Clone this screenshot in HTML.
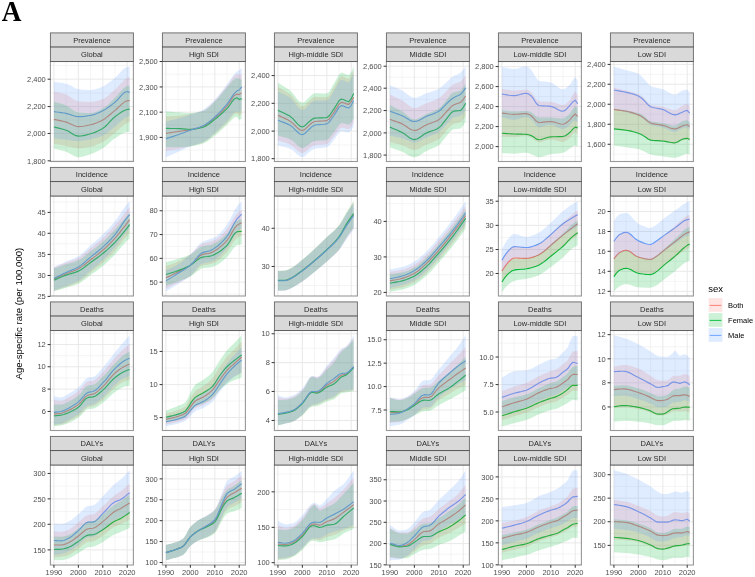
<!DOCTYPE html><html><head><meta charset="utf-8"><title>Figure A</title>
<style>html,body{margin:0;padding:0;background:#fff}svg{display:block;will-change:transform}text{font-family:"Liberation Sans",Arial,sans-serif}</style></head><body>
<svg width="755" height="577" viewBox="0 0 755 577">
<rect width="755" height="577" fill="#fff"/>
<text transform="translate(1.8,20.9) scale(0.935,1)" style="font-family:'Liberation Serif',serif;font-weight:bold;font-size:29.2px" fill="#000">A</text>
<text transform="translate(22.4,313.6) rotate(-90)" text-anchor="middle" font-size="9.6" fill="#000">Age-specific rate (per 100,000)</text>
<g>
<clipPath id="c00"><rect x="50.40" y="61.50" width="83.0" height="100.0"/></clipPath>
<rect x="50.40" y="61.50" width="83.0" height="100.0" fill="#fff"/>
<line x1="50.40" x2="133.40" y1="65.49" y2="65.49" stroke="#ebebeb" stroke-width="0.5"/>
<line x1="50.40" x2="133.40" y1="92.89" y2="92.89" stroke="#ebebeb" stroke-width="0.5"/>
<line x1="50.40" x2="133.40" y1="120.01" y2="120.01" stroke="#ebebeb" stroke-width="0.5"/>
<line x1="50.40" x2="133.40" y1="147.14" y2="147.14" stroke="#ebebeb" stroke-width="0.5"/>
<line x1="66.16" x2="66.16" y1="61.50" y2="161.50" stroke="#ebebeb" stroke-width="0.5"/>
<line x1="90.58" x2="90.58" y1="61.50" y2="161.50" stroke="#ebebeb" stroke-width="0.5"/>
<line x1="115.00" x2="115.00" y1="61.50" y2="161.50" stroke="#ebebeb" stroke-width="0.5"/>
<line x1="50.40" x2="133.40" y1="79.19" y2="79.19" stroke="#e8e8e8" stroke-width="0.95"/>
<line x1="50.40" x2="133.40" y1="106.58" y2="106.58" stroke="#e8e8e8" stroke-width="0.95"/>
<line x1="50.40" x2="133.40" y1="133.44" y2="133.44" stroke="#e8e8e8" stroke-width="0.95"/>
<line x1="50.40" x2="133.40" y1="160.84" y2="160.84" stroke="#e8e8e8" stroke-width="0.95"/>
<line x1="53.95" x2="53.95" y1="61.50" y2="161.50" stroke="#e8e8e8" stroke-width="0.95"/>
<line x1="78.37" x2="78.37" y1="61.50" y2="161.50" stroke="#e8e8e8" stroke-width="0.95"/>
<line x1="102.79" x2="102.79" y1="61.50" y2="161.50" stroke="#e8e8e8" stroke-width="0.95"/>
<line x1="127.21" x2="127.21" y1="61.50" y2="161.50" stroke="#e8e8e8" stroke-width="0.95"/>
<g clip-path="url(#c00)">
<polyline points="53.95,119.38 56.39,119.90 58.83,120.40 61.28,120.91 63.72,121.46 66.16,122.09 68.60,122.99 71.04,124.16 73.49,125.33 75.93,126.23 78.37,126.59 80.81,126.49 83.25,126.21 85.70,125.80 88.14,125.31 90.58,124.79 93.02,124.15 95.46,123.32 97.91,122.31 100.35,121.17 102.79,119.92 105.23,118.41 107.67,116.55 110.12,114.49 112.56,112.38 115.00,110.37 117.44,108.24 119.88,105.88 122.33,103.64 124.77,101.84 127.21,100.82 129.65,100.46" fill="none" stroke="#F8766D" stroke-width="1.15" stroke-linejoin="round"/>
<polyline points="53.95,126.95 56.39,127.57 58.83,128.16 61.28,128.76 63.72,129.43 66.16,130.20 68.60,131.35 71.04,132.90 73.49,134.45 75.93,135.66 78.37,136.14 80.81,136.01 83.25,135.63 85.70,135.10 88.14,134.46 90.58,133.80 93.02,133.06 95.46,132.14 97.91,131.05 100.35,129.80 102.79,128.39 105.23,126.51 107.67,124.06 110.12,121.38 112.56,118.80 115.00,116.68 117.44,114.87 119.88,113.10 122.33,111.52 124.77,110.26 127.21,109.47 129.65,109.11" fill="none" stroke="#00BA38" stroke-width="1.15" stroke-linejoin="round"/>
<polyline points="53.95,111.63 56.39,111.98 58.83,112.30 61.28,112.64 63.72,113.01 66.16,113.43 68.60,114.07 71.04,114.91 73.49,115.76 75.93,116.42 78.37,116.68 80.81,116.61 83.25,116.43 85.70,116.15 88.14,115.80 90.58,115.42 93.02,114.87 95.46,114.06 97.91,113.06 100.35,111.93 102.79,110.73 105.23,109.38 107.67,107.79 110.12,106.03 112.56,104.16 115.00,102.26 117.44,99.92 119.88,97.08 122.33,94.34 124.77,92.26 127.21,91.44 129.65,92.35" fill="none" stroke="#619CFF" stroke-width="1.15" stroke-linejoin="round"/>
<polygon points="53.95,91.44 56.39,92.02 58.83,92.56 61.28,93.11 63.72,93.75 66.16,94.51 68.60,95.73 71.04,97.43 73.49,99.21 75.93,100.65 78.37,101.36 80.81,101.54 83.25,101.69 85.70,101.80 88.14,101.87 90.58,101.90 93.02,101.74 95.46,101.31 97.91,100.66 100.35,99.88 102.79,99.01 105.23,97.81 107.67,96.08 110.12,94.02 112.56,91.81 115.00,89.64 117.44,87.28 119.88,84.59 122.33,81.90 124.77,79.57 127.21,77.93 129.65,77.02 129.65,122.09 127.21,122.99 124.77,124.45 122.33,126.39 119.88,128.60 117.44,130.84 115.00,132.90 112.56,134.84 110.12,136.83 107.67,138.74 105.23,140.47 102.79,141.91 100.35,143.16 97.91,144.32 95.46,145.35 93.02,146.19 90.58,146.78 88.14,147.21 85.70,147.61 83.25,147.93 80.81,148.14 78.37,148.22 75.93,148.05 73.49,147.61 71.04,147.03 68.60,146.41 66.16,145.88 63.72,145.43 61.28,145.00 58.83,144.57 56.39,144.15 53.95,143.72" fill="#F8766D" fill-opacity="0.2"/>
<polygon points="53.95,101.72 56.39,102.44 58.83,103.12 61.28,103.83 63.72,104.60 66.16,105.50 68.60,106.83 71.04,108.59 73.49,110.39 75.93,111.83 78.37,112.53 80.81,112.72 83.25,112.87 85.70,112.98 88.14,113.05 90.58,113.07 93.02,112.81 95.46,112.10 97.91,111.07 100.35,109.85 102.79,108.57 105.23,106.99 107.67,104.92 110.12,102.57 112.56,100.11 115.00,97.75 117.44,95.18 119.88,92.27 122.33,89.47 124.77,87.24 127.21,86.04 129.65,85.68 129.65,132.00 127.21,132.00 124.77,132.41 122.33,133.48 119.88,134.98 117.44,136.66 115.00,138.31 112.56,140.09 110.12,142.19 107.67,144.40 105.23,146.49 102.79,148.22 100.35,149.66 97.91,151.00 95.46,152.21 93.02,153.27 90.58,154.17 88.14,155.01 85.70,155.83 83.25,156.54 80.81,157.04 78.37,157.23 75.93,156.80 73.49,155.72 71.04,154.31 68.60,152.91 66.16,151.83 63.72,151.07 61.28,150.41 58.83,149.80 56.39,149.20 53.95,148.58" fill="#00BA38" fill-opacity="0.2"/>
<polygon points="53.95,81.89 56.39,82.22 58.83,82.53 61.28,82.84 63.72,83.22 66.16,83.69 68.60,84.55 71.04,85.84 73.49,87.23 75.93,88.43 78.37,89.10 80.81,89.39 83.25,89.64 85.70,89.83 88.14,89.96 90.58,90.00 93.02,89.79 95.46,89.22 97.91,88.39 100.35,87.42 102.79,86.40 105.23,85.17 107.67,83.60 110.12,81.79 112.56,79.86 115.00,77.93 117.44,75.58 119.88,72.75 122.33,70.01 124.77,67.93 127.21,67.11 129.65,67.11 129.65,115.78 127.21,116.68 124.77,118.14 122.33,120.09 119.88,122.29 117.44,124.54 115.00,126.59 112.56,128.57 110.12,130.63 107.67,132.60 105.23,134.31 102.79,135.60 100.35,136.56 97.91,137.38 95.46,138.09 93.02,138.69 90.58,139.21 88.14,139.70 85.70,140.19 83.25,140.61 80.81,140.90 78.37,141.01 75.93,140.92 73.49,140.70 71.04,140.39 68.60,140.05 66.16,139.75 63.72,139.47 61.28,139.19 58.83,138.89 56.39,138.60 53.95,138.31" fill="#619CFF" fill-opacity="0.2"/>
</g>
<rect x="50.40" y="61.50" width="83.0" height="100.0" fill="none" stroke="#333" stroke-opacity="0.5" stroke-width="1.1"/>
<rect x="50.40" y="32.90" width="83.0" height="14.2" fill="#d9d9d9" stroke="#333" stroke-opacity="0.72" stroke-width="0.9"/>
<rect x="50.40" y="47.10" width="83.0" height="14.4" fill="#d9d9d9" stroke="#333" stroke-opacity="0.72" stroke-width="0.9"/>
<text x="91.90" y="42.80" text-anchor="middle" font-size="7.5" fill="#2b2b2b">Prevalence</text>
<text x="91.90" y="57.10" text-anchor="middle" font-size="7.5" fill="#2b2b2b">Global</text>
<line x1="47.60" x2="50.40" y1="79.19" y2="79.19" stroke="#333" stroke-width="1.0"/>
<text x="45.80" y="81.89" text-anchor="end" font-size="7.5" fill="#4d4d4d">2,400</text>
<line x1="47.60" x2="50.40" y1="106.58" y2="106.58" stroke="#333" stroke-width="1.0"/>
<text x="45.80" y="109.28" text-anchor="end" font-size="7.5" fill="#4d4d4d">2,200</text>
<line x1="47.60" x2="50.40" y1="133.44" y2="133.44" stroke="#333" stroke-width="1.0"/>
<text x="45.80" y="136.14" text-anchor="end" font-size="7.5" fill="#4d4d4d">2,000</text>
<line x1="47.60" x2="50.40" y1="160.84" y2="160.84" stroke="#333" stroke-width="1.0"/>
<text x="45.80" y="163.54" text-anchor="end" font-size="7.5" fill="#4d4d4d">1,800</text>
</g>
<g>
<clipPath id="c01"><rect x="162.40" y="61.50" width="83.0" height="100.0"/></clipPath>
<rect x="162.40" y="61.50" width="83.0" height="100.0" fill="#fff"/>
<line x1="162.40" x2="245.40" y1="74.23" y2="74.23" stroke="#ebebeb" stroke-width="0.5"/>
<line x1="162.40" x2="245.40" y1="99.56" y2="99.56" stroke="#ebebeb" stroke-width="0.5"/>
<line x1="162.40" x2="245.40" y1="124.79" y2="124.79" stroke="#ebebeb" stroke-width="0.5"/>
<line x1="162.40" x2="245.40" y1="150.11" y2="150.11" stroke="#ebebeb" stroke-width="0.5"/>
<line x1="178.16" x2="178.16" y1="61.50" y2="161.50" stroke="#ebebeb" stroke-width="0.5"/>
<line x1="202.58" x2="202.58" y1="61.50" y2="161.50" stroke="#ebebeb" stroke-width="0.5"/>
<line x1="227.00" x2="227.00" y1="61.50" y2="161.50" stroke="#ebebeb" stroke-width="0.5"/>
<line x1="162.40" x2="245.40" y1="61.52" y2="61.52" stroke="#e8e8e8" stroke-width="0.95"/>
<line x1="162.40" x2="245.40" y1="86.94" y2="86.94" stroke="#e8e8e8" stroke-width="0.95"/>
<line x1="162.40" x2="245.40" y1="112.17" y2="112.17" stroke="#e8e8e8" stroke-width="0.95"/>
<line x1="162.40" x2="245.40" y1="137.41" y2="137.41" stroke="#e8e8e8" stroke-width="0.95"/>
<line x1="165.95" x2="165.95" y1="61.50" y2="161.50" stroke="#e8e8e8" stroke-width="0.95"/>
<line x1="190.37" x2="190.37" y1="61.50" y2="161.50" stroke="#e8e8e8" stroke-width="0.95"/>
<line x1="214.79" x2="214.79" y1="61.50" y2="161.50" stroke="#e8e8e8" stroke-width="0.95"/>
<line x1="239.21" x2="239.21" y1="61.50" y2="161.50" stroke="#e8e8e8" stroke-width="0.95"/>
<g clip-path="url(#c01)">
<polyline points="165.95,133.44 168.39,133.04 170.83,132.64 173.28,132.24 175.72,131.84 178.16,131.46 180.60,131.10 183.04,130.77 185.49,130.44 187.93,130.07 190.37,129.66 192.81,129.19 195.25,128.68 197.70,128.10 200.14,127.41 202.58,126.59 205.02,125.45 207.46,123.91 209.91,122.10 212.35,120.12 214.79,118.12 217.23,116.04 219.67,113.79 222.12,111.39 224.56,108.86 227.00,106.22 229.44,102.83 231.88,98.85 234.33,95.53 236.77,94.15 239.21,94.51 241.65,92.89" fill="none" stroke="#F8766D" stroke-width="1.15" stroke-linejoin="round"/>
<polyline points="165.95,128.39 168.39,128.43 170.83,128.46 173.28,128.49 175.72,128.52 178.16,128.57 180.60,128.69 183.04,128.87 185.49,129.07 187.93,129.23 190.37,129.30 192.81,129.20 195.25,128.94 197.70,128.55 200.14,128.06 202.58,127.49 205.02,126.57 207.46,125.10 209.91,123.29 212.35,121.32 214.79,119.38 217.23,117.46 219.67,115.40 222.12,113.22 224.56,110.94 227.00,108.57 229.44,105.52 231.88,101.95 234.33,98.99 236.77,97.75 239.21,99.56 241.65,98.65" fill="none" stroke="#00BA38" stroke-width="1.15" stroke-linejoin="round"/>
<polyline points="165.95,138.67 168.39,137.88 170.83,137.11 173.28,136.33 175.72,135.53 178.16,134.70 180.60,133.83 183.04,132.92 185.49,132.00 187.93,131.08 190.37,130.20 192.81,129.39 195.25,128.66 197.70,127.91 200.14,127.07 202.58,126.05 205.02,124.73 207.46,123.08 209.91,121.20 212.35,119.16 214.79,117.04 217.23,114.79 219.67,112.33 222.12,109.69 224.56,106.92 227.00,104.06 229.44,100.68 231.88,96.86 234.33,93.40 236.77,91.08 239.21,90.00 241.65,86.94" fill="none" stroke="#619CFF" stroke-width="1.15" stroke-linejoin="round"/>
<polygon points="165.95,116.32 168.39,116.22 170.83,116.13 173.28,116.04 175.72,115.92 178.16,115.78 180.60,115.56 183.04,115.24 185.49,114.86 187.93,114.43 190.37,113.97 192.81,113.52 195.25,113.02 197.70,112.45 200.14,111.76 202.58,110.91 205.02,109.64 207.46,107.83 209.91,105.65 212.35,103.25 214.79,100.82 217.23,98.22 219.67,95.30 222.12,92.21 224.56,89.07 227.00,86.04 229.44,82.55 231.88,78.71 234.33,75.60 236.77,74.32 239.21,74.32 241.65,74.32 241.65,113.97 239.21,115.78 236.77,113.07 234.33,114.19 231.88,116.87 229.44,120.14 227.00,122.99 224.56,125.28 222.12,127.52 219.67,129.69 217.23,131.79 214.79,133.80 212.35,135.84 209.91,137.93 207.46,139.90 205.02,141.58 202.58,142.81 200.14,143.66 197.70,144.34 195.25,144.92 192.81,145.47 190.37,146.06 187.93,146.71 185.49,147.37 183.04,148.02 180.60,148.61 178.16,149.12 175.72,149.54 173.28,149.91 170.83,150.25 168.39,150.58 165.95,150.93" fill="#F8766D" fill-opacity="0.2"/>
<polygon points="165.95,111.27 168.39,111.49 170.83,111.72 173.28,111.95 175.72,112.16 178.16,112.35 180.60,112.54 183.04,112.73 185.49,112.90 187.93,113.03 190.37,113.07 192.81,112.98 195.25,112.73 197.70,112.34 200.14,111.85 202.58,111.27 205.02,110.26 207.46,108.57 209.91,106.44 212.35,104.08 214.79,101.72 217.23,99.19 219.67,96.30 222.12,93.26 224.56,90.25 227.00,87.48 229.44,84.53 231.88,81.41 234.33,78.93 236.77,77.93 239.21,78.83 241.65,79.73 241.65,118.84 239.21,119.92 236.77,116.68 234.33,117.55 231.88,119.69 229.44,122.35 227.00,124.79 224.56,126.96 222.12,129.21 219.67,131.47 217.23,133.63 214.79,135.60 212.35,137.50 209.91,139.40 207.46,141.17 205.02,142.65 202.58,143.72 200.14,144.47 197.70,145.12 195.25,145.66 192.81,146.09 190.37,146.42 187.93,146.69 185.49,146.93 183.04,147.13 180.60,147.27 178.16,147.32 175.72,147.32 173.28,147.32 170.83,147.32 168.39,147.32 165.95,147.32" fill="#00BA38" fill-opacity="0.2"/>
<polygon points="165.95,121.55 168.39,120.94 170.83,120.36 173.28,119.76 175.72,119.14 178.16,118.48 180.60,117.76 183.04,116.99 185.49,116.19 187.93,115.36 190.37,114.52 192.81,113.71 195.25,112.93 197.70,112.10 200.14,111.15 202.58,110.01 205.02,108.51 207.46,106.62 209.91,104.42 212.35,102.03 214.79,99.56 217.23,96.87 219.67,93.87 222.12,90.67 224.56,87.42 227.00,84.23 229.44,80.86 231.88,77.29 234.33,74.04 236.77,71.62 239.21,70.18 241.65,68.01 241.65,110.37 239.21,112.17 236.77,111.27 234.33,112.37 231.88,115.02 229.44,118.28 227.00,121.18 224.56,123.61 222.12,126.05 219.67,128.43 217.23,130.73 214.79,132.90 212.35,135.02 209.91,137.15 207.46,139.15 205.02,140.90 202.58,142.27 200.14,143.29 197.70,144.11 195.25,144.84 192.81,145.57 190.37,146.42 187.93,147.41 185.49,148.48 183.04,149.59 180.60,150.72 178.16,151.83 175.72,152.91 173.28,153.99 170.83,155.07 168.39,156.15 165.95,157.23" fill="#619CFF" fill-opacity="0.2"/>
</g>
<rect x="162.40" y="61.50" width="83.0" height="100.0" fill="none" stroke="#333" stroke-opacity="0.5" stroke-width="1.1"/>
<rect x="162.40" y="32.90" width="83.0" height="14.2" fill="#d9d9d9" stroke="#333" stroke-opacity="0.72" stroke-width="0.9"/>
<rect x="162.40" y="47.10" width="83.0" height="14.4" fill="#d9d9d9" stroke="#333" stroke-opacity="0.72" stroke-width="0.9"/>
<text x="203.90" y="42.80" text-anchor="middle" font-size="7.5" fill="#2b2b2b">Prevalence</text>
<text x="203.90" y="57.10" text-anchor="middle" font-size="7.5" fill="#2b2b2b">High SDI</text>
<line x1="159.60" x2="162.40" y1="61.52" y2="61.52" stroke="#333" stroke-width="1.0"/>
<text x="157.80" y="64.22" text-anchor="end" font-size="7.5" fill="#4d4d4d">2,500</text>
<line x1="159.60" x2="162.40" y1="86.94" y2="86.94" stroke="#333" stroke-width="1.0"/>
<text x="157.80" y="89.64" text-anchor="end" font-size="7.5" fill="#4d4d4d">2,300</text>
<line x1="159.60" x2="162.40" y1="112.17" y2="112.17" stroke="#333" stroke-width="1.0"/>
<text x="157.80" y="114.87" text-anchor="end" font-size="7.5" fill="#4d4d4d">2,100</text>
<line x1="159.60" x2="162.40" y1="137.41" y2="137.41" stroke="#333" stroke-width="1.0"/>
<text x="157.80" y="140.11" text-anchor="end" font-size="7.5" fill="#4d4d4d">1,900</text>
</g>
<g>
<clipPath id="c02"><rect x="274.40" y="61.50" width="83.0" height="100.0"/></clipPath>
<rect x="274.40" y="61.50" width="83.0" height="100.0" fill="#fff"/>
<line x1="274.40" x2="357.40" y1="61.70" y2="61.70" stroke="#ebebeb" stroke-width="0.5"/>
<line x1="274.40" x2="357.40" y1="89.46" y2="89.46" stroke="#ebebeb" stroke-width="0.5"/>
<line x1="274.40" x2="357.40" y1="117.22" y2="117.22" stroke="#ebebeb" stroke-width="0.5"/>
<line x1="274.40" x2="357.40" y1="144.89" y2="144.89" stroke="#ebebeb" stroke-width="0.5"/>
<line x1="290.16" x2="290.16" y1="61.50" y2="161.50" stroke="#ebebeb" stroke-width="0.5"/>
<line x1="314.58" x2="314.58" y1="61.50" y2="161.50" stroke="#ebebeb" stroke-width="0.5"/>
<line x1="339.00" x2="339.00" y1="61.50" y2="161.50" stroke="#ebebeb" stroke-width="0.5"/>
<line x1="274.40" x2="357.40" y1="75.58" y2="75.58" stroke="#e8e8e8" stroke-width="0.95"/>
<line x1="274.40" x2="357.40" y1="103.34" y2="103.34" stroke="#e8e8e8" stroke-width="0.95"/>
<line x1="274.40" x2="357.40" y1="131.10" y2="131.10" stroke="#e8e8e8" stroke-width="0.95"/>
<line x1="274.40" x2="357.40" y1="158.68" y2="158.68" stroke="#e8e8e8" stroke-width="0.95"/>
<line x1="277.95" x2="277.95" y1="61.50" y2="161.50" stroke="#e8e8e8" stroke-width="0.95"/>
<line x1="302.37" x2="302.37" y1="61.50" y2="161.50" stroke="#e8e8e8" stroke-width="0.95"/>
<line x1="326.79" x2="326.79" y1="61.50" y2="161.50" stroke="#e8e8e8" stroke-width="0.95"/>
<line x1="351.21" x2="351.21" y1="61.50" y2="161.50" stroke="#e8e8e8" stroke-width="0.95"/>
<g clip-path="url(#c02)">
<polyline points="277.95,115.24 280.39,116.38 282.83,117.49 285.28,118.61 287.72,119.82 290.16,121.18 292.60,123.09 295.04,125.53 297.49,127.96 299.93,129.82 302.37,130.56 304.81,129.45 307.25,127.06 309.70,124.79 312.14,122.82 314.58,121.55 317.02,121.28 319.46,121.14 321.91,121.05 324.35,120.91 326.79,120.64 329.23,118.96 331.67,115.64 334.12,112.17 336.56,108.25 339.00,104.15 341.44,102.26 343.88,102.82 346.33,103.86 348.77,104.42 351.21,101.72 353.65,97.21" fill="none" stroke="#F8766D" stroke-width="1.15" stroke-linejoin="round"/>
<polyline points="277.95,110.37 280.39,111.51 282.83,112.59 285.28,113.70 287.72,114.91 290.16,116.32 292.60,118.40 295.04,121.16 297.49,123.94 299.93,126.09 302.37,126.95 304.81,125.83 307.25,123.43 309.70,121.18 312.14,119.29 314.58,118.12 317.02,117.95 319.46,117.87 321.91,117.82 324.35,117.74 326.79,117.58 329.23,115.83 331.67,112.23 334.12,108.57 336.56,104.72 339.00,100.80 341.44,99.01 343.88,99.72 346.33,101.02 348.77,101.72 351.21,98.68 353.65,93.61" fill="none" stroke="#00BA38" stroke-width="1.15" stroke-linejoin="round"/>
<polyline points="277.95,120.28 280.39,121.24 282.83,122.16 285.28,123.09 287.72,124.13 290.16,125.33 292.60,127.14 295.04,129.57 297.49,132.03 299.93,133.94 302.37,134.70 304.81,133.58 307.25,131.13 309.70,128.75 312.14,126.61 314.58,125.15 317.02,124.78 319.46,124.59 321.91,124.45 324.35,124.26 326.79,123.89 329.23,122.10 331.67,118.73 334.12,115.24 336.56,111.36 339.00,107.35 341.44,105.50 343.88,106.16 346.33,107.37 348.77,108.03 351.21,105.32 353.65,100.82" fill="none" stroke="#619CFF" stroke-width="1.15" stroke-linejoin="round"/>
<polygon points="277.95,86.94 280.39,88.32 282.83,89.65 285.28,91.00 287.72,92.47 290.16,94.15 292.60,96.56 295.04,99.70 297.49,102.84 299.93,105.26 302.37,106.22 304.81,105.14 307.25,102.78 309.70,100.46 312.14,98.19 314.58,96.85 317.02,96.89 319.46,96.98 321.91,97.09 324.35,97.17 326.79,97.21 329.23,95.33 331.67,91.16 334.12,86.94 336.56,82.57 339.00,78.15 341.44,76.12 343.88,76.82 346.33,78.13 348.77,78.83 351.21,75.45 353.65,69.81 353.65,122.45 351.21,126.73 348.77,129.30 346.33,128.83 343.88,127.96 341.44,127.49 339.00,129.12 336.56,132.68 334.12,136.14 331.67,139.33 329.23,142.44 326.79,144.08 324.35,144.40 321.91,144.56 319.46,144.68 317.02,144.84 314.58,145.16 312.14,146.40 309.70,148.22 307.25,150.18 304.81,152.18 302.37,153.09 299.93,152.39 297.49,150.64 295.04,148.40 292.60,146.21 290.16,144.62 287.72,143.61 285.28,142.75 282.83,141.99 280.39,141.25 277.95,140.47" fill="#F8766D" fill-opacity="0.2"/>
<polygon points="277.95,82.79 280.39,84.29 282.83,85.72 285.28,87.19 287.72,88.77 290.16,90.54 292.60,93.03 295.04,96.22 297.49,99.40 299.93,101.83 302.37,102.80 304.81,101.68 307.25,99.23 309.70,96.85 312.14,94.58 314.58,93.25 317.02,93.28 319.46,93.37 321.91,93.48 324.35,93.57 326.79,93.61 329.23,91.72 331.67,87.56 334.12,83.33 336.56,78.97 339.00,74.54 341.44,72.52 343.88,73.22 346.33,74.52 348.77,75.22 351.21,71.98 353.65,66.57 353.65,118.48 351.21,122.42 348.77,124.79 346.33,124.32 343.88,123.45 341.44,122.99 339.00,124.69 336.56,128.40 334.12,132.00 331.67,135.29 329.23,138.48 326.79,140.11 324.35,140.38 321.91,140.52 319.46,140.61 317.02,140.75 314.58,141.01 312.14,142.10 309.70,143.72 307.25,145.51 304.81,147.37 302.37,148.22 299.93,147.45 297.49,145.54 295.04,143.12 292.60,140.81 290.16,139.21 287.72,138.29 285.28,137.54 282.83,136.90 280.39,136.28 277.95,135.60" fill="#00BA38" fill-opacity="0.2"/>
<polygon points="277.95,91.44 280.39,92.64 282.83,93.77 285.28,94.94 287.72,96.23 290.16,97.75 292.60,100.09 295.04,103.27 297.49,106.49 299.93,109.00 302.37,110.01 304.81,108.89 307.25,106.44 309.70,104.06 312.14,101.79 314.58,100.46 317.02,100.46 319.46,100.46 321.91,100.46 324.35,100.46 326.79,100.46 329.23,98.65 331.67,94.65 334.12,90.54 336.56,86.21 339.00,81.77 341.44,79.73 343.88,80.43 346.33,81.73 348.77,82.43 351.21,79.05 353.65,73.42 353.65,126.59 351.21,130.31 348.77,132.54 346.33,132.17 343.88,131.47 341.44,131.10 339.00,132.74 336.56,136.31 334.12,139.75 331.67,142.79 329.23,145.71 326.79,147.32 324.35,147.74 321.91,147.97 319.46,148.13 317.02,148.36 314.58,148.76 312.14,150.02 309.70,151.83 307.25,153.96 304.81,156.20 302.37,157.23 299.93,156.50 297.49,154.70 295.04,152.42 292.60,150.24 290.16,148.76 287.72,147.93 285.28,147.26 282.83,146.68 280.39,146.12 277.95,145.52" fill="#619CFF" fill-opacity="0.2"/>
</g>
<rect x="274.40" y="61.50" width="83.0" height="100.0" fill="none" stroke="#333" stroke-opacity="0.5" stroke-width="1.1"/>
<rect x="274.40" y="32.90" width="83.0" height="14.2" fill="#d9d9d9" stroke="#333" stroke-opacity="0.72" stroke-width="0.9"/>
<rect x="274.40" y="47.10" width="83.0" height="14.4" fill="#d9d9d9" stroke="#333" stroke-opacity="0.72" stroke-width="0.9"/>
<text x="315.90" y="42.80" text-anchor="middle" font-size="7.5" fill="#2b2b2b">Prevalence</text>
<text x="315.90" y="57.10" text-anchor="middle" font-size="7.5" fill="#2b2b2b">High-middle SDI</text>
<line x1="271.60" x2="274.40" y1="75.58" y2="75.58" stroke="#333" stroke-width="1.0"/>
<text x="269.80" y="78.28" text-anchor="end" font-size="7.5" fill="#4d4d4d">2,400</text>
<line x1="271.60" x2="274.40" y1="103.34" y2="103.34" stroke="#333" stroke-width="1.0"/>
<text x="269.80" y="106.04" text-anchor="end" font-size="7.5" fill="#4d4d4d">2,200</text>
<line x1="271.60" x2="274.40" y1="131.10" y2="131.10" stroke="#333" stroke-width="1.0"/>
<text x="269.80" y="133.80" text-anchor="end" font-size="7.5" fill="#4d4d4d">2,000</text>
<line x1="271.60" x2="274.40" y1="158.68" y2="158.68" stroke="#333" stroke-width="1.0"/>
<text x="269.80" y="161.38" text-anchor="end" font-size="7.5" fill="#4d4d4d">1,800</text>
</g>
<g>
<clipPath id="c03"><rect x="386.40" y="61.50" width="83.0" height="100.0"/></clipPath>
<rect x="386.40" y="61.50" width="83.0" height="100.0" fill="#fff"/>
<line x1="386.40" x2="469.40" y1="77.20" y2="77.20" stroke="#ebebeb" stroke-width="0.5"/>
<line x1="386.40" x2="469.40" y1="99.37" y2="99.37" stroke="#ebebeb" stroke-width="0.5"/>
<line x1="386.40" x2="469.40" y1="121.73" y2="121.73" stroke="#ebebeb" stroke-width="0.5"/>
<line x1="386.40" x2="469.40" y1="143.99" y2="143.99" stroke="#ebebeb" stroke-width="0.5"/>
<line x1="402.16" x2="402.16" y1="61.50" y2="161.50" stroke="#ebebeb" stroke-width="0.5"/>
<line x1="426.58" x2="426.58" y1="61.50" y2="161.50" stroke="#ebebeb" stroke-width="0.5"/>
<line x1="451.00" x2="451.00" y1="61.50" y2="161.50" stroke="#ebebeb" stroke-width="0.5"/>
<line x1="386.40" x2="469.40" y1="66.21" y2="66.21" stroke="#e8e8e8" stroke-width="0.95"/>
<line x1="386.40" x2="469.40" y1="88.20" y2="88.20" stroke="#e8e8e8" stroke-width="0.95"/>
<line x1="386.40" x2="469.40" y1="110.55" y2="110.55" stroke="#e8e8e8" stroke-width="0.95"/>
<line x1="386.40" x2="469.40" y1="132.90" y2="132.90" stroke="#e8e8e8" stroke-width="0.95"/>
<line x1="386.40" x2="469.40" y1="155.07" y2="155.07" stroke="#e8e8e8" stroke-width="0.95"/>
<line x1="389.95" x2="389.95" y1="61.50" y2="161.50" stroke="#e8e8e8" stroke-width="0.95"/>
<line x1="414.37" x2="414.37" y1="61.50" y2="161.50" stroke="#e8e8e8" stroke-width="0.95"/>
<line x1="438.79" x2="438.79" y1="61.50" y2="161.50" stroke="#e8e8e8" stroke-width="0.95"/>
<line x1="463.21" x2="463.21" y1="61.50" y2="161.50" stroke="#e8e8e8" stroke-width="0.95"/>
<g clip-path="url(#c03)">
<polyline points="389.95,119.38 392.39,120.26 394.83,121.10 397.28,121.96 399.72,122.88 402.16,123.89 404.60,125.27 407.04,127.01 409.49,128.73 411.93,130.04 414.37,130.56 416.81,130.13 419.25,129.04 421.70,127.59 424.14,126.08 426.58,124.79 429.02,123.81 431.46,122.96 433.91,122.08 436.35,121.05 438.79,119.74 441.23,117.66 443.67,114.90 446.12,112.17 448.56,109.50 451.00,106.87 453.44,104.96 455.88,104.00 458.33,103.32 460.77,102.26 463.21,99.53 465.65,95.95" fill="none" stroke="#F8766D" stroke-width="1.15" stroke-linejoin="round"/>
<polyline points="389.95,127.13 392.39,128.19 394.83,129.23 397.28,130.28 399.72,131.37 402.16,132.54 404.60,134.05 407.04,135.89 409.49,137.68 411.93,139.03 414.37,139.57 416.81,139.06 419.25,137.77 421.70,136.08 424.14,134.33 426.58,132.90 429.02,131.89 431.46,131.04 433.91,130.19 436.35,129.19 438.79,127.85 441.23,125.58 443.67,122.46 446.12,119.38 448.56,116.17 451.00,113.00 453.44,111.27 455.88,110.93 458.33,110.74 460.77,110.37 463.21,107.52 465.65,103.16" fill="none" stroke="#00BA38" stroke-width="1.15" stroke-linejoin="round"/>
<polyline points="389.95,111.27 392.39,112.15 394.83,113.02 397.28,113.90 399.72,114.81 402.16,115.78 404.60,117.02 407.04,118.54 409.49,120.00 411.93,121.11 414.37,121.55 416.81,121.17 419.25,120.20 421.70,118.90 424.14,117.52 426.58,116.32 429.02,115.37 431.46,114.51 433.91,113.61 436.35,112.57 438.79,111.27 441.23,109.25 443.67,106.60 446.12,104.06 448.56,101.77 451.00,99.57 453.44,97.75 455.88,96.54 458.33,95.54 460.77,94.15 463.21,91.33 465.65,87.84" fill="none" stroke="#619CFF" stroke-width="1.15" stroke-linejoin="round"/>
<polygon points="389.95,94.69 392.39,95.82 394.83,96.92 397.28,98.04 399.72,99.20 402.16,100.46 404.60,102.08 407.04,104.06 409.49,105.99 411.93,107.45 414.37,108.03 416.81,107.68 419.25,106.78 421.70,105.57 424.14,104.29 426.58,103.16 429.02,102.26 431.46,101.42 433.91,100.56 436.35,99.55 438.79,98.29 441.23,96.41 443.67,93.95 446.12,91.44 448.56,88.83 451.00,86.17 453.44,84.23 455.88,83.27 458.33,82.59 460.77,81.53 463.21,78.80 465.65,75.22 465.65,115.78 463.21,119.46 460.77,122.09 458.33,122.81 455.88,123.23 453.44,123.89 451.00,125.62 448.56,128.31 446.12,131.10 443.67,133.98 441.23,136.96 438.79,139.21 436.35,140.62 433.91,141.75 431.46,142.70 429.02,143.62 426.58,144.62 424.14,145.87 421.70,147.30 419.25,148.64 416.81,149.63 414.37,150.02 411.93,149.64 409.49,148.68 407.04,147.43 404.60,146.16 402.16,145.16 399.72,144.43 397.28,143.77 394.83,143.15 392.39,142.54 389.95,141.91" fill="#F8766D" fill-opacity="0.2"/>
<polygon points="389.95,104.96 392.39,106.20 394.83,107.41 397.28,108.63 399.72,109.91 402.16,111.27 404.60,113.02 407.04,115.15 409.49,117.21 411.93,118.77 414.37,119.38 416.81,118.99 419.25,118.00 421.70,116.66 424.14,115.23 426.58,113.97 429.02,112.98 431.46,112.06 433.91,111.11 436.35,109.98 438.79,108.57 441.23,106.35 443.67,103.40 446.12,100.46 448.56,97.37 451.00,94.28 453.44,92.35 455.88,91.68 458.33,91.27 460.77,90.54 463.21,87.57 465.65,83.33 465.65,121.18 463.21,125.54 460.77,128.39 458.33,128.77 455.88,128.96 453.44,129.30 451.00,130.82 448.56,133.59 446.12,136.51 443.67,139.53 441.23,142.74 438.79,145.16 436.35,146.66 433.91,147.84 431.46,148.85 429.02,149.83 426.58,150.93 424.14,152.35 421.70,154.01 419.25,155.59 416.81,156.77 414.37,157.23 411.93,156.83 409.49,155.80 407.04,154.44 404.60,153.02 402.16,151.83 399.72,150.87 397.28,149.96 394.83,149.08 392.39,148.21 389.95,147.32" fill="#00BA38" fill-opacity="0.2"/>
<polygon points="389.95,85.14 392.39,86.19 394.83,87.22 397.28,88.27 399.72,89.36 402.16,90.54 404.60,92.08 407.04,93.97 409.49,95.81 411.93,97.20 414.37,97.75 416.81,97.43 419.25,96.60 421.70,95.48 424.14,94.29 426.58,93.25 429.02,92.41 431.46,91.64 433.91,90.83 436.35,89.90 438.79,88.74 441.23,86.99 443.67,84.71 446.12,82.43 448.56,80.20 451.00,77.97 453.44,76.12 455.88,74.91 458.33,73.91 460.77,72.52 463.21,69.70 465.65,66.21 465.65,109.47 463.21,113.15 460.77,115.78 458.33,116.50 455.88,116.92 453.44,117.58 451.00,119.34 448.56,122.07 446.12,124.79 443.67,127.38 441.23,129.98 438.79,132.00 436.35,133.38 433.91,134.51 431.46,135.49 429.02,136.42 426.58,137.41 424.14,138.60 421.70,139.93 419.25,141.18 416.81,142.10 414.37,142.45 411.93,142.13 409.49,141.31 407.04,140.24 404.60,139.16 402.16,138.31 399.72,137.69 397.28,137.14 394.83,136.63 392.39,136.13 389.95,135.60" fill="#619CFF" fill-opacity="0.2"/>
</g>
<rect x="386.40" y="61.50" width="83.0" height="100.0" fill="none" stroke="#333" stroke-opacity="0.5" stroke-width="1.1"/>
<rect x="386.40" y="32.90" width="83.0" height="14.2" fill="#d9d9d9" stroke="#333" stroke-opacity="0.72" stroke-width="0.9"/>
<rect x="386.40" y="47.10" width="83.0" height="14.4" fill="#d9d9d9" stroke="#333" stroke-opacity="0.72" stroke-width="0.9"/>
<text x="427.90" y="42.80" text-anchor="middle" font-size="7.5" fill="#2b2b2b">Prevalence</text>
<text x="427.90" y="57.10" text-anchor="middle" font-size="7.5" fill="#2b2b2b">Middle SDI</text>
<line x1="383.60" x2="386.40" y1="66.21" y2="66.21" stroke="#333" stroke-width="1.0"/>
<text x="381.80" y="68.91" text-anchor="end" font-size="7.5" fill="#4d4d4d">2,600</text>
<line x1="383.60" x2="386.40" y1="88.20" y2="88.20" stroke="#333" stroke-width="1.0"/>
<text x="381.80" y="90.90" text-anchor="end" font-size="7.5" fill="#4d4d4d">2,400</text>
<line x1="383.60" x2="386.40" y1="110.55" y2="110.55" stroke="#333" stroke-width="1.0"/>
<text x="381.80" y="113.25" text-anchor="end" font-size="7.5" fill="#4d4d4d">2,200</text>
<line x1="383.60" x2="386.40" y1="132.90" y2="132.90" stroke="#333" stroke-width="1.0"/>
<text x="381.80" y="135.60" text-anchor="end" font-size="7.5" fill="#4d4d4d">2,000</text>
<line x1="383.60" x2="386.40" y1="155.07" y2="155.07" stroke="#333" stroke-width="1.0"/>
<text x="381.80" y="157.77" text-anchor="end" font-size="7.5" fill="#4d4d4d">1,800</text>
</g>
<g>
<clipPath id="c04"><rect x="498.40" y="61.50" width="83.0" height="100.0"/></clipPath>
<rect x="498.40" y="61.50" width="83.0" height="100.0" fill="#fff"/>
<line x1="498.40" x2="581.40" y1="76.57" y2="76.57" stroke="#ebebeb" stroke-width="0.5"/>
<line x1="498.40" x2="581.40" y1="96.58" y2="96.58" stroke="#ebebeb" stroke-width="0.5"/>
<line x1="498.40" x2="581.40" y1="116.59" y2="116.59" stroke="#ebebeb" stroke-width="0.5"/>
<line x1="498.40" x2="581.40" y1="136.60" y2="136.60" stroke="#ebebeb" stroke-width="0.5"/>
<line x1="498.40" x2="581.40" y1="156.60" y2="156.60" stroke="#ebebeb" stroke-width="0.5"/>
<line x1="514.16" x2="514.16" y1="61.50" y2="161.50" stroke="#ebebeb" stroke-width="0.5"/>
<line x1="538.58" x2="538.58" y1="61.50" y2="161.50" stroke="#ebebeb" stroke-width="0.5"/>
<line x1="563.00" x2="563.00" y1="61.50" y2="161.50" stroke="#ebebeb" stroke-width="0.5"/>
<line x1="498.40" x2="581.40" y1="66.57" y2="66.57" stroke="#e8e8e8" stroke-width="0.95"/>
<line x1="498.40" x2="581.40" y1="86.58" y2="86.58" stroke="#e8e8e8" stroke-width="0.95"/>
<line x1="498.40" x2="581.40" y1="106.58" y2="106.58" stroke="#e8e8e8" stroke-width="0.95"/>
<line x1="498.40" x2="581.40" y1="126.59" y2="126.59" stroke="#e8e8e8" stroke-width="0.95"/>
<line x1="498.40" x2="581.40" y1="146.60" y2="146.60" stroke="#e8e8e8" stroke-width="0.95"/>
<line x1="501.95" x2="501.95" y1="61.50" y2="161.50" stroke="#e8e8e8" stroke-width="0.95"/>
<line x1="526.37" x2="526.37" y1="61.50" y2="161.50" stroke="#e8e8e8" stroke-width="0.95"/>
<line x1="550.79" x2="550.79" y1="61.50" y2="161.50" stroke="#e8e8e8" stroke-width="0.95"/>
<line x1="575.21" x2="575.21" y1="61.50" y2="161.50" stroke="#e8e8e8" stroke-width="0.95"/>
<g clip-path="url(#c04)">
<polyline points="501.95,113.07 504.39,113.37 506.83,113.70 509.28,114.01 511.72,114.24 514.16,114.34 516.60,114.26 519.04,114.08 521.49,113.87 523.93,113.69 526.37,113.61 528.81,114.34 531.25,115.78 533.70,118.14 536.14,121.03 538.58,122.45 541.02,122.35 543.46,122.13 545.91,121.86 548.35,121.64 550.79,121.55 553.23,121.83 555.67,122.50 558.12,123.30 560.56,123.97 563.00,124.25 565.44,123.45 567.88,121.56 570.33,119.38 572.77,116.16 575.21,113.97 577.65,116.32" fill="none" stroke="#F8766D" stroke-width="1.15" stroke-linejoin="round"/>
<polyline points="501.95,133.26 504.39,133.41 506.83,133.57 509.28,133.73 511.72,133.87 514.16,133.98 516.60,134.06 519.04,134.11 521.49,134.16 523.93,134.23 526.37,134.34 528.81,134.80 531.25,135.60 533.70,137.05 536.14,138.86 538.58,139.75 541.02,139.47 543.46,138.80 545.91,137.97 548.35,137.25 550.79,136.87 553.23,136.77 555.67,136.72 558.12,136.68 560.56,136.62 563.00,136.51 565.44,135.69 567.88,133.97 570.33,132.00 572.77,129.09 575.21,127.13 577.65,127.85" fill="none" stroke="#00BA38" stroke-width="1.15" stroke-linejoin="round"/>
<polyline points="501.95,94.15 504.39,94.48 506.83,94.86 509.28,95.22 511.72,95.49 514.16,95.59 516.60,95.35 519.04,94.76 521.49,94.07 523.93,93.49 526.37,93.25 528.81,94.14 531.25,95.95 533.70,99.17 536.14,103.27 538.58,105.50 541.02,105.78 543.46,105.94 545.91,106.05 548.35,106.18 550.79,106.40 553.23,107.11 555.67,108.34 558.12,109.70 560.56,110.81 563.00,111.27 565.44,110.14 567.88,107.61 570.33,104.96 572.77,101.96 575.21,100.10 577.65,103.70" fill="none" stroke="#619CFF" stroke-width="1.15" stroke-linejoin="round"/>
<polygon points="501.95,88.74 504.39,89.16 506.83,89.63 509.28,90.08 511.72,90.41 514.16,90.54 516.60,90.45 519.04,90.23 521.49,89.96 523.93,89.74 526.37,89.64 528.81,90.54 531.25,92.35 533.70,95.44 536.14,99.32 538.58,101.36 541.02,101.53 543.46,101.62 545.91,101.68 548.35,101.76 550.79,101.90 553.23,102.33 555.67,103.11 558.12,103.97 560.56,104.67 563.00,104.96 565.44,104.13 567.88,102.10 570.33,99.56 572.77,94.86 575.21,91.44 577.65,95.05 577.65,134.70 575.21,132.00 572.77,134.21 570.33,137.41 567.88,139.45 565.44,141.18 563.00,141.91 560.56,141.67 558.12,141.09 555.67,140.39 553.23,139.81 550.79,139.57 548.35,139.85 545.91,140.52 543.46,141.32 541.02,141.99 538.58,142.27 536.14,141.26 533.70,139.17 531.25,137.41 528.81,136.22 526.37,135.60 523.93,135.74 521.49,136.05 519.04,136.42 516.60,136.73 514.16,136.87 511.72,136.84 509.28,136.77 506.83,136.68 504.39,136.59 501.95,136.51" fill="#F8766D" fill-opacity="0.2"/>
<polygon points="501.95,110.37 504.39,110.58 506.83,110.82 509.28,111.04 511.72,111.21 514.16,111.27 516.60,111.23 519.04,111.14 521.49,111.04 523.93,110.95 526.37,110.91 528.81,111.32 531.25,112.17 533.70,113.98 536.14,116.38 538.58,117.58 541.02,117.58 543.46,117.58 545.91,117.58 548.35,117.58 550.79,117.58 553.23,117.67 555.67,117.90 558.12,118.16 560.56,118.39 563.00,118.48 565.44,117.61 567.88,115.55 570.33,113.07 572.77,109.05 575.21,106.22 577.65,107.67 577.65,146.42 575.21,145.52 572.77,146.51 570.33,148.22 567.88,149.91 565.44,151.65 563.00,152.73 560.56,153.14 558.12,153.42 555.67,153.63 553.23,153.85 550.79,154.17 548.35,154.74 545.91,155.53 543.46,156.34 541.02,156.98 538.58,157.23 536.14,156.62 533.70,155.34 531.25,154.17 528.81,153.24 526.37,152.73 523.93,152.82 521.49,153.04 519.04,153.31 516.60,153.53 514.16,153.63 511.72,153.59 509.28,153.49 506.83,153.36 504.39,153.21 501.95,153.09" fill="#00BA38" fill-opacity="0.2"/>
<polygon points="501.95,67.11 504.39,67.53 506.83,68.01 509.28,68.45 511.72,68.78 514.16,68.91 516.60,68.63 519.04,67.96 521.49,67.16 523.93,66.49 526.37,66.21 528.81,67.42 531.25,69.81 533.70,73.51 536.14,78.04 538.58,80.63 541.02,81.18 543.46,81.50 545.91,81.72 548.35,81.99 550.79,82.43 553.23,83.51 555.67,85.25 558.12,87.14 560.56,88.66 563.00,89.28 565.44,88.50 567.88,86.59 570.33,84.23 572.77,80.04 575.21,77.02 577.65,80.63 577.65,122.99 575.21,120.28 572.77,122.08 570.33,124.79 567.88,126.77 565.44,128.53 563.00,129.30 560.56,128.83 558.12,127.71 555.67,126.38 553.23,125.26 550.79,124.79 548.35,125.03 545.91,125.61 543.46,126.31 541.02,126.89 538.58,127.13 536.14,125.47 533.70,122.09 531.25,119.38 528.81,117.82 526.37,117.04 523.93,117.34 521.49,118.05 519.04,118.91 516.60,119.62 514.16,119.92 511.72,119.72 509.28,119.18 506.83,118.47 504.39,117.71 501.95,117.04" fill="#619CFF" fill-opacity="0.2"/>
</g>
<rect x="498.40" y="61.50" width="83.0" height="100.0" fill="none" stroke="#333" stroke-opacity="0.5" stroke-width="1.1"/>
<rect x="498.40" y="32.90" width="83.0" height="14.2" fill="#d9d9d9" stroke="#333" stroke-opacity="0.72" stroke-width="0.9"/>
<rect x="498.40" y="47.10" width="83.0" height="14.4" fill="#d9d9d9" stroke="#333" stroke-opacity="0.72" stroke-width="0.9"/>
<text x="539.90" y="42.80" text-anchor="middle" font-size="7.5" fill="#2b2b2b">Prevalence</text>
<text x="539.90" y="57.10" text-anchor="middle" font-size="7.5" fill="#2b2b2b">Low-middle SDI</text>
<line x1="495.60" x2="498.40" y1="66.57" y2="66.57" stroke="#333" stroke-width="1.0"/>
<text x="493.80" y="69.27" text-anchor="end" font-size="7.5" fill="#4d4d4d">2,800</text>
<line x1="495.60" x2="498.40" y1="86.58" y2="86.58" stroke="#333" stroke-width="1.0"/>
<text x="493.80" y="89.28" text-anchor="end" font-size="7.5" fill="#4d4d4d">2,600</text>
<line x1="495.60" x2="498.40" y1="106.58" y2="106.58" stroke="#333" stroke-width="1.0"/>
<text x="493.80" y="109.28" text-anchor="end" font-size="7.5" fill="#4d4d4d">2,400</text>
<line x1="495.60" x2="498.40" y1="126.59" y2="126.59" stroke="#333" stroke-width="1.0"/>
<text x="493.80" y="129.29" text-anchor="end" font-size="7.5" fill="#4d4d4d">2,200</text>
<line x1="495.60" x2="498.40" y1="146.60" y2="146.60" stroke="#333" stroke-width="1.0"/>
<text x="493.80" y="149.30" text-anchor="end" font-size="7.5" fill="#4d4d4d">2,000</text>
</g>
<g>
<clipPath id="c05"><rect x="610.40" y="61.50" width="83.0" height="100.0"/></clipPath>
<rect x="610.40" y="61.50" width="83.0" height="100.0" fill="#fff"/>
<line x1="610.40" x2="693.40" y1="74.32" y2="74.32" stroke="#ebebeb" stroke-width="0.5"/>
<line x1="610.40" x2="693.40" y1="94.24" y2="94.24" stroke="#ebebeb" stroke-width="0.5"/>
<line x1="610.40" x2="693.40" y1="114.25" y2="114.25" stroke="#ebebeb" stroke-width="0.5"/>
<line x1="610.40" x2="693.40" y1="134.25" y2="134.25" stroke="#ebebeb" stroke-width="0.5"/>
<line x1="610.40" x2="693.40" y1="154.17" y2="154.17" stroke="#ebebeb" stroke-width="0.5"/>
<line x1="626.16" x2="626.16" y1="61.50" y2="161.50" stroke="#ebebeb" stroke-width="0.5"/>
<line x1="650.58" x2="650.58" y1="61.50" y2="161.50" stroke="#ebebeb" stroke-width="0.5"/>
<line x1="675.00" x2="675.00" y1="61.50" y2="161.50" stroke="#ebebeb" stroke-width="0.5"/>
<line x1="610.40" x2="693.40" y1="64.41" y2="64.41" stroke="#e8e8e8" stroke-width="0.95"/>
<line x1="610.40" x2="693.40" y1="84.23" y2="84.23" stroke="#e8e8e8" stroke-width="0.95"/>
<line x1="610.40" x2="693.40" y1="104.24" y2="104.24" stroke="#e8e8e8" stroke-width="0.95"/>
<line x1="610.40" x2="693.40" y1="124.25" y2="124.25" stroke="#e8e8e8" stroke-width="0.95"/>
<line x1="610.40" x2="693.40" y1="144.26" y2="144.26" stroke="#e8e8e8" stroke-width="0.95"/>
<line x1="613.95" x2="613.95" y1="61.50" y2="161.50" stroke="#e8e8e8" stroke-width="0.95"/>
<line x1="638.37" x2="638.37" y1="61.50" y2="161.50" stroke="#e8e8e8" stroke-width="0.95"/>
<line x1="662.79" x2="662.79" y1="61.50" y2="161.50" stroke="#e8e8e8" stroke-width="0.95"/>
<line x1="687.21" x2="687.21" y1="61.50" y2="161.50" stroke="#e8e8e8" stroke-width="0.95"/>
<g clip-path="url(#c05)">
<polyline points="613.95,109.47 616.39,109.81 618.83,110.13 621.28,110.46 623.72,110.83 626.16,111.27 628.60,111.80 631.04,112.41 633.49,113.13 635.93,113.95 638.37,114.88 640.81,116.09 643.25,117.58 645.70,119.49 648.14,121.58 650.58,122.99 653.02,123.64 655.46,124.10 657.91,124.47 660.35,124.85 662.79,125.33 665.23,126.07 667.67,127.01 670.12,127.94 672.56,128.65 675.00,128.94 677.44,128.35 679.88,127.13 682.33,126.05 684.77,125.23 687.21,124.79 689.65,126.59" fill="none" stroke="#F8766D" stroke-width="1.15" stroke-linejoin="round"/>
<polyline points="613.95,128.94 616.39,129.17 618.83,129.39 621.28,129.62 623.72,129.88 626.16,130.20 628.60,130.61 631.04,131.13 633.49,131.75 635.93,132.46 638.37,133.26 640.81,134.32 643.25,135.60 645.70,137.28 648.14,139.08 650.58,140.11 653.02,140.39 655.46,140.56 657.91,140.69 660.35,140.82 662.79,141.01 665.23,141.35 667.67,141.82 670.12,142.29 672.56,142.66 675.00,142.81 677.44,142.02 679.88,140.43 682.33,139.21 684.77,138.60 687.21,138.31 689.65,139.57" fill="none" stroke="#00BA38" stroke-width="1.15" stroke-linejoin="round"/>
<polyline points="613.95,90.00 616.39,90.45 618.83,90.89 621.28,91.34 623.72,91.81 626.16,92.35 628.60,92.91 631.04,93.50 633.49,94.16 635.93,94.96 638.37,95.95 640.81,97.52 643.25,99.56 645.70,102.12 648.14,104.93 650.58,106.76 653.02,107.53 655.46,108.04 657.91,108.45 660.35,108.88 662.79,109.47 665.23,110.49 667.67,111.89 670.12,113.32 672.56,114.43 675.00,114.88 677.44,114.38 679.88,113.27 682.33,112.17 684.77,111.05 687.21,110.37 689.65,113.07" fill="none" stroke="#619CFF" stroke-width="1.15" stroke-linejoin="round"/>
<polygon points="613.95,87.84 616.39,88.37 618.83,88.88 621.28,89.41 623.72,89.95 626.16,90.54 628.60,91.15 631.04,91.76 633.49,92.43 635.93,93.21 638.37,94.15 640.81,95.47 643.25,97.21 645.70,99.91 648.14,103.07 650.58,104.96 653.02,105.51 655.46,105.85 657.91,106.11 660.35,106.38 662.79,106.76 665.23,107.45 667.67,108.38 670.12,109.33 672.56,110.07 675.00,110.37 677.44,109.32 679.88,107.20 682.33,105.50 684.77,104.54 687.21,104.06 689.65,105.86 689.65,140.83 687.21,139.57 684.77,139.87 682.33,140.47 679.88,141.59 677.44,143.01 675.00,143.72 672.56,143.54 670.12,143.09 667.67,142.52 665.23,141.96 662.79,141.55 660.35,141.32 657.91,141.16 655.46,141.00 653.02,140.80 650.58,140.47 648.14,139.41 645.70,137.62 643.25,135.96 640.81,134.68 638.37,133.62 635.93,132.82 633.49,132.11 631.04,131.49 628.60,130.97 626.16,130.56 623.72,130.24 621.28,129.98 618.83,129.75 616.39,129.53 613.95,129.30" fill="#F8766D" fill-opacity="0.2"/>
<polygon points="613.95,108.57 616.39,108.92 618.83,109.25 621.28,109.60 623.72,109.96 626.16,110.37 628.60,110.81 631.04,111.27 633.49,111.78 635.93,112.38 638.37,113.07 640.81,114.00 643.25,115.24 645.70,117.24 648.14,119.66 650.58,121.18 653.02,121.72 655.46,122.08 657.91,122.35 660.35,122.63 662.79,122.99 665.23,123.55 667.67,124.25 670.12,124.95 672.56,125.48 675.00,125.69 677.44,124.67 679.88,122.65 682.33,121.18 684.77,120.57 687.21,120.28 689.65,122.09 689.65,154.53 687.21,153.63 684.77,154.32 682.33,155.43 679.88,156.41 677.44,157.35 675.00,157.77 672.56,157.68 670.12,157.42 667.67,157.07 665.23,156.69 662.79,156.33 660.35,156.03 657.91,155.75 655.46,155.43 653.02,155.04 650.58,154.53 648.14,153.56 645.70,152.18 643.25,150.93 640.81,149.91 638.37,149.12 635.93,148.64 633.49,148.27 631.04,147.95 628.60,147.65 626.16,147.32 623.72,146.96 621.28,146.60 618.83,146.24 616.39,145.88 613.95,145.52" fill="#00BA38" fill-opacity="0.2"/>
<polygon points="613.95,66.57 616.39,67.29 618.83,68.01 621.28,68.73 623.72,69.45 626.16,70.18 628.60,70.83 631.04,71.41 633.49,72.03 635.93,72.79 638.37,73.78 640.81,75.56 643.25,77.93 645.70,80.82 648.14,83.96 650.58,86.04 653.02,86.95 655.46,87.58 657.91,88.08 660.35,88.60 662.79,89.28 665.23,90.36 667.67,91.77 670.12,93.17 672.56,94.26 675.00,94.69 677.44,93.76 679.88,91.91 682.33,90.54 684.77,89.93 687.21,89.64 689.65,92.35 689.65,130.20 687.21,127.49 684.77,127.78 682.33,128.39 679.88,129.61 677.44,131.21 675.00,132.00 672.56,131.64 670.12,130.74 667.67,129.57 665.23,128.39 662.79,127.49 660.35,126.92 657.91,126.48 655.46,126.06 653.02,125.53 650.58,124.79 648.14,123.23 645.70,120.95 643.25,118.84 640.81,117.14 638.37,115.78 635.93,114.84 633.49,114.06 631.04,113.39 628.60,112.78 626.16,112.17 623.72,111.58 621.28,111.04 618.83,110.51 616.39,110.00 613.95,109.47" fill="#619CFF" fill-opacity="0.2"/>
</g>
<rect x="610.40" y="61.50" width="83.0" height="100.0" fill="none" stroke="#333" stroke-opacity="0.5" stroke-width="1.1"/>
<rect x="610.40" y="32.90" width="83.0" height="14.2" fill="#d9d9d9" stroke="#333" stroke-opacity="0.72" stroke-width="0.9"/>
<rect x="610.40" y="47.10" width="83.0" height="14.4" fill="#d9d9d9" stroke="#333" stroke-opacity="0.72" stroke-width="0.9"/>
<text x="651.90" y="42.80" text-anchor="middle" font-size="7.5" fill="#2b2b2b">Prevalence</text>
<text x="651.90" y="57.10" text-anchor="middle" font-size="7.5" fill="#2b2b2b">Low SDI</text>
<line x1="607.60" x2="610.40" y1="64.41" y2="64.41" stroke="#333" stroke-width="1.0"/>
<text x="605.80" y="67.11" text-anchor="end" font-size="7.5" fill="#4d4d4d">2,400</text>
<line x1="607.60" x2="610.40" y1="84.23" y2="84.23" stroke="#333" stroke-width="1.0"/>
<text x="605.80" y="86.93" text-anchor="end" font-size="7.5" fill="#4d4d4d">2,200</text>
<line x1="607.60" x2="610.40" y1="104.24" y2="104.24" stroke="#333" stroke-width="1.0"/>
<text x="605.80" y="106.94" text-anchor="end" font-size="7.5" fill="#4d4d4d">2,000</text>
<line x1="607.60" x2="610.40" y1="124.25" y2="124.25" stroke="#333" stroke-width="1.0"/>
<text x="605.80" y="126.95" text-anchor="end" font-size="7.5" fill="#4d4d4d">1,800</text>
<line x1="607.60" x2="610.40" y1="144.26" y2="144.26" stroke="#333" stroke-width="1.0"/>
<text x="605.80" y="146.96" text-anchor="end" font-size="7.5" fill="#4d4d4d">1,600</text>
</g>
<g>
<clipPath id="c10"><rect x="50.40" y="196.00" width="83.0" height="100.0"/></clipPath>
<rect x="50.40" y="196.00" width="83.0" height="100.0" fill="#fff"/>
<line x1="50.40" x2="133.40" y1="201.93" y2="201.93" stroke="#ebebeb" stroke-width="0.5"/>
<line x1="50.40" x2="133.40" y1="222.84" y2="222.84" stroke="#ebebeb" stroke-width="0.5"/>
<line x1="50.40" x2="133.40" y1="243.84" y2="243.84" stroke="#ebebeb" stroke-width="0.5"/>
<line x1="50.40" x2="133.40" y1="264.93" y2="264.93" stroke="#ebebeb" stroke-width="0.5"/>
<line x1="50.40" x2="133.40" y1="285.93" y2="285.93" stroke="#ebebeb" stroke-width="0.5"/>
<line x1="66.16" x2="66.16" y1="196.00" y2="296.00" stroke="#ebebeb" stroke-width="0.5"/>
<line x1="90.58" x2="90.58" y1="196.00" y2="296.00" stroke="#ebebeb" stroke-width="0.5"/>
<line x1="115.00" x2="115.00" y1="196.00" y2="296.00" stroke="#ebebeb" stroke-width="0.5"/>
<line x1="50.40" x2="133.40" y1="212.39" y2="212.39" stroke="#e8e8e8" stroke-width="0.95"/>
<line x1="50.40" x2="133.40" y1="233.29" y2="233.29" stroke="#e8e8e8" stroke-width="0.95"/>
<line x1="50.40" x2="133.40" y1="254.38" y2="254.38" stroke="#e8e8e8" stroke-width="0.95"/>
<line x1="50.40" x2="133.40" y1="275.47" y2="275.47" stroke="#e8e8e8" stroke-width="0.95"/>
<line x1="53.95" x2="53.95" y1="196.00" y2="296.00" stroke="#e8e8e8" stroke-width="0.95"/>
<line x1="78.37" x2="78.37" y1="196.00" y2="296.00" stroke="#e8e8e8" stroke-width="0.95"/>
<line x1="102.79" x2="102.79" y1="196.00" y2="296.00" stroke="#e8e8e8" stroke-width="0.95"/>
<line x1="127.21" x2="127.21" y1="196.00" y2="296.00" stroke="#e8e8e8" stroke-width="0.95"/>
<g clip-path="url(#c10)">
<polyline points="53.95,279.08 56.39,277.99 58.83,276.89 61.28,275.79 63.72,274.71 66.16,273.67 68.60,272.71 71.04,271.82 73.49,270.93 75.93,269.95 78.37,268.80 80.81,267.35 83.25,265.61 85.70,263.69 88.14,261.71 90.58,259.79 93.02,257.95 95.46,256.12 97.91,254.24 100.35,252.30 102.79,250.24 105.23,248.05 107.67,245.75 110.12,243.33 112.56,240.80 115.00,238.16 117.44,235.35 119.88,232.34 122.33,229.22 124.77,226.03 127.21,222.84 129.65,219.59" fill="none" stroke="#F8766D" stroke-width="1.15" stroke-linejoin="round"/>
<polyline points="53.95,280.16 56.39,279.13 58.83,278.08 61.28,277.04 63.72,276.04 66.16,275.11 68.60,274.30 71.04,273.60 73.49,272.90 75.93,272.11 78.37,271.14 80.81,269.83 83.25,268.16 85.70,266.29 88.14,264.35 90.58,262.49 93.02,260.75 95.46,259.01 97.91,257.24 100.35,255.41 102.79,253.48 105.23,251.44 107.67,249.32 110.12,247.09 112.56,244.76 115.00,242.31 117.44,239.69 119.88,236.90 122.33,233.98 124.77,230.96 127.21,227.89 129.65,224.64" fill="none" stroke="#00BA38" stroke-width="1.15" stroke-linejoin="round"/>
<polyline points="53.95,278.35 56.39,277.16 58.83,275.95 61.28,274.75 63.72,273.56 66.16,272.41 68.60,271.34 71.04,270.36 73.49,269.37 75.93,268.28 78.37,267.00 80.81,265.39 83.25,263.45 85.70,261.33 88.14,259.16 90.58,257.09 93.02,255.14 95.46,253.23 97.91,251.31 100.35,249.31 102.79,247.17 105.23,244.90 107.67,242.53 110.12,240.02 112.56,237.37 115.00,234.56 117.44,231.39 119.88,227.85 122.33,224.18 124.77,220.63 127.21,217.43 129.65,214.73" fill="none" stroke="#619CFF" stroke-width="1.15" stroke-linejoin="round"/>
<polygon points="53.95,267.54 56.39,266.52 58.83,265.49 61.28,264.47 63.72,263.47 66.16,262.49 68.60,261.61 71.04,260.82 73.49,260.01 75.93,259.10 78.37,257.99 80.81,256.48 83.25,254.56 85.70,252.40 88.14,250.18 90.58,248.07 93.02,246.14 95.46,244.24 97.91,242.33 100.35,240.32 102.79,238.16 105.23,235.79 107.67,233.24 110.12,230.55 112.56,227.79 115.00,225.00 117.44,222.18 119.88,219.30 122.33,216.34 124.77,213.31 127.21,210.22 129.65,206.98 129.65,232.75 127.21,235.46 124.77,238.43 122.33,241.59 119.88,244.80 117.44,247.91 115.00,250.78 112.56,253.41 110.12,255.93 107.67,258.33 105.23,260.64 102.79,262.85 100.35,264.97 97.91,266.98 95.46,268.92 93.02,270.84 90.58,272.77 88.14,274.81 85.70,276.94 83.25,279.01 80.81,280.85 78.37,282.32 75.93,283.43 73.49,284.37 71.04,285.21 68.60,286.00 66.16,286.83 63.72,287.68 61.28,288.51 58.83,289.33 56.39,290.15 53.95,290.97" fill="#F8766D" fill-opacity="0.2"/>
<polygon points="53.95,268.26 56.39,267.47 58.83,266.67 61.28,265.88 63.72,265.09 66.16,264.30 68.60,263.55 71.04,262.86 73.49,262.14 75.93,261.32 78.37,260.33 80.81,258.98 83.25,257.26 85.70,255.30 88.14,253.27 90.58,251.32 93.02,249.48 95.46,247.64 97.91,245.77 100.35,243.83 102.79,241.76 105.23,239.56 107.67,237.23 110.12,234.79 112.56,232.27 115.00,229.69 117.44,227.00 119.88,224.19 122.33,221.31 124.77,218.43 127.21,215.63 129.65,212.93 129.65,238.16 127.21,240.50 124.77,243.14 122.33,245.96 119.88,248.86 117.44,251.71 115.00,254.38 112.56,256.90 110.12,259.36 107.67,261.73 105.23,263.98 102.79,266.10 100.35,268.06 97.91,269.89 95.46,271.64 93.02,273.37 90.58,275.11 88.14,276.97 85.70,278.90 83.25,280.78 80.81,282.45 78.37,283.76 75.93,284.75 73.49,285.58 71.04,286.31 68.60,287.01 66.16,287.73 63.72,288.47 61.28,289.19 58.83,289.91 56.39,290.62 53.95,291.33" fill="#00BA38" fill-opacity="0.2"/>
<polygon points="53.95,267.00 56.39,265.92 58.83,264.84 61.28,263.75 63.72,262.67 66.16,261.59 68.60,260.57 71.04,259.60 73.49,258.61 75.93,257.50 78.37,256.18 80.81,254.48 83.25,252.38 85.70,250.04 88.14,247.65 90.58,245.37 93.02,243.25 95.46,241.16 97.91,239.05 100.35,236.87 102.79,234.56 105.23,232.09 107.67,229.52 110.12,226.82 112.56,223.99 115.00,221.04 117.44,217.79 119.88,214.25 122.33,210.61 124.77,207.10 127.21,203.91 129.65,201.21 129.65,228.25 127.21,230.95 124.77,234.02 122.33,237.35 119.88,240.76 117.44,244.09 115.00,247.17 112.56,250.03 110.12,252.79 107.67,255.43 105.23,257.95 102.79,260.33 100.35,262.55 97.91,264.62 95.46,266.62 93.02,268.59 90.58,270.60 88.14,272.77 85.70,275.05 83.25,277.27 80.81,279.27 78.37,280.88 75.93,282.12 73.49,283.17 71.04,284.11 68.60,285.01 66.16,285.93 63.72,286.86 61.28,287.76 58.83,288.65 56.39,289.54 53.95,290.43" fill="#619CFF" fill-opacity="0.2"/>
</g>
<rect x="50.40" y="196.00" width="83.0" height="100.0" fill="none" stroke="#333" stroke-opacity="0.5" stroke-width="1.1"/>
<rect x="50.40" y="167.40" width="83.0" height="14.2" fill="#d9d9d9" stroke="#333" stroke-opacity="0.72" stroke-width="0.9"/>
<rect x="50.40" y="181.60" width="83.0" height="14.4" fill="#d9d9d9" stroke="#333" stroke-opacity="0.72" stroke-width="0.9"/>
<text x="91.90" y="177.30" text-anchor="middle" font-size="7.5" fill="#2b2b2b">Incidence</text>
<text x="91.90" y="191.60" text-anchor="middle" font-size="7.5" fill="#2b2b2b">Global</text>
<line x1="47.60" x2="50.40" y1="212.39" y2="212.39" stroke="#333" stroke-width="1.0"/>
<text x="45.80" y="215.09" text-anchor="end" font-size="7.5" fill="#4d4d4d">45</text>
<line x1="47.60" x2="50.40" y1="233.29" y2="233.29" stroke="#333" stroke-width="1.0"/>
<text x="45.80" y="235.99" text-anchor="end" font-size="7.5" fill="#4d4d4d">40</text>
<line x1="47.60" x2="50.40" y1="254.38" y2="254.38" stroke="#333" stroke-width="1.0"/>
<text x="45.80" y="257.08" text-anchor="end" font-size="7.5" fill="#4d4d4d">35</text>
<line x1="47.60" x2="50.40" y1="275.47" y2="275.47" stroke="#333" stroke-width="1.0"/>
<text x="45.80" y="278.17" text-anchor="end" font-size="7.5" fill="#4d4d4d">30</text>
<line x1="47.60" x2="50.40" y1="296.38" y2="296.38" stroke="#333" stroke-width="1.0"/>
<text x="45.80" y="299.08" text-anchor="end" font-size="7.5" fill="#4d4d4d">25</text>
</g>
<g>
<clipPath id="c11"><rect x="162.40" y="196.00" width="83.0" height="100.0"/></clipPath>
<rect x="162.40" y="196.00" width="83.0" height="100.0" fill="#fff"/>
<line x1="162.40" x2="245.40" y1="198.87" y2="198.87" stroke="#ebebeb" stroke-width="0.5"/>
<line x1="162.40" x2="245.40" y1="222.66" y2="222.66" stroke="#ebebeb" stroke-width="0.5"/>
<line x1="162.40" x2="245.40" y1="246.45" y2="246.45" stroke="#ebebeb" stroke-width="0.5"/>
<line x1="162.40" x2="245.40" y1="270.24" y2="270.24" stroke="#ebebeb" stroke-width="0.5"/>
<line x1="162.40" x2="245.40" y1="294.04" y2="294.04" stroke="#ebebeb" stroke-width="0.5"/>
<line x1="178.16" x2="178.16" y1="196.00" y2="296.00" stroke="#ebebeb" stroke-width="0.5"/>
<line x1="202.58" x2="202.58" y1="196.00" y2="296.00" stroke="#ebebeb" stroke-width="0.5"/>
<line x1="227.00" x2="227.00" y1="196.00" y2="296.00" stroke="#ebebeb" stroke-width="0.5"/>
<line x1="162.40" x2="245.40" y1="210.76" y2="210.76" stroke="#e8e8e8" stroke-width="0.95"/>
<line x1="162.40" x2="245.40" y1="234.56" y2="234.56" stroke="#e8e8e8" stroke-width="0.95"/>
<line x1="162.40" x2="245.40" y1="258.35" y2="258.35" stroke="#e8e8e8" stroke-width="0.95"/>
<line x1="162.40" x2="245.40" y1="282.14" y2="282.14" stroke="#e8e8e8" stroke-width="0.95"/>
<line x1="165.95" x2="165.95" y1="196.00" y2="296.00" stroke="#e8e8e8" stroke-width="0.95"/>
<line x1="190.37" x2="190.37" y1="196.00" y2="296.00" stroke="#e8e8e8" stroke-width="0.95"/>
<line x1="214.79" x2="214.79" y1="196.00" y2="296.00" stroke="#e8e8e8" stroke-width="0.95"/>
<line x1="239.21" x2="239.21" y1="196.00" y2="296.00" stroke="#e8e8e8" stroke-width="0.95"/>
<g clip-path="url(#c11)">
<polyline points="165.95,277.81 168.39,276.64 170.83,275.47 173.28,274.29 175.72,273.10 178.16,271.87 180.60,270.63 183.04,269.40 185.49,268.13 187.93,266.75 190.37,265.20 192.81,263.12 195.25,260.52 197.70,257.88 200.14,255.67 202.58,254.38 205.02,253.90 207.46,253.58 209.91,253.12 212.35,252.15 214.79,250.78 217.23,249.22 219.67,247.41 222.12,245.36 224.56,243.06 227.00,240.50 229.44,237.01 231.88,232.63 234.33,228.44 236.77,225.54 239.21,224.06 241.65,222.84" fill="none" stroke="#F8766D" stroke-width="1.15" stroke-linejoin="round"/>
<polyline points="165.95,274.57 168.39,273.80 170.83,273.04 173.28,272.28 175.72,271.48 178.16,270.60 180.60,269.66 183.04,268.66 185.49,267.60 187.93,266.44 190.37,265.20 192.81,263.60 195.25,261.64 197.70,259.66 200.14,258.03 202.58,257.09 205.02,256.74 207.46,256.52 209.91,256.18 212.35,255.45 214.79,254.38 217.23,253.09 219.67,251.53 222.12,249.70 224.56,247.65 227.00,245.37 229.44,242.01 231.88,237.65 234.33,233.78 236.77,231.85 239.21,231.53 241.65,231.31" fill="none" stroke="#00BA38" stroke-width="1.15" stroke-linejoin="round"/>
<polyline points="165.95,280.88 168.39,279.37 170.83,277.88 173.28,276.37 175.72,274.86 178.16,273.31 180.60,271.78 183.04,270.27 185.49,268.72 187.93,267.05 190.37,265.20 192.81,262.77 195.25,259.78 197.70,256.74 200.14,254.17 202.58,252.58 205.02,251.89 207.46,251.42 209.91,250.78 212.35,249.62 214.79,248.07 217.23,246.29 219.67,244.23 222.12,241.89 224.56,239.27 227.00,236.36 229.44,232.54 231.88,227.81 234.33,223.07 236.77,219.23 239.21,216.57 241.65,214.19" fill="none" stroke="#619CFF" stroke-width="1.15" stroke-linejoin="round"/>
<polygon points="165.95,266.10 168.39,265.23 170.83,264.40 173.28,263.54 175.72,262.63 178.16,261.59 180.60,260.41 183.04,259.09 185.49,257.63 187.93,256.06 190.37,254.38 192.81,252.29 195.25,249.76 197.70,247.19 200.14,244.99 202.58,243.57 205.02,242.86 207.46,242.36 209.91,241.76 212.35,240.98 214.79,239.96 217.23,238.52 219.67,236.63 222.12,234.39 224.56,231.87 227.00,229.15 229.44,225.62 231.88,221.27 234.33,217.02 236.77,213.83 239.21,211.89 241.65,210.22 241.65,235.82 239.21,236.87 236.77,238.16 234.33,240.77 231.88,244.61 229.44,248.70 227.00,252.04 224.56,254.62 222.12,257.04 219.67,259.22 217.23,261.06 214.79,262.49 212.35,263.55 209.91,264.30 207.46,264.74 205.02,265.07 202.58,265.56 200.14,266.81 197.70,268.93 195.25,271.48 192.81,273.99 190.37,276.01 187.93,277.55 185.49,278.93 183.04,280.21 180.60,281.44 178.16,282.68 175.72,283.91 173.28,285.11 170.83,286.28 168.39,287.45 165.95,288.63" fill="#F8766D" fill-opacity="0.2"/>
<polygon points="165.95,262.13 168.39,261.50 170.83,260.89 173.28,260.26 175.72,259.60 178.16,258.89 180.60,258.12 183.04,257.32 185.49,256.44 187.93,255.47 190.37,254.38 192.81,252.90 195.25,251.00 197.70,249.03 200.14,247.34 202.58,246.27 205.02,245.80 207.46,245.46 209.91,245.01 212.35,244.18 214.79,243.03 217.23,241.64 219.67,239.99 222.12,238.08 224.56,235.97 227.00,233.65 229.44,230.48 231.88,226.52 234.33,222.87 236.77,220.68 239.21,219.86 241.65,219.23 241.65,244.47 239.21,244.85 236.77,245.37 234.33,247.18 231.88,250.46 229.44,254.12 227.00,257.09 224.56,259.31 222.12,261.41 219.67,263.31 217.23,264.90 214.79,266.10 212.35,266.97 209.91,267.54 207.46,267.80 205.02,267.98 202.58,268.26 200.14,269.18 197.70,270.88 195.25,272.94 192.81,274.97 190.37,276.55 187.93,277.69 185.49,278.70 183.04,279.62 180.60,280.51 178.16,281.42 175.72,282.34 173.28,283.25 170.83,284.14 168.39,285.03 165.95,285.93" fill="#00BA38" fill-opacity="0.2"/>
<polygon points="165.95,270.60 168.39,269.39 170.83,268.22 173.28,267.02 175.72,265.74 178.16,264.30 180.60,262.63 183.04,260.76 185.49,258.73 187.93,256.59 190.37,254.38 192.81,251.85 195.25,248.96 197.70,246.06 200.14,243.54 202.58,241.76 205.02,240.70 207.46,239.88 209.91,239.06 212.35,238.25 214.79,237.26 217.23,235.67 219.67,233.49 222.12,230.84 224.56,227.85 227.00,224.64 229.44,220.60 231.88,215.64 234.33,210.67 236.77,206.62 239.21,203.77 241.65,201.21 241.65,228.25 239.21,230.37 236.77,232.75 234.33,236.15 231.88,240.33 229.44,244.55 227.00,248.07 224.56,250.93 222.12,253.59 219.67,256.00 217.23,258.09 214.79,259.79 212.35,261.17 209.91,262.13 207.46,262.59 205.02,262.91 202.58,263.39 200.14,264.83 197.70,267.38 195.25,270.48 192.81,273.54 190.37,276.01 187.93,277.87 185.49,279.56 183.04,281.12 180.60,282.62 178.16,284.12 175.72,285.62 173.28,287.07 170.83,288.49 168.39,289.90 165.95,291.33" fill="#619CFF" fill-opacity="0.2"/>
</g>
<rect x="162.40" y="196.00" width="83.0" height="100.0" fill="none" stroke="#333" stroke-opacity="0.5" stroke-width="1.1"/>
<rect x="162.40" y="167.40" width="83.0" height="14.2" fill="#d9d9d9" stroke="#333" stroke-opacity="0.72" stroke-width="0.9"/>
<rect x="162.40" y="181.60" width="83.0" height="14.4" fill="#d9d9d9" stroke="#333" stroke-opacity="0.72" stroke-width="0.9"/>
<text x="203.90" y="177.30" text-anchor="middle" font-size="7.5" fill="#2b2b2b">Incidence</text>
<text x="203.90" y="191.60" text-anchor="middle" font-size="7.5" fill="#2b2b2b">High SDI</text>
<line x1="159.60" x2="162.40" y1="210.76" y2="210.76" stroke="#333" stroke-width="1.0"/>
<text x="157.80" y="213.46" text-anchor="end" font-size="7.5" fill="#4d4d4d">80</text>
<line x1="159.60" x2="162.40" y1="234.56" y2="234.56" stroke="#333" stroke-width="1.0"/>
<text x="157.80" y="237.26" text-anchor="end" font-size="7.5" fill="#4d4d4d">70</text>
<line x1="159.60" x2="162.40" y1="258.35" y2="258.35" stroke="#333" stroke-width="1.0"/>
<text x="157.80" y="261.05" text-anchor="end" font-size="7.5" fill="#4d4d4d">60</text>
<line x1="159.60" x2="162.40" y1="282.14" y2="282.14" stroke="#333" stroke-width="1.0"/>
<text x="157.80" y="284.84" text-anchor="end" font-size="7.5" fill="#4d4d4d">50</text>
</g>
<g>
<clipPath id="c12"><rect x="274.40" y="196.00" width="83.0" height="100.0"/></clipPath>
<rect x="274.40" y="196.00" width="83.0" height="100.0" fill="#fff"/>
<line x1="274.40" x2="357.40" y1="209.14" y2="209.14" stroke="#ebebeb" stroke-width="0.5"/>
<line x1="274.40" x2="357.40" y1="247.35" y2="247.35" stroke="#ebebeb" stroke-width="0.5"/>
<line x1="274.40" x2="357.40" y1="285.56" y2="285.56" stroke="#ebebeb" stroke-width="0.5"/>
<line x1="290.16" x2="290.16" y1="196.00" y2="296.00" stroke="#ebebeb" stroke-width="0.5"/>
<line x1="314.58" x2="314.58" y1="196.00" y2="296.00" stroke="#ebebeb" stroke-width="0.5"/>
<line x1="339.00" x2="339.00" y1="196.00" y2="296.00" stroke="#ebebeb" stroke-width="0.5"/>
<line x1="274.40" x2="357.40" y1="228.25" y2="228.25" stroke="#e8e8e8" stroke-width="0.95"/>
<line x1="274.40" x2="357.40" y1="266.46" y2="266.46" stroke="#e8e8e8" stroke-width="0.95"/>
<line x1="277.95" x2="277.95" y1="196.00" y2="296.00" stroke="#e8e8e8" stroke-width="0.95"/>
<line x1="302.37" x2="302.37" y1="196.00" y2="296.00" stroke="#e8e8e8" stroke-width="0.95"/>
<line x1="326.79" x2="326.79" y1="196.00" y2="296.00" stroke="#e8e8e8" stroke-width="0.95"/>
<line x1="351.21" x2="351.21" y1="196.00" y2="296.00" stroke="#e8e8e8" stroke-width="0.95"/>
<g clip-path="url(#c12)">
<polyline points="277.95,280.52 280.39,280.52 282.83,280.52 285.28,280.52 287.72,279.89 290.16,278.72 292.60,277.44 295.04,275.92 297.49,274.21 299.93,272.41 302.37,270.60 304.81,268.76 307.25,266.82 309.70,264.81 312.14,262.76 314.58,260.69 317.02,258.61 319.46,256.51 321.91,254.37 324.35,252.16 326.79,249.88 329.23,247.58 331.67,245.29 334.12,242.87 336.56,240.24 339.00,237.26 341.44,233.50 343.88,229.14 346.33,225.00 348.77,221.39 351.21,217.97 353.65,214.55" fill="none" stroke="#F8766D" stroke-width="1.15" stroke-linejoin="round"/>
<polyline points="277.95,280.34 280.39,280.34 282.83,280.34 285.28,280.34 287.72,279.71 290.16,278.53 292.60,277.26 295.04,275.73 297.49,274.03 299.93,272.23 302.37,270.42 304.81,268.58 307.25,266.64 309.70,264.63 312.14,262.58 314.58,260.51 317.02,258.44 319.46,256.34 321.91,254.20 324.35,251.99 326.79,249.70 329.23,247.39 331.67,245.07 334.12,242.63 336.56,239.95 339.00,236.90 341.44,232.99 343.88,228.41 346.33,224.10 348.77,220.41 351.21,216.94 353.65,213.47" fill="none" stroke="#00BA38" stroke-width="1.15" stroke-linejoin="round"/>
<polyline points="277.95,280.70 280.39,280.70 282.83,280.70 285.28,280.70 287.72,280.08 290.16,278.90 292.60,277.62 295.04,276.10 297.49,274.39 299.93,272.59 302.37,270.78 304.81,268.94 307.25,267.00 309.70,264.99 312.14,262.94 314.58,260.87 317.02,258.79 319.46,256.69 321.91,254.54 324.35,252.33 326.79,250.06 329.23,247.78 331.67,245.50 334.12,243.12 336.56,240.52 339.00,237.62 341.44,234.02 343.88,229.87 346.33,225.90 348.77,222.38 351.21,219.00 353.65,215.63" fill="none" stroke="#619CFF" stroke-width="1.15" stroke-linejoin="round"/>
<polygon points="277.95,270.96 280.39,270.87 282.83,270.77 285.28,270.60 287.72,269.93 290.16,268.80 292.60,267.44 295.04,265.75 297.49,263.83 299.93,261.80 302.37,259.79 304.81,257.77 307.25,255.65 309.70,253.46 312.14,251.22 314.58,248.97 317.02,246.69 319.46,244.36 321.91,241.99 324.35,239.62 326.79,237.26 329.23,235.03 331.67,232.90 334.12,230.72 336.56,228.32 339.00,225.54 341.44,221.93 343.88,217.66 346.33,213.47 348.77,209.63 351.21,205.87 353.65,202.11 353.65,228.25 351.21,231.63 348.77,235.02 346.33,238.52 343.88,242.41 341.44,246.42 339.00,249.88 336.56,252.63 334.12,255.07 331.67,257.31 329.23,259.44 326.79,261.59 324.35,263.74 321.91,265.83 319.46,267.87 317.02,269.88 314.58,271.87 312.14,273.86 309.70,275.87 307.25,277.82 304.81,279.69 302.37,281.42 299.93,283.05 297.49,284.62 295.04,286.11 292.60,287.45 290.16,288.63 287.72,289.74 285.28,290.43 282.83,290.60 280.39,290.69 277.95,290.79" fill="#F8766D" fill-opacity="0.2"/>
<polygon points="277.95,270.78 280.39,270.69 282.83,270.59 285.28,270.42 287.72,269.75 290.16,268.62 292.60,267.26 295.04,265.57 297.49,263.65 299.93,261.62 302.37,259.61 304.81,257.59 307.25,255.47 309.70,253.28 312.14,251.04 314.58,248.79 317.02,246.51 319.46,244.18 321.91,241.82 324.35,239.45 326.79,237.08 329.23,234.83 331.67,232.68 334.12,230.48 336.56,228.03 339.00,225.18 341.44,221.42 343.88,216.93 346.33,212.57 348.77,208.64 351.21,204.84 353.65,201.03 353.65,227.17 351.21,230.60 348.77,234.03 346.33,237.62 343.88,241.68 341.44,245.91 339.00,249.52 336.56,252.34 334.12,254.83 331.67,257.09 329.23,259.25 326.79,261.41 324.35,263.57 321.91,265.67 319.46,267.70 317.02,269.70 314.58,271.69 312.14,273.68 309.70,275.69 307.25,277.64 304.81,279.51 302.37,281.24 299.93,282.87 297.49,284.44 295.04,285.93 292.60,287.27 290.16,288.45 287.72,289.56 285.28,290.25 282.83,290.42 280.39,290.51 277.95,290.61" fill="#00BA38" fill-opacity="0.2"/>
<polygon points="277.95,271.14 280.39,271.05 282.83,270.95 285.28,270.78 287.72,270.11 290.16,268.98 292.60,267.63 295.04,265.93 297.49,264.01 299.93,261.98 302.37,259.97 304.81,257.95 307.25,255.83 309.70,253.64 312.14,251.40 314.58,249.16 317.02,246.87 319.46,244.53 321.91,242.16 324.35,239.79 326.79,237.44 329.23,235.22 331.67,233.12 334.12,230.97 336.56,228.62 339.00,225.90 341.44,222.44 343.88,218.39 346.33,214.37 348.77,210.62 351.21,206.90 353.65,203.19 353.65,229.33 351.21,232.67 348.77,236.01 346.33,239.42 343.88,243.14 341.44,246.93 339.00,250.24 336.56,252.92 334.12,255.32 331.67,257.52 329.23,259.64 326.79,261.77 324.35,263.91 321.91,266.00 319.46,268.05 317.02,270.06 314.58,272.05 312.14,274.04 309.70,276.05 307.25,278.00 304.81,279.87 302.37,281.60 299.93,283.23 297.49,284.80 295.04,286.29 292.60,287.63 290.16,288.81 287.72,289.92 285.28,290.61 282.83,290.78 280.39,290.87 277.95,290.97" fill="#619CFF" fill-opacity="0.2"/>
</g>
<rect x="274.40" y="196.00" width="83.0" height="100.0" fill="none" stroke="#333" stroke-opacity="0.5" stroke-width="1.1"/>
<rect x="274.40" y="167.40" width="83.0" height="14.2" fill="#d9d9d9" stroke="#333" stroke-opacity="0.72" stroke-width="0.9"/>
<rect x="274.40" y="181.60" width="83.0" height="14.4" fill="#d9d9d9" stroke="#333" stroke-opacity="0.72" stroke-width="0.9"/>
<text x="315.90" y="177.30" text-anchor="middle" font-size="7.5" fill="#2b2b2b">Incidence</text>
<text x="315.90" y="191.60" text-anchor="middle" font-size="7.5" fill="#2b2b2b">High-middle SDI</text>
<line x1="271.60" x2="274.40" y1="228.25" y2="228.25" stroke="#333" stroke-width="1.0"/>
<text x="269.80" y="230.95" text-anchor="end" font-size="7.5" fill="#4d4d4d">40</text>
<line x1="271.60" x2="274.40" y1="266.46" y2="266.46" stroke="#333" stroke-width="1.0"/>
<text x="269.80" y="269.16" text-anchor="end" font-size="7.5" fill="#4d4d4d">30</text>
</g>
<g>
<clipPath id="c13"><rect x="386.40" y="196.00" width="83.0" height="100.0"/></clipPath>
<rect x="386.40" y="196.00" width="83.0" height="100.0" fill="#fff"/>
<line x1="386.40" x2="469.40" y1="203.64" y2="203.64" stroke="#ebebeb" stroke-width="0.5"/>
<line x1="386.40" x2="469.40" y1="239.15" y2="239.15" stroke="#ebebeb" stroke-width="0.5"/>
<line x1="386.40" x2="469.40" y1="274.66" y2="274.66" stroke="#ebebeb" stroke-width="0.5"/>
<line x1="402.16" x2="402.16" y1="196.00" y2="296.00" stroke="#ebebeb" stroke-width="0.5"/>
<line x1="426.58" x2="426.58" y1="196.00" y2="296.00" stroke="#ebebeb" stroke-width="0.5"/>
<line x1="451.00" x2="451.00" y1="196.00" y2="296.00" stroke="#ebebeb" stroke-width="0.5"/>
<line x1="386.40" x2="469.40" y1="221.40" y2="221.40" stroke="#e8e8e8" stroke-width="0.95"/>
<line x1="386.40" x2="469.40" y1="256.91" y2="256.91" stroke="#e8e8e8" stroke-width="0.95"/>
<line x1="386.40" x2="469.40" y1="292.41" y2="292.41" stroke="#e8e8e8" stroke-width="0.95"/>
<line x1="389.95" x2="389.95" y1="196.00" y2="296.00" stroke="#e8e8e8" stroke-width="0.95"/>
<line x1="414.37" x2="414.37" y1="196.00" y2="296.00" stroke="#e8e8e8" stroke-width="0.95"/>
<line x1="438.79" x2="438.79" y1="196.00" y2="296.00" stroke="#e8e8e8" stroke-width="0.95"/>
<line x1="463.21" x2="463.21" y1="196.00" y2="296.00" stroke="#e8e8e8" stroke-width="0.95"/>
<g clip-path="url(#c13)">
<polyline points="389.95,280.88 392.39,280.40 394.83,279.95 397.28,279.49 399.72,278.97 402.16,278.35 404.60,277.61 407.04,276.74 409.49,275.72 411.93,274.58 414.37,273.31 416.81,271.78 419.25,269.94 421.70,267.87 424.14,265.66 426.58,263.39 429.02,261.02 431.46,258.47 433.91,255.79 436.35,253.03 438.79,250.24 441.23,247.41 443.67,244.51 446.12,241.55 448.56,238.53 451.00,235.46 453.44,232.34 455.88,229.18 458.33,225.95 460.77,222.64 463.21,219.23 465.65,215.63" fill="none" stroke="#F8766D" stroke-width="1.15" stroke-linejoin="round"/>
<polyline points="389.95,283.22 392.39,282.78 394.83,282.36 397.28,281.93 399.72,281.45 402.16,280.88 404.60,280.17 407.04,279.33 409.49,278.35 411.93,277.24 414.37,276.01 416.81,274.55 419.25,272.79 421.70,270.81 424.14,268.67 426.58,266.46 429.02,264.09 431.46,261.49 433.91,258.74 436.35,255.93 438.79,253.12 441.23,250.34 443.67,247.54 446.12,244.68 448.56,241.74 451.00,238.70 453.44,235.53 455.88,232.25 458.33,228.87 460.77,225.43 463.21,221.94 465.65,218.33" fill="none" stroke="#00BA38" stroke-width="1.15" stroke-linejoin="round"/>
<polyline points="389.95,278.72 392.39,278.20 394.83,277.72 397.28,277.22 399.72,276.67 402.16,276.01 404.60,275.21 407.04,274.26 409.49,273.17 411.93,271.95 414.37,270.60 416.81,269.04 419.25,267.21 421.70,265.16 424.14,262.96 426.58,260.69 429.02,258.27 431.46,255.62 433.91,252.84 436.35,250.00 438.79,247.17 441.23,244.38 443.67,241.55 446.12,238.69 448.56,235.76 451.00,232.75 453.44,229.66 455.88,226.50 458.33,223.26 460.77,219.94 463.21,216.53 465.65,212.93" fill="none" stroke="#619CFF" stroke-width="1.15" stroke-linejoin="round"/>
<polygon points="389.95,271.87 392.39,271.46 394.83,271.08 397.28,270.69 399.72,270.25 402.16,269.70 404.60,269.01 407.04,268.14 409.49,267.12 411.93,265.95 414.37,264.66 416.81,263.10 419.25,261.20 421.70,259.05 424.14,256.75 426.58,254.38 429.02,251.89 431.46,249.18 433.91,246.33 436.35,243.41 438.79,240.50 441.23,237.60 443.67,234.66 446.12,231.67 448.56,228.63 451.00,225.54 453.44,222.42 455.88,219.25 458.33,216.02 460.77,212.72 463.21,209.32 465.65,205.72 465.65,225.54 463.21,229.15 460.77,232.56 458.33,235.88 455.88,239.12 453.44,242.28 451.00,245.37 448.56,248.38 446.12,251.32 443.67,254.20 441.23,257.02 438.79,259.79 436.35,262.57 433.91,265.35 431.46,268.06 429.02,270.62 426.58,272.95 424.14,275.11 421.70,277.19 419.25,279.13 416.81,280.86 414.37,282.32 411.93,283.59 409.49,284.75 407.04,285.78 404.60,286.66 402.16,287.37 399.72,287.91 397.28,288.36 394.83,288.75 392.39,289.13 389.95,289.53" fill="#F8766D" fill-opacity="0.2"/>
<polygon points="389.95,274.21 392.39,273.88 394.83,273.57 397.28,273.25 399.72,272.87 402.16,272.41 404.60,271.77 407.04,270.95 409.49,269.95 411.93,268.80 414.37,267.54 416.81,266.02 419.25,264.14 421.70,262.02 424.14,259.76 426.58,257.45 429.02,255.04 431.46,252.45 433.91,249.73 436.35,246.93 438.79,244.11 441.23,241.25 443.67,238.31 446.12,235.30 448.56,232.24 451.00,229.15 453.44,226.02 455.88,222.85 458.33,219.63 460.77,216.33 463.21,212.93 465.65,209.32 465.65,228.61 463.21,232.21 460.77,235.57 458.33,238.81 455.88,241.96 453.44,245.04 451.00,248.07 448.56,251.07 446.12,254.01 443.67,256.90 441.23,259.73 438.79,262.49 436.35,265.24 433.91,267.97 431.46,270.63 429.02,273.15 426.58,275.47 424.14,277.68 421.70,279.83 419.25,281.84 416.81,283.60 414.37,285.02 411.93,286.18 409.49,287.21 407.04,288.11 404.60,288.88 402.16,289.53 399.72,290.06 397.28,290.50 394.83,290.90 392.39,291.28 389.95,291.69" fill="#00BA38" fill-opacity="0.2"/>
<polygon points="389.95,269.34 392.39,268.90 394.83,268.49 397.28,268.07 399.72,267.59 402.16,267.00 404.60,266.25 407.04,265.31 409.49,264.20 411.93,262.96 414.37,261.59 416.81,260.00 419.25,258.09 421.70,255.96 424.14,253.68 426.58,251.32 429.02,248.81 431.46,246.07 433.91,243.18 436.35,240.22 438.79,237.26 441.23,234.31 443.67,231.31 446.12,228.25 448.56,225.13 451.00,221.94 453.44,218.65 455.88,215.28 458.33,211.83 460.77,208.34 463.21,204.81 465.65,201.21 465.65,222.84 463.21,226.44 460.77,229.80 458.33,233.02 455.88,236.16 453.44,239.25 451.00,242.31 448.56,245.35 446.12,248.36 443.67,251.32 441.23,254.23 438.79,257.09 436.35,259.94 433.91,262.80 431.46,265.59 429.02,268.22 426.58,270.60 424.14,272.82 421.70,274.96 419.25,276.94 416.81,278.70 414.37,280.16 411.93,281.38 409.49,282.47 407.04,283.43 404.60,284.28 402.16,285.02 399.72,285.66 397.28,286.22 394.83,286.72 392.39,287.21 389.95,287.73" fill="#619CFF" fill-opacity="0.2"/>
</g>
<rect x="386.40" y="196.00" width="83.0" height="100.0" fill="none" stroke="#333" stroke-opacity="0.5" stroke-width="1.1"/>
<rect x="386.40" y="167.40" width="83.0" height="14.2" fill="#d9d9d9" stroke="#333" stroke-opacity="0.72" stroke-width="0.9"/>
<rect x="386.40" y="181.60" width="83.0" height="14.4" fill="#d9d9d9" stroke="#333" stroke-opacity="0.72" stroke-width="0.9"/>
<text x="427.90" y="177.30" text-anchor="middle" font-size="7.5" fill="#2b2b2b">Incidence</text>
<text x="427.90" y="191.60" text-anchor="middle" font-size="7.5" fill="#2b2b2b">Middle SDI</text>
<line x1="383.60" x2="386.40" y1="221.40" y2="221.40" stroke="#333" stroke-width="1.0"/>
<text x="381.80" y="224.10" text-anchor="end" font-size="7.5" fill="#4d4d4d">40</text>
<line x1="383.60" x2="386.40" y1="256.91" y2="256.91" stroke="#333" stroke-width="1.0"/>
<text x="381.80" y="259.61" text-anchor="end" font-size="7.5" fill="#4d4d4d">30</text>
<line x1="383.60" x2="386.40" y1="292.41" y2="292.41" stroke="#333" stroke-width="1.0"/>
<text x="381.80" y="295.11" text-anchor="end" font-size="7.5" fill="#4d4d4d">20</text>
</g>
<g>
<clipPath id="c14"><rect x="498.40" y="196.00" width="83.0" height="100.0"/></clipPath>
<rect x="498.40" y="196.00" width="83.0" height="100.0" fill="#fff"/>
<line x1="498.40" x2="581.40" y1="213.29" y2="213.29" stroke="#ebebeb" stroke-width="0.5"/>
<line x1="498.40" x2="581.40" y1="237.44" y2="237.44" stroke="#ebebeb" stroke-width="0.5"/>
<line x1="498.40" x2="581.40" y1="261.50" y2="261.50" stroke="#ebebeb" stroke-width="0.5"/>
<line x1="498.40" x2="581.40" y1="285.56" y2="285.56" stroke="#ebebeb" stroke-width="0.5"/>
<line x1="514.16" x2="514.16" y1="196.00" y2="296.00" stroke="#ebebeb" stroke-width="0.5"/>
<line x1="538.58" x2="538.58" y1="196.00" y2="296.00" stroke="#ebebeb" stroke-width="0.5"/>
<line x1="563.00" x2="563.00" y1="196.00" y2="296.00" stroke="#ebebeb" stroke-width="0.5"/>
<line x1="498.40" x2="581.40" y1="201.21" y2="201.21" stroke="#e8e8e8" stroke-width="0.95"/>
<line x1="498.40" x2="581.40" y1="225.36" y2="225.36" stroke="#e8e8e8" stroke-width="0.95"/>
<line x1="498.40" x2="581.40" y1="249.52" y2="249.52" stroke="#e8e8e8" stroke-width="0.95"/>
<line x1="498.40" x2="581.40" y1="273.49" y2="273.49" stroke="#e8e8e8" stroke-width="0.95"/>
<line x1="501.95" x2="501.95" y1="196.00" y2="296.00" stroke="#e8e8e8" stroke-width="0.95"/>
<line x1="526.37" x2="526.37" y1="196.00" y2="296.00" stroke="#e8e8e8" stroke-width="0.95"/>
<line x1="550.79" x2="550.79" y1="196.00" y2="296.00" stroke="#e8e8e8" stroke-width="0.95"/>
<line x1="575.21" x2="575.21" y1="196.00" y2="296.00" stroke="#e8e8e8" stroke-width="0.95"/>
<g clip-path="url(#c14)">
<polyline points="501.95,271.14 504.39,267.29 506.83,263.94 509.28,261.23 511.72,258.95 514.16,257.99 516.60,258.02 519.04,258.11 521.49,258.22 523.93,258.31 526.37,258.35 528.81,258.15 531.25,257.63 533.70,256.86 536.14,255.93 538.58,254.92 541.02,253.50 543.46,251.68 545.91,249.70 548.35,247.53 550.79,245.37 553.23,243.29 555.67,241.21 558.12,239.15 560.56,237.11 563.00,235.10 565.44,233.11 567.88,231.15 570.33,229.23 572.77,227.35 575.21,225.53 577.65,223.74" fill="none" stroke="#F8766D" stroke-width="1.15" stroke-linejoin="round"/>
<polyline points="501.95,281.96 504.39,278.26 506.83,275.11 509.28,272.88 511.72,271.07 514.16,270.06 516.60,269.69 519.04,269.46 521.49,269.29 523.93,269.10 526.37,268.80 528.81,268.35 531.25,267.76 533.70,267.03 536.14,266.17 538.58,265.20 541.02,263.83 543.46,262.13 545.91,260.27 548.35,258.23 550.79,256.18 553.23,254.24 555.67,252.33 558.12,250.40 560.56,248.40 563.00,246.27 565.44,243.86 567.88,241.23 570.33,238.65 572.77,236.36 575.21,234.49 577.65,232.75" fill="none" stroke="#00BA38" stroke-width="1.15" stroke-linejoin="round"/>
<polyline points="501.95,260.33 504.39,256.16 506.83,252.58 509.28,249.85 511.72,247.58 514.16,246.63 516.60,246.73 519.04,246.95 521.49,247.22 523.93,247.44 526.37,247.53 528.81,247.34 531.25,246.82 533.70,246.05 536.14,245.12 538.58,244.11 541.02,242.68 543.46,240.86 545.91,238.89 548.35,236.73 550.79,234.56 553.23,232.36 555.67,230.09 558.12,227.83 560.56,225.69 563.00,223.74 565.44,222.01 567.88,220.40 570.33,218.89 572.77,217.43 575.21,216.06 577.65,214.73" fill="none" stroke="#619CFF" stroke-width="1.15" stroke-linejoin="round"/>
<polygon points="501.95,260.33 504.39,255.82 506.83,252.04 509.28,249.35 511.72,247.17 514.16,246.27 516.60,246.42 519.04,246.78 521.49,247.21 523.93,247.56 526.37,247.71 528.81,247.51 531.25,246.97 533.70,246.17 536.14,245.19 538.58,244.11 541.02,242.52 543.46,240.50 545.91,238.45 548.35,236.25 550.79,234.01 553.23,231.74 555.67,229.40 558.12,227.04 560.56,224.72 563.00,222.48 565.44,220.32 567.88,218.20 570.33,216.15 572.77,214.19 575.21,212.36 577.65,210.58 577.65,235.82 575.21,237.21 572.77,238.70 570.33,240.50 567.88,242.51 565.44,244.60 563.00,246.63 560.56,248.56 558.12,250.46 555.67,252.35 553.23,254.26 550.79,256.18 548.35,258.21 545.91,260.26 543.46,262.13 541.02,263.86 538.58,265.20 536.14,266.06 533.70,266.79 531.25,267.40 528.81,267.89 526.37,268.26 523.93,268.51 521.49,268.67 519.04,268.82 516.60,269.01 514.16,269.34 511.72,270.47 509.28,272.59 506.83,275.11 504.39,278.31 501.95,281.96" fill="#F8766D" fill-opacity="0.2"/>
<polygon points="501.95,271.87 504.39,268.02 506.83,264.66 509.28,261.89 511.72,259.53 514.16,258.53 516.60,258.53 519.04,258.53 521.49,258.53 523.93,258.53 526.37,258.53 528.81,258.28 531.25,257.61 533.70,256.65 536.14,255.53 538.58,254.38 541.02,253.02 543.46,251.32 545.91,249.24 548.35,246.85 550.79,244.47 553.23,242.23 555.67,240.02 558.12,237.81 560.56,235.57 563.00,233.29 565.44,230.88 567.88,228.37 570.33,225.94 572.77,223.74 575.21,221.88 577.65,220.14 577.65,245.37 575.21,246.64 572.77,248.07 570.33,250.08 567.88,252.54 565.44,255.11 563.00,257.45 560.56,259.50 558.12,261.44 555.67,263.32 553.23,265.16 550.79,267.00 548.35,268.86 545.91,270.68 543.46,272.41 541.02,274.11 538.58,275.47 536.14,276.34 533.70,277.06 531.25,277.66 528.81,278.20 526.37,278.72 523.93,279.16 521.49,279.50 519.04,279.84 516.60,280.27 514.16,280.88 511.72,282.01 509.28,283.78 506.83,285.93 504.39,288.85 501.95,292.23" fill="#00BA38" fill-opacity="0.2"/>
<polygon points="501.95,248.97 504.39,244.41 506.83,240.50 509.28,237.52 511.72,235.05 514.16,234.01 516.60,234.31 519.04,235.03 521.49,235.88 523.93,236.60 526.37,236.90 528.81,236.66 531.25,236.01 533.70,235.08 536.14,233.95 538.58,232.75 541.02,231.13 543.46,229.15 545.91,227.14 548.35,225.03 550.79,222.84 553.23,220.53 555.67,218.10 558.12,215.65 560.56,213.29 563.00,211.12 565.44,209.14 567.88,207.26 570.33,205.52 572.77,203.91 575.21,202.52 577.65,201.21 577.65,226.44 575.21,227.76 572.77,229.15 570.33,230.68 567.88,232.31 565.44,234.03 563.00,235.82 560.56,237.72 558.12,239.74 555.67,241.82 553.23,243.89 550.79,245.91 548.35,247.89 545.91,249.84 543.46,251.68 541.02,253.50 538.58,254.92 536.14,255.85 533.70,256.69 531.25,257.36 528.81,257.82 526.37,257.99 523.93,257.93 521.49,257.80 519.04,257.64 516.60,257.50 514.16,257.45 511.72,258.52 509.28,261.03 506.83,263.94 504.39,267.33 501.95,271.14" fill="#619CFF" fill-opacity="0.2"/>
</g>
<rect x="498.40" y="196.00" width="83.0" height="100.0" fill="none" stroke="#333" stroke-opacity="0.5" stroke-width="1.1"/>
<rect x="498.40" y="167.40" width="83.0" height="14.2" fill="#d9d9d9" stroke="#333" stroke-opacity="0.72" stroke-width="0.9"/>
<rect x="498.40" y="181.60" width="83.0" height="14.4" fill="#d9d9d9" stroke="#333" stroke-opacity="0.72" stroke-width="0.9"/>
<text x="539.90" y="177.30" text-anchor="middle" font-size="7.5" fill="#2b2b2b">Incidence</text>
<text x="539.90" y="191.60" text-anchor="middle" font-size="7.5" fill="#2b2b2b">Low-middle SDI</text>
<line x1="495.60" x2="498.40" y1="201.21" y2="201.21" stroke="#333" stroke-width="1.0"/>
<text x="493.80" y="203.91" text-anchor="end" font-size="7.5" fill="#4d4d4d">35</text>
<line x1="495.60" x2="498.40" y1="225.36" y2="225.36" stroke="#333" stroke-width="1.0"/>
<text x="493.80" y="228.06" text-anchor="end" font-size="7.5" fill="#4d4d4d">30</text>
<line x1="495.60" x2="498.40" y1="249.52" y2="249.52" stroke="#333" stroke-width="1.0"/>
<text x="493.80" y="252.22" text-anchor="end" font-size="7.5" fill="#4d4d4d">25</text>
<line x1="495.60" x2="498.40" y1="273.49" y2="273.49" stroke="#333" stroke-width="1.0"/>
<text x="493.80" y="276.19" text-anchor="end" font-size="7.5" fill="#4d4d4d">20</text>
</g>
<g>
<clipPath id="c15"><rect x="610.40" y="196.00" width="83.0" height="100.0"/></clipPath>
<rect x="610.40" y="196.00" width="83.0" height="100.0" fill="#fff"/>
<line x1="610.40" x2="693.40" y1="201.48" y2="201.48" stroke="#ebebeb" stroke-width="0.5"/>
<line x1="610.40" x2="693.40" y1="221.49" y2="221.49" stroke="#ebebeb" stroke-width="0.5"/>
<line x1="610.40" x2="693.40" y1="241.40" y2="241.40" stroke="#ebebeb" stroke-width="0.5"/>
<line x1="610.40" x2="693.40" y1="261.32" y2="261.32" stroke="#ebebeb" stroke-width="0.5"/>
<line x1="610.40" x2="693.40" y1="281.33" y2="281.33" stroke="#ebebeb" stroke-width="0.5"/>
<line x1="626.16" x2="626.16" y1="196.00" y2="296.00" stroke="#ebebeb" stroke-width="0.5"/>
<line x1="650.58" x2="650.58" y1="196.00" y2="296.00" stroke="#ebebeb" stroke-width="0.5"/>
<line x1="675.00" x2="675.00" y1="196.00" y2="296.00" stroke="#ebebeb" stroke-width="0.5"/>
<line x1="610.40" x2="693.40" y1="211.48" y2="211.48" stroke="#e8e8e8" stroke-width="0.95"/>
<line x1="610.40" x2="693.40" y1="231.49" y2="231.49" stroke="#e8e8e8" stroke-width="0.95"/>
<line x1="610.40" x2="693.40" y1="251.32" y2="251.32" stroke="#e8e8e8" stroke-width="0.95"/>
<line x1="610.40" x2="693.40" y1="271.33" y2="271.33" stroke="#e8e8e8" stroke-width="0.95"/>
<line x1="610.40" x2="693.40" y1="291.33" y2="291.33" stroke="#e8e8e8" stroke-width="0.95"/>
<line x1="613.95" x2="613.95" y1="196.00" y2="296.00" stroke="#e8e8e8" stroke-width="0.95"/>
<line x1="638.37" x2="638.37" y1="196.00" y2="296.00" stroke="#e8e8e8" stroke-width="0.95"/>
<line x1="662.79" x2="662.79" y1="196.00" y2="296.00" stroke="#e8e8e8" stroke-width="0.95"/>
<line x1="687.21" x2="687.21" y1="196.00" y2="296.00" stroke="#e8e8e8" stroke-width="0.95"/>
<g clip-path="url(#c15)">
<polyline points="613.95,258.89 616.39,255.66 618.83,253.12 621.28,251.71 623.72,250.65 626.16,250.24 628.60,250.84 631.04,252.31 633.49,254.17 635.93,255.93 638.37,257.09 640.81,257.78 643.25,258.41 645.70,258.94 648.14,259.30 650.58,259.43 653.02,258.62 655.46,257.09 657.91,255.38 660.35,253.35 662.79,251.32 665.23,249.39 667.67,247.47 670.12,245.54 672.56,243.64 675.00,241.76 677.44,239.82 679.88,237.79 682.33,235.84 684.77,234.11 687.21,232.75 689.65,231.85" fill="none" stroke="#F8766D" stroke-width="1.15" stroke-linejoin="round"/>
<polyline points="613.95,276.55 616.39,273.16 618.83,270.60 621.28,269.42 623.72,268.58 626.16,268.26 628.60,268.72 631.04,269.84 633.49,271.24 635.93,272.52 638.37,273.31 640.81,273.70 643.25,274.04 645.70,274.32 648.14,274.50 650.58,274.57 653.02,273.84 655.46,272.41 657.91,270.60 660.35,268.33 662.79,266.10 665.23,264.09 667.67,262.13 670.12,260.18 672.56,258.21 675.00,256.18 677.44,253.98 679.88,251.61 682.33,249.27 684.77,247.13 687.21,245.37 689.65,244.11" fill="none" stroke="#00BA38" stroke-width="1.15" stroke-linejoin="round"/>
<polyline points="613.95,241.22 616.39,237.77 618.83,235.10 621.28,233.67 623.72,232.62 626.16,232.21 628.60,232.95 631.04,234.77 633.49,237.09 635.93,239.31 638.37,240.86 640.81,241.89 643.25,242.87 645.70,243.69 648.14,244.26 650.58,244.47 653.02,243.50 655.46,241.76 657.91,240.07 660.35,238.20 662.79,236.36 665.23,234.62 667.67,232.92 670.12,231.23 672.56,229.56 675.00,227.89 677.44,226.03 679.88,224.01 682.33,222.08 684.77,220.52 687.21,219.59 689.65,219.23" fill="none" stroke="#619CFF" stroke-width="1.15" stroke-linejoin="round"/>
<polygon points="613.95,240.86 616.39,237.28 618.83,234.56 621.28,233.21 623.72,232.23 626.16,231.85 628.60,232.66 631.04,234.65 633.49,237.18 635.93,239.58 638.37,241.22 640.81,242.27 643.25,243.24 645.70,244.06 648.14,244.62 650.58,244.83 653.02,243.95 655.46,242.31 657.91,240.54 660.35,238.46 662.79,236.36 665.23,234.33 667.67,232.29 670.12,230.23 672.56,228.16 675.00,226.08 677.44,223.86 679.88,221.47 682.33,219.15 684.77,217.13 687.21,215.63 689.65,214.73 689.65,248.07 687.21,248.97 684.77,250.28 682.33,251.91 679.88,253.74 677.44,255.62 675.00,257.45 672.56,259.20 670.12,260.97 667.67,262.76 665.23,264.59 662.79,266.46 660.35,268.57 657.91,270.75 655.46,272.41 653.02,273.61 650.58,274.21 648.14,274.14 645.70,273.96 643.25,273.68 640.81,273.34 638.37,272.95 635.93,272.16 633.49,270.88 631.04,269.48 628.60,268.36 626.16,267.90 623.72,268.29 621.28,269.28 618.83,270.60 616.39,272.98 613.95,276.01" fill="#F8766D" fill-opacity="0.2"/>
<polygon points="613.95,258.89 616.39,255.66 618.83,253.12 621.28,251.71 623.72,250.65 626.16,250.24 628.60,250.81 631.04,252.21 633.49,253.97 635.93,255.64 638.37,256.73 640.81,257.37 643.25,257.95 645.70,258.44 648.14,258.77 650.58,258.89 653.02,257.93 655.46,256.18 657.91,254.40 660.35,252.36 662.79,250.24 665.23,248.09 667.67,245.87 670.12,243.60 672.56,241.32 675.00,239.06 677.44,236.69 679.88,234.17 682.33,231.72 684.77,229.56 687.21,227.89 689.65,226.80 689.65,260.69 687.21,261.59 684.77,263.01 682.33,264.86 679.88,266.96 677.44,269.12 675.00,271.14 672.56,273.04 670.12,274.93 667.67,276.81 665.23,278.67 662.79,280.52 660.35,282.47 657.91,284.41 655.46,285.93 653.02,287.12 650.58,287.73 648.14,287.71 645.70,287.66 643.25,287.59 640.81,287.49 638.37,287.37 635.93,286.95 633.49,286.13 631.04,285.20 628.60,284.44 626.16,284.12 623.72,284.53 621.28,285.54 618.83,286.83 616.39,288.85 613.95,291.33" fill="#00BA38" fill-opacity="0.2"/>
<polygon points="613.95,221.04 616.39,217.36 618.83,214.73 621.28,213.79 623.72,213.16 626.16,212.93 628.60,213.86 631.04,216.16 633.49,219.07 635.93,221.85 638.37,223.74 640.81,224.94 643.25,226.06 645.70,227.00 648.14,227.65 650.58,227.89 653.02,227.08 655.46,225.54 657.91,223.68 660.35,221.39 662.79,219.23 665.23,217.38 667.67,215.63 670.12,213.94 672.56,212.27 675.00,210.58 677.44,208.78 679.88,206.90 682.33,205.06 684.77,203.42 687.21,202.11 689.65,201.21 689.65,235.46 687.21,235.82 684.77,236.69 682.33,238.14 679.88,239.92 677.44,241.81 675.00,243.57 672.56,245.19 670.12,246.83 667.67,248.51 665.23,250.24 662.79,252.04 660.35,254.13 657.91,256.32 655.46,257.99 653.02,259.19 650.58,259.79 648.14,259.63 645.70,259.21 643.25,258.60 640.81,257.86 638.37,257.09 635.93,255.88 633.49,254.12 631.04,252.28 628.60,250.82 626.16,250.24 623.72,250.72 621.28,251.92 618.83,253.48 616.39,256.05 613.95,259.25" fill="#619CFF" fill-opacity="0.2"/>
</g>
<rect x="610.40" y="196.00" width="83.0" height="100.0" fill="none" stroke="#333" stroke-opacity="0.5" stroke-width="1.1"/>
<rect x="610.40" y="167.40" width="83.0" height="14.2" fill="#d9d9d9" stroke="#333" stroke-opacity="0.72" stroke-width="0.9"/>
<rect x="610.40" y="181.60" width="83.0" height="14.4" fill="#d9d9d9" stroke="#333" stroke-opacity="0.72" stroke-width="0.9"/>
<text x="651.90" y="177.30" text-anchor="middle" font-size="7.5" fill="#2b2b2b">Incidence</text>
<text x="651.90" y="191.60" text-anchor="middle" font-size="7.5" fill="#2b2b2b">Low SDI</text>
<line x1="607.60" x2="610.40" y1="211.48" y2="211.48" stroke="#333" stroke-width="1.0"/>
<text x="605.80" y="214.18" text-anchor="end" font-size="7.5" fill="#4d4d4d">20</text>
<line x1="607.60" x2="610.40" y1="231.49" y2="231.49" stroke="#333" stroke-width="1.0"/>
<text x="605.80" y="234.19" text-anchor="end" font-size="7.5" fill="#4d4d4d">18</text>
<line x1="607.60" x2="610.40" y1="251.32" y2="251.32" stroke="#333" stroke-width="1.0"/>
<text x="605.80" y="254.02" text-anchor="end" font-size="7.5" fill="#4d4d4d">16</text>
<line x1="607.60" x2="610.40" y1="271.33" y2="271.33" stroke="#333" stroke-width="1.0"/>
<text x="605.80" y="274.03" text-anchor="end" font-size="7.5" fill="#4d4d4d">14</text>
<line x1="607.60" x2="610.40" y1="291.33" y2="291.33" stroke="#333" stroke-width="1.0"/>
<text x="605.80" y="294.03" text-anchor="end" font-size="7.5" fill="#4d4d4d">12</text>
</g>
<g>
<clipPath id="c20"><rect x="50.40" y="330.50" width="83.0" height="100.0"/></clipPath>
<rect x="50.40" y="330.50" width="83.0" height="100.0" fill="#fff"/>
<line x1="50.40" x2="133.40" y1="333.50" y2="333.50" stroke="#ebebeb" stroke-width="0.5"/>
<line x1="50.40" x2="133.40" y1="355.67" y2="355.67" stroke="#ebebeb" stroke-width="0.5"/>
<line x1="50.40" x2="133.40" y1="377.93" y2="377.93" stroke="#ebebeb" stroke-width="0.5"/>
<line x1="50.40" x2="133.40" y1="400.28" y2="400.28" stroke="#ebebeb" stroke-width="0.5"/>
<line x1="50.40" x2="133.40" y1="422.54" y2="422.54" stroke="#ebebeb" stroke-width="0.5"/>
<line x1="66.16" x2="66.16" y1="330.50" y2="430.50" stroke="#ebebeb" stroke-width="0.5"/>
<line x1="90.58" x2="90.58" y1="330.50" y2="430.50" stroke="#ebebeb" stroke-width="0.5"/>
<line x1="115.00" x2="115.00" y1="330.50" y2="430.50" stroke="#ebebeb" stroke-width="0.5"/>
<line x1="50.40" x2="133.40" y1="344.58" y2="344.58" stroke="#e8e8e8" stroke-width="0.95"/>
<line x1="50.40" x2="133.40" y1="366.75" y2="366.75" stroke="#e8e8e8" stroke-width="0.95"/>
<line x1="50.40" x2="133.40" y1="389.10" y2="389.10" stroke="#e8e8e8" stroke-width="0.95"/>
<line x1="50.40" x2="133.40" y1="411.45" y2="411.45" stroke="#e8e8e8" stroke-width="0.95"/>
<line x1="53.95" x2="53.95" y1="330.50" y2="430.50" stroke="#e8e8e8" stroke-width="0.95"/>
<line x1="78.37" x2="78.37" y1="330.50" y2="430.50" stroke="#e8e8e8" stroke-width="0.95"/>
<line x1="102.79" x2="102.79" y1="330.50" y2="430.50" stroke="#e8e8e8" stroke-width="0.95"/>
<line x1="127.21" x2="127.21" y1="330.50" y2="430.50" stroke="#e8e8e8" stroke-width="0.95"/>
<g clip-path="url(#c20)">
<polyline points="53.95,414.16 56.39,413.89 58.83,413.63 61.28,413.26 63.72,412.50 66.16,411.45 68.60,410.35 71.04,409.13 73.49,407.77 75.93,406.27 78.37,404.60 80.81,402.25 83.25,399.30 85.70,396.61 88.14,395.05 90.58,394.59 93.02,394.15 95.46,393.00 97.91,391.13 100.35,388.88 102.79,386.58 105.23,384.09 107.67,381.23 110.12,378.26 112.56,375.44 115.00,373.06 117.44,371.06 119.88,369.24 122.33,367.62 124.77,366.21 127.21,365.08 129.65,364.05" fill="none" stroke="#F8766D" stroke-width="1.15" stroke-linejoin="round"/>
<polyline points="53.95,415.96 56.39,415.69 58.83,415.42 61.28,415.06 63.72,414.45 66.16,413.62 68.60,412.67 71.04,411.57 73.49,410.32 75.93,408.91 78.37,407.31 80.81,404.89 83.25,401.73 85.70,398.88 88.14,397.39 90.58,397.12 93.02,396.85 95.46,395.94 97.91,394.30 100.35,392.27 102.79,390.18 105.23,387.90 107.67,385.23 110.12,382.44 112.56,379.79 115.00,377.57 117.44,375.71 119.88,374.01 122.33,372.51 124.77,371.26 127.21,370.30 129.65,369.46" fill="none" stroke="#00BA38" stroke-width="1.15" stroke-linejoin="round"/>
<polyline points="53.95,412.35 56.39,412.09 58.83,411.83 61.28,411.45 63.72,410.63 66.16,409.47 68.60,408.24 71.04,406.87 73.49,405.35 75.93,403.70 78.37,401.90 80.81,399.49 83.25,396.54 85.70,393.89 88.14,392.35 90.58,391.89 93.02,391.45 95.46,390.19 97.91,388.08 100.35,385.53 102.79,382.97 105.23,380.30 107.67,377.29 110.12,374.17 112.56,371.18 115.00,368.56 117.44,366.21 119.88,364.00 122.33,362.04 124.77,360.44 127.21,359.29 129.65,358.28" fill="none" stroke="#619CFF" stroke-width="1.15" stroke-linejoin="round"/>
<polygon points="53.95,400.10 56.39,400.47 58.83,400.83 61.28,401.00 63.72,400.15 66.16,398.66 68.60,397.34 71.04,395.97 73.49,394.49 75.93,392.88 78.37,391.09 80.81,388.55 83.25,385.40 85.70,382.62 88.14,381.17 90.58,380.90 93.02,380.63 95.46,379.51 97.91,377.39 100.35,374.77 102.79,372.16 105.23,369.53 107.67,366.61 110.12,363.56 112.56,360.55 115.00,357.74 117.44,355.08 119.88,352.48 122.33,350.03 124.77,347.83 127.21,345.96 129.65,344.22 129.65,379.91 127.21,380.48 124.77,381.17 122.33,382.34 119.88,383.97 117.44,385.87 115.00,387.84 112.56,390.01 110.12,392.50 107.67,395.08 105.23,397.57 102.79,399.74 100.35,401.75 97.91,403.71 95.46,405.35 93.02,406.41 90.58,406.85 88.14,407.31 85.70,408.74 83.25,411.15 80.81,413.80 78.37,415.96 75.93,417.55 73.49,419.00 71.04,420.33 68.60,421.53 66.16,422.63 63.72,423.68 61.28,424.43 58.83,424.81 56.39,425.07 53.95,425.33" fill="#F8766D" fill-opacity="0.2"/>
<polygon points="53.95,404.60 56.39,404.60 58.83,404.60 61.28,404.60 63.72,403.97 66.16,402.80 68.60,401.66 71.04,400.39 73.49,398.96 75.93,397.36 78.37,395.59 80.81,393.02 83.25,389.75 85.70,386.83 88.14,385.32 90.58,385.05 93.02,384.78 95.46,383.69 97.91,381.65 100.35,379.15 102.79,376.67 105.23,374.18 107.67,371.42 110.12,368.56 112.56,365.75 115.00,363.15 117.44,360.67 119.88,358.24 122.33,356.01 124.77,354.14 127.21,352.71 129.65,351.43 129.65,385.68 127.21,386.08 124.77,386.58 122.33,387.48 119.88,388.78 117.44,390.33 115.00,391.99 112.56,393.89 110.12,396.14 107.67,398.53 105.23,400.82 102.79,402.80 100.35,404.66 97.91,406.50 95.46,407.98 93.02,408.75 90.58,408.93 88.14,409.11 85.70,410.34 83.25,412.80 80.81,415.58 78.37,417.76 75.93,419.27 73.49,420.64 71.04,421.86 68.60,422.95 66.16,423.89 63.72,424.72 61.28,425.33 58.83,425.69 56.39,425.96 53.95,426.23" fill="#00BA38" fill-opacity="0.2"/>
<polygon points="53.95,396.13 56.39,396.65 58.83,397.16 61.28,397.39 63.72,396.55 66.16,395.05 68.60,393.74 71.04,392.36 73.49,390.89 75.93,389.27 78.37,387.48 80.81,384.95 83.25,381.80 85.70,379.01 88.14,377.57 90.58,377.30 93.02,377.03 95.46,375.81 97.91,373.44 100.35,370.52 102.79,367.65 105.23,364.85 107.67,361.79 110.12,358.61 112.56,355.42 115.00,352.33 117.44,349.32 119.88,346.32 122.33,343.40 124.77,340.62 127.21,338.05 129.65,335.57 129.65,376.31 127.21,376.87 124.77,377.57 122.33,378.80 119.88,380.57 117.44,382.64 115.00,384.78 112.56,387.09 110.12,389.72 107.67,392.45 105.23,395.08 102.79,397.39 100.35,399.57 97.91,401.71 95.46,403.49 93.02,404.60 90.58,405.05 88.14,405.51 85.70,406.92 83.25,409.31 80.81,411.96 78.37,414.16 75.93,415.83 73.49,417.37 71.04,418.79 68.60,420.12 66.16,421.37 63.72,422.63 61.28,423.53 58.83,423.91 56.39,424.17 53.95,424.43" fill="#619CFF" fill-opacity="0.2"/>
</g>
<rect x="50.40" y="330.50" width="83.0" height="100.0" fill="none" stroke="#333" stroke-opacity="0.5" stroke-width="1.1"/>
<rect x="50.40" y="301.90" width="83.0" height="14.2" fill="#d9d9d9" stroke="#333" stroke-opacity="0.72" stroke-width="0.9"/>
<rect x="50.40" y="316.10" width="83.0" height="14.4" fill="#d9d9d9" stroke="#333" stroke-opacity="0.72" stroke-width="0.9"/>
<text x="91.90" y="311.80" text-anchor="middle" font-size="7.5" fill="#2b2b2b">Deaths</text>
<text x="91.90" y="326.10" text-anchor="middle" font-size="7.5" fill="#2b2b2b">Global</text>
<line x1="47.60" x2="50.40" y1="344.58" y2="344.58" stroke="#333" stroke-width="1.0"/>
<text x="45.80" y="347.28" text-anchor="end" font-size="7.5" fill="#4d4d4d">12</text>
<line x1="47.60" x2="50.40" y1="366.75" y2="366.75" stroke="#333" stroke-width="1.0"/>
<text x="45.80" y="369.45" text-anchor="end" font-size="7.5" fill="#4d4d4d">10</text>
<line x1="47.60" x2="50.40" y1="389.10" y2="389.10" stroke="#333" stroke-width="1.0"/>
<text x="45.80" y="391.80" text-anchor="end" font-size="7.5" fill="#4d4d4d">8</text>
<line x1="47.60" x2="50.40" y1="411.45" y2="411.45" stroke="#333" stroke-width="1.0"/>
<text x="45.80" y="414.15" text-anchor="end" font-size="7.5" fill="#4d4d4d">6</text>
</g>
<g>
<clipPath id="c21"><rect x="162.40" y="330.50" width="83.0" height="100.0"/></clipPath>
<rect x="162.40" y="330.50" width="83.0" height="100.0" fill="#fff"/>
<line x1="162.40" x2="245.40" y1="334.85" y2="334.85" stroke="#ebebeb" stroke-width="0.5"/>
<line x1="162.40" x2="245.40" y1="368.01" y2="368.01" stroke="#ebebeb" stroke-width="0.5"/>
<line x1="162.40" x2="245.40" y1="401.09" y2="401.09" stroke="#ebebeb" stroke-width="0.5"/>
<line x1="178.16" x2="178.16" y1="330.50" y2="430.50" stroke="#ebebeb" stroke-width="0.5"/>
<line x1="202.58" x2="202.58" y1="330.50" y2="430.50" stroke="#ebebeb" stroke-width="0.5"/>
<line x1="227.00" x2="227.00" y1="330.50" y2="430.50" stroke="#ebebeb" stroke-width="0.5"/>
<line x1="162.40" x2="245.40" y1="351.43" y2="351.43" stroke="#e8e8e8" stroke-width="0.95"/>
<line x1="162.40" x2="245.40" y1="384.60" y2="384.60" stroke="#e8e8e8" stroke-width="0.95"/>
<line x1="162.40" x2="245.40" y1="417.58" y2="417.58" stroke="#e8e8e8" stroke-width="0.95"/>
<line x1="165.95" x2="165.95" y1="330.50" y2="430.50" stroke="#e8e8e8" stroke-width="0.95"/>
<line x1="190.37" x2="190.37" y1="330.50" y2="430.50" stroke="#e8e8e8" stroke-width="0.95"/>
<line x1="214.79" x2="214.79" y1="330.50" y2="430.50" stroke="#e8e8e8" stroke-width="0.95"/>
<line x1="239.21" x2="239.21" y1="330.50" y2="430.50" stroke="#e8e8e8" stroke-width="0.95"/>
<g clip-path="url(#c21)">
<polyline points="165.95,419.38 168.39,418.80 170.83,418.24 173.28,417.67 175.72,417.04 178.16,416.32 180.60,415.53 183.04,414.59 185.49,413.26 187.93,410.47 190.37,406.95 192.81,403.65 195.25,401.00 197.70,399.60 200.14,398.57 202.58,397.39 205.02,395.91 207.46,394.27 209.91,392.39 212.35,390.18 214.79,387.19 217.23,383.51 219.67,379.91 222.12,376.56 224.56,373.28 227.00,370.36 229.44,367.86 231.88,365.60 234.33,363.46 236.77,361.35 239.21,359.25 241.65,357.20" fill="none" stroke="#F8766D" stroke-width="1.15" stroke-linejoin="round"/>
<polyline points="165.95,417.22 168.39,416.64 170.83,416.09 173.28,415.52 175.72,414.89 178.16,414.16 180.60,413.34 183.04,412.34 185.49,410.91 187.93,407.72 190.37,403.70 192.81,400.20 195.25,397.39 197.70,395.78 200.14,394.55 202.58,393.25 205.02,391.80 207.46,390.32 209.91,388.64 212.35,386.58 214.79,383.47 217.23,379.51 219.67,375.76 222.12,372.51 224.56,369.45 227.00,366.75 229.44,364.47 231.88,362.42 234.33,360.52 236.77,358.64 239.21,356.82 241.65,355.04" fill="none" stroke="#00BA38" stroke-width="1.15" stroke-linejoin="round"/>
<polyline points="165.95,421.73 168.39,421.22 170.83,420.73 173.28,420.24 175.72,419.68 178.16,419.02 180.60,418.25 183.04,417.27 185.49,415.96 187.93,413.55 190.37,410.55 192.81,407.57 195.25,405.14 197.70,403.89 200.14,402.98 202.58,401.90 205.02,400.47 207.46,398.83 209.91,396.92 212.35,394.69 214.79,391.68 217.23,387.95 219.67,384.24 222.12,380.68 224.56,377.15 227.00,373.96 229.44,371.19 231.88,368.64 234.33,366.28 236.77,364.05 239.21,362.02 241.65,360.08" fill="none" stroke="#619CFF" stroke-width="1.15" stroke-linejoin="round"/>
<polygon points="165.95,413.62 168.39,412.93 170.83,412.27 173.28,411.60 175.72,410.86 178.16,410.01 180.60,409.10 183.04,407.99 185.49,406.41 187.93,402.82 190.37,398.30 192.81,394.28 195.25,391.09 197.70,389.33 200.14,388.02 202.58,386.58 205.02,384.86 207.46,383.02 209.91,380.94 212.35,378.47 214.79,375.02 217.23,370.78 219.67,366.75 222.12,363.23 224.56,359.88 227.00,356.84 229.44,354.17 231.88,351.76 234.33,349.40 236.77,346.93 239.21,344.25 241.65,341.52 241.65,373.06 239.21,374.10 236.77,375.22 234.33,376.57 231.88,378.09 229.44,379.79 227.00,381.71 224.56,384.03 222.12,386.76 219.67,389.64 217.23,392.95 214.79,396.45 212.35,399.20 209.91,401.06 207.46,402.60 205.02,403.93 202.58,405.14 200.14,406.13 197.70,407.00 195.25,408.21 192.81,410.62 190.37,413.62 187.93,416.65 185.49,419.02 183.04,420.19 180.60,421.03 178.16,421.73 175.72,422.36 173.28,422.92 170.83,423.42 168.39,423.91 165.95,424.43" fill="#F8766D" fill-opacity="0.2"/>
<polygon points="165.95,410.55 168.39,409.64 170.83,408.74 173.28,407.83 175.72,406.88 178.16,405.87 180.60,404.90 183.04,403.84 185.49,402.26 187.93,398.16 190.37,392.89 192.81,388.31 195.25,384.78 197.70,382.98 200.14,381.70 202.58,380.27 205.02,378.55 207.46,376.71 209.91,374.63 212.35,372.16 214.79,368.71 217.23,364.47 219.67,360.44 222.12,356.92 224.56,353.57 227.00,350.53 229.44,347.85 231.88,345.40 234.33,343.04 236.77,340.62 239.21,338.10 241.65,335.57 241.65,377.57 239.21,378.45 236.77,379.37 234.33,380.35 231.88,381.37 229.44,382.52 227.00,383.88 224.56,385.65 222.12,387.83 219.67,390.18 217.23,392.93 214.79,395.90 212.35,398.30 209.91,399.97 207.46,401.38 205.02,402.60 202.58,403.70 200.14,404.57 197.70,405.32 195.25,406.41 192.81,408.78 190.37,411.81 187.93,414.84 185.49,417.22 183.04,418.39 180.60,419.23 178.16,419.93 175.72,420.56 173.28,421.11 170.83,421.62 168.39,422.11 165.95,422.63" fill="#00BA38" fill-opacity="0.2"/>
<polygon points="165.95,416.68 168.39,416.09 170.83,415.54 173.28,414.96 175.72,414.34 178.16,413.62 180.60,412.84 183.04,411.90 185.49,410.55 187.93,407.54 190.37,403.70 192.81,400.18 195.25,397.39 197.70,395.99 200.14,394.99 202.58,393.79 205.02,392.19 207.46,390.34 209.91,388.19 212.35,385.68 214.79,382.27 217.23,378.06 219.67,373.96 222.12,370.18 224.56,366.50 227.00,363.15 229.44,360.21 231.88,357.54 234.33,354.96 236.77,352.33 239.21,349.63 241.65,346.93 241.65,372.16 239.21,373.65 236.77,375.22 234.33,376.94 231.88,378.75 229.44,380.74 227.00,382.97 224.56,385.67 222.12,388.78 219.67,391.99 217.23,395.47 214.79,399.06 212.35,401.90 209.91,403.88 207.46,405.53 205.02,406.94 202.58,408.21 200.14,409.22 197.70,410.09 195.25,411.27 192.81,413.58 190.37,416.32 187.93,418.84 185.49,420.83 183.04,421.96 180.60,422.82 178.16,423.53 175.72,424.17 173.28,424.72 170.83,425.22 168.39,425.72 165.95,426.23" fill="#619CFF" fill-opacity="0.2"/>
</g>
<rect x="162.40" y="330.50" width="83.0" height="100.0" fill="none" stroke="#333" stroke-opacity="0.5" stroke-width="1.1"/>
<rect x="162.40" y="301.90" width="83.0" height="14.2" fill="#d9d9d9" stroke="#333" stroke-opacity="0.72" stroke-width="0.9"/>
<rect x="162.40" y="316.10" width="83.0" height="14.4" fill="#d9d9d9" stroke="#333" stroke-opacity="0.72" stroke-width="0.9"/>
<text x="203.90" y="311.80" text-anchor="middle" font-size="7.5" fill="#2b2b2b">Deaths</text>
<text x="203.90" y="326.10" text-anchor="middle" font-size="7.5" fill="#2b2b2b">High SDI</text>
<line x1="159.60" x2="162.40" y1="351.43" y2="351.43" stroke="#333" stroke-width="1.0"/>
<text x="157.80" y="354.13" text-anchor="end" font-size="7.5" fill="#4d4d4d">15</text>
<line x1="159.60" x2="162.40" y1="384.60" y2="384.60" stroke="#333" stroke-width="1.0"/>
<text x="157.80" y="387.30" text-anchor="end" font-size="7.5" fill="#4d4d4d">10</text>
<line x1="159.60" x2="162.40" y1="417.58" y2="417.58" stroke="#333" stroke-width="1.0"/>
<text x="157.80" y="420.28" text-anchor="end" font-size="7.5" fill="#4d4d4d">5</text>
</g>
<g>
<clipPath id="c22"><rect x="274.40" y="330.50" width="83.0" height="100.0"/></clipPath>
<rect x="274.40" y="330.50" width="83.0" height="100.0" fill="#fff"/>
<line x1="274.40" x2="357.40" y1="348.19" y2="348.19" stroke="#ebebeb" stroke-width="0.5"/>
<line x1="274.40" x2="357.40" y1="377.03" y2="377.03" stroke="#ebebeb" stroke-width="0.5"/>
<line x1="274.40" x2="357.40" y1="405.96" y2="405.96" stroke="#ebebeb" stroke-width="0.5"/>
<line x1="290.16" x2="290.16" y1="330.50" y2="430.50" stroke="#ebebeb" stroke-width="0.5"/>
<line x1="314.58" x2="314.58" y1="330.50" y2="430.50" stroke="#ebebeb" stroke-width="0.5"/>
<line x1="339.00" x2="339.00" y1="330.50" y2="430.50" stroke="#ebebeb" stroke-width="0.5"/>
<line x1="274.40" x2="357.40" y1="333.77" y2="333.77" stroke="#e8e8e8" stroke-width="0.95"/>
<line x1="274.40" x2="357.40" y1="362.61" y2="362.61" stroke="#e8e8e8" stroke-width="0.95"/>
<line x1="274.40" x2="357.40" y1="391.45" y2="391.45" stroke="#e8e8e8" stroke-width="0.95"/>
<line x1="274.40" x2="357.40" y1="420.47" y2="420.47" stroke="#e8e8e8" stroke-width="0.95"/>
<line x1="277.95" x2="277.95" y1="330.50" y2="430.50" stroke="#e8e8e8" stroke-width="0.95"/>
<line x1="302.37" x2="302.37" y1="330.50" y2="430.50" stroke="#e8e8e8" stroke-width="0.95"/>
<line x1="326.79" x2="326.79" y1="330.50" y2="430.50" stroke="#e8e8e8" stroke-width="0.95"/>
<line x1="351.21" x2="351.21" y1="330.50" y2="430.50" stroke="#e8e8e8" stroke-width="0.95"/>
<g clip-path="url(#c22)">
<polyline points="277.95,414.16 280.39,413.69 282.83,413.22 285.28,412.72 287.72,412.21 290.16,411.66 292.60,410.91 295.04,409.63 297.49,407.74 299.93,405.50 302.37,403.16 304.81,400.09 307.25,396.33 309.70,393.15 312.14,391.81 314.58,392.08 317.02,392.35 319.46,391.54 321.91,389.60 324.35,387.28 326.79,385.32 329.23,383.92 331.67,382.63 334.12,381.17 336.56,379.11 339.00,376.82 341.44,375.22 343.88,374.60 346.33,373.96 348.77,372.27 351.21,369.69 353.65,367.11" fill="none" stroke="#F8766D" stroke-width="1.15" stroke-linejoin="round"/>
<polyline points="277.95,414.52 280.39,414.05 282.83,413.58 285.28,413.08 287.72,412.57 290.16,412.02 292.60,411.27 295.04,409.99 297.49,408.10 299.93,405.86 302.37,403.52 304.81,400.45 307.25,396.69 309.70,393.51 312.14,392.17 314.58,392.71 317.02,393.25 319.46,392.53 321.91,390.81 324.35,388.79 326.79,387.12 329.23,386.05 331.67,385.09 334.12,383.88 336.56,381.77 339.00,379.11 341.44,377.03 343.88,375.95 346.33,374.86 348.77,372.88 351.21,370.27 353.65,367.65" fill="none" stroke="#00BA38" stroke-width="1.15" stroke-linejoin="round"/>
<polyline points="277.95,413.62 280.39,413.21 282.83,412.81 285.28,412.35 287.72,411.87 290.16,411.31 292.60,410.55 295.04,409.27 297.49,407.38 299.93,405.14 302.37,402.80 304.81,399.73 307.25,395.97 309.70,392.79 312.14,391.45 314.58,391.45 317.02,391.45 319.46,390.55 321.91,388.39 324.35,385.77 326.79,383.52 329.23,381.78 331.67,380.12 334.12,378.47 336.56,376.48 339.00,374.49 341.44,373.42 343.88,373.24 346.33,373.06 348.77,371.75 351.21,369.25 353.65,366.75" fill="none" stroke="#619CFF" stroke-width="1.15" stroke-linejoin="round"/>
<polygon points="277.95,397.39 280.39,397.91 282.83,398.42 285.28,398.66 287.72,398.38 290.16,397.70 292.60,396.85 295.04,395.75 297.49,394.22 299.93,392.34 302.37,390.18 304.81,386.72 307.25,382.02 309.70,377.90 312.14,376.13 314.58,376.85 317.02,377.57 319.46,376.45 321.91,373.72 324.35,370.35 326.79,367.29 329.23,364.77 331.67,362.25 334.12,359.54 336.56,356.25 339.00,352.73 341.44,349.99 343.88,348.45 346.33,346.93 348.77,344.37 351.21,341.14 353.65,337.91 353.65,390.18 351.21,390.47 348.77,390.76 346.33,391.09 343.88,391.45 341.44,391.99 339.00,393.43 336.56,395.61 334.12,397.39 331.67,398.41 329.23,399.22 326.79,400.10 324.35,401.25 321.91,402.54 319.46,403.74 317.02,404.60 314.58,405.03 312.14,405.51 309.70,406.99 307.25,409.55 304.81,412.43 302.37,414.88 299.93,416.90 297.49,418.86 295.04,420.54 292.60,421.73 290.16,422.45 287.72,422.99 285.28,423.53 282.83,424.13 280.39,424.73 277.95,425.33" fill="#F8766D" fill-opacity="0.2"/>
<polygon points="277.95,400.10 280.39,399.99 282.83,399.89 285.28,399.74 287.72,399.44 290.16,398.95 292.60,398.30 295.04,397.20 297.49,395.52 299.93,393.43 302.37,391.09 304.81,387.48 307.25,382.67 309.70,378.47 312.14,376.67 314.58,377.57 317.02,378.47 319.46,377.50 321.91,375.13 324.35,372.17 326.79,369.46 329.23,367.19 331.67,364.88 334.12,362.25 336.56,358.68 339.00,354.64 341.44,351.43 343.88,349.58 346.33,347.83 348.77,345.38 351.21,342.55 353.65,339.72 353.65,391.09 351.21,391.58 348.77,392.08 346.33,392.53 343.88,392.84 341.44,393.25 339.00,394.80 336.56,397.29 334.12,399.20 331.67,400.10 329.23,400.78 326.79,401.54 324.35,402.65 321.91,403.95 319.46,405.13 317.02,405.87 314.58,406.13 312.14,406.41 309.70,407.72 307.25,410.21 304.81,413.05 302.37,415.42 299.93,417.29 297.49,419.07 295.04,420.61 292.60,421.73 290.16,422.44 287.72,422.98 285.28,423.53 282.83,424.13 280.39,424.73 277.95,425.33" fill="#00BA38" fill-opacity="0.2"/>
<polygon points="277.95,395.59 280.39,396.33 282.83,397.06 285.28,397.39 287.72,397.12 290.16,396.45 292.60,395.59 295.04,394.40 297.49,392.69 299.93,390.63 302.37,388.38 304.81,385.12 307.25,380.93 309.70,377.31 312.14,375.76 314.58,376.40 317.02,377.03 319.46,375.80 321.91,372.81 324.35,369.14 326.79,365.85 329.23,363.16 331.67,360.50 334.12,357.74 336.56,354.54 339.00,351.24 341.44,348.73 343.88,347.39 346.33,346.02 348.77,343.25 351.21,339.41 353.65,335.57 353.65,389.28 351.21,389.59 348.77,389.89 346.33,390.18 343.88,390.41 341.44,390.73 339.00,392.15 336.56,394.55 334.12,396.49 331.67,397.52 329.23,398.33 326.79,399.20 324.35,400.35 321.91,401.64 319.46,402.84 317.02,403.70 314.58,404.13 312.14,404.60 309.70,406.16 307.25,408.87 304.81,411.93 302.37,414.52 299.93,416.65 297.49,418.73 295.04,420.50 292.60,421.73 290.16,422.45 287.72,422.99 285.28,423.53 282.83,424.13 280.39,424.73 277.95,425.33" fill="#619CFF" fill-opacity="0.2"/>
</g>
<rect x="274.40" y="330.50" width="83.0" height="100.0" fill="none" stroke="#333" stroke-opacity="0.5" stroke-width="1.1"/>
<rect x="274.40" y="301.90" width="83.0" height="14.2" fill="#d9d9d9" stroke="#333" stroke-opacity="0.72" stroke-width="0.9"/>
<rect x="274.40" y="316.10" width="83.0" height="14.4" fill="#d9d9d9" stroke="#333" stroke-opacity="0.72" stroke-width="0.9"/>
<text x="315.90" y="311.80" text-anchor="middle" font-size="7.5" fill="#2b2b2b">Deaths</text>
<text x="315.90" y="326.10" text-anchor="middle" font-size="7.5" fill="#2b2b2b">High-middle SDI</text>
<line x1="271.60" x2="274.40" y1="333.77" y2="333.77" stroke="#333" stroke-width="1.0"/>
<text x="269.80" y="336.47" text-anchor="end" font-size="7.5" fill="#4d4d4d">10</text>
<line x1="271.60" x2="274.40" y1="362.61" y2="362.61" stroke="#333" stroke-width="1.0"/>
<text x="269.80" y="365.31" text-anchor="end" font-size="7.5" fill="#4d4d4d">8</text>
<line x1="271.60" x2="274.40" y1="391.45" y2="391.45" stroke="#333" stroke-width="1.0"/>
<text x="269.80" y="394.15" text-anchor="end" font-size="7.5" fill="#4d4d4d">6</text>
<line x1="271.60" x2="274.40" y1="420.47" y2="420.47" stroke="#333" stroke-width="1.0"/>
<text x="269.80" y="423.17" text-anchor="end" font-size="7.5" fill="#4d4d4d">4</text>
</g>
<g>
<clipPath id="c23"><rect x="386.40" y="330.50" width="83.0" height="100.0"/></clipPath>
<rect x="386.40" y="330.50" width="83.0" height="100.0" fill="#fff"/>
<line x1="386.40" x2="469.40" y1="351.43" y2="351.43" stroke="#ebebeb" stroke-width="0.5"/>
<line x1="386.40" x2="469.40" y1="374.86" y2="374.86" stroke="#ebebeb" stroke-width="0.5"/>
<line x1="386.40" x2="469.40" y1="398.30" y2="398.30" stroke="#ebebeb" stroke-width="0.5"/>
<line x1="386.40" x2="469.40" y1="421.73" y2="421.73" stroke="#ebebeb" stroke-width="0.5"/>
<line x1="402.16" x2="402.16" y1="330.50" y2="430.50" stroke="#ebebeb" stroke-width="0.5"/>
<line x1="426.58" x2="426.58" y1="330.50" y2="430.50" stroke="#ebebeb" stroke-width="0.5"/>
<line x1="451.00" x2="451.00" y1="330.50" y2="430.50" stroke="#ebebeb" stroke-width="0.5"/>
<line x1="386.40" x2="469.40" y1="339.72" y2="339.72" stroke="#e8e8e8" stroke-width="0.95"/>
<line x1="386.40" x2="469.40" y1="363.15" y2="363.15" stroke="#e8e8e8" stroke-width="0.95"/>
<line x1="386.40" x2="469.40" y1="386.58" y2="386.58" stroke="#e8e8e8" stroke-width="0.95"/>
<line x1="386.40" x2="469.40" y1="410.01" y2="410.01" stroke="#e8e8e8" stroke-width="0.95"/>
<line x1="389.95" x2="389.95" y1="330.50" y2="430.50" stroke="#e8e8e8" stroke-width="0.95"/>
<line x1="414.37" x2="414.37" y1="330.50" y2="430.50" stroke="#e8e8e8" stroke-width="0.95"/>
<line x1="438.79" x2="438.79" y1="330.50" y2="430.50" stroke="#e8e8e8" stroke-width="0.95"/>
<line x1="463.21" x2="463.21" y1="330.50" y2="430.50" stroke="#e8e8e8" stroke-width="0.95"/>
<g clip-path="url(#c23)">
<polyline points="389.95,412.72 392.39,412.64 394.83,412.58 397.28,412.49 399.72,412.35 402.16,411.80 404.60,410.72 407.04,409.47 409.49,408.05 411.93,406.35 414.37,404.60 416.81,402.52 419.25,400.15 421.70,398.20 424.14,397.39 426.58,397.39 429.02,397.39 431.46,396.30 433.91,393.67 436.35,390.52 438.79,387.84 441.23,385.82 443.67,383.92 446.12,382.10 448.56,380.27 451.00,378.43 453.44,376.61 455.88,374.82 458.33,373.06 460.77,371.35 463.21,369.68 465.65,368.01" fill="none" stroke="#F8766D" stroke-width="1.15" stroke-linejoin="round"/>
<polyline points="389.95,411.45 392.39,411.56 394.83,411.68 397.28,411.77 399.72,411.81 402.16,411.54 404.60,410.86 407.04,410.01 409.49,408.78 411.93,407.12 414.37,405.51 416.81,403.86 419.25,402.09 421.70,400.68 424.14,400.10 426.58,400.28 429.02,400.46 431.46,399.70 433.91,397.87 436.35,395.67 438.79,393.79 441.23,392.39 443.67,391.11 446.12,389.82 448.56,388.38 451.00,386.74 453.44,384.95 455.88,383.07 458.33,381.17 460.77,379.23 463.21,377.23 465.65,375.22" fill="none" stroke="#00BA38" stroke-width="1.15" stroke-linejoin="round"/>
<polyline points="389.95,414.52 392.39,414.20 394.83,413.91 397.28,413.56 399.72,413.08 402.16,412.13 404.60,410.69 407.04,409.11 409.49,407.47 411.93,405.65 414.37,403.70 416.81,401.17 419.25,398.20 421.70,395.73 424.14,394.69 426.58,394.87 429.02,395.05 431.46,393.65 433.91,390.30 436.35,386.31 438.79,382.97 441.23,380.52 443.67,378.25 446.12,376.09 448.56,373.96 451.00,371.84 453.44,369.76 455.88,367.75 458.33,365.85 460.77,364.10 463.21,362.45 465.65,360.80" fill="none" stroke="#619CFF" stroke-width="1.15" stroke-linejoin="round"/>
<polygon points="389.95,397.94 392.39,398.47 394.83,399.06 397.28,399.54 399.72,399.74 402.16,399.36 404.60,398.47 407.04,397.39 409.49,396.05 411.93,394.34 414.37,392.53 416.81,390.33 419.25,387.77 421.70,385.66 424.14,384.78 426.58,384.78 429.02,384.78 431.46,383.75 433.91,381.24 436.35,378.11 438.79,375.22 441.23,372.70 443.67,370.11 446.12,367.51 448.56,364.95 451.00,362.47 453.44,360.03 455.88,357.57 458.33,355.04 460.77,352.38 463.21,349.65 465.65,346.93 465.65,385.32 463.21,386.30 460.77,387.28 458.33,388.38 455.88,389.71 453.44,391.22 451.00,392.80 448.56,394.33 446.12,395.73 443.67,397.08 441.23,398.50 438.79,400.10 436.35,402.37 433.91,405.14 431.46,407.55 429.02,408.75 426.58,408.93 424.14,409.11 421.70,409.91 419.25,411.44 416.81,413.24 414.37,414.88 411.93,416.34 409.49,417.78 407.04,419.02 404.60,420.13 402.16,421.10 399.72,421.73 397.28,422.03 394.83,422.25 392.39,422.43 389.95,422.63" fill="#F8766D" fill-opacity="0.2"/>
<polygon points="389.95,398.30 392.39,398.83 394.83,399.42 397.28,399.90 399.72,400.10 402.16,399.82 404.60,399.14 407.04,398.30 409.49,397.08 411.93,395.43 414.37,393.79 416.81,392.02 419.25,390.07 421.70,388.49 424.14,387.84 426.58,387.84 429.02,387.84 431.46,387.06 433.91,385.16 436.35,382.80 438.79,380.63 441.23,378.80 443.67,376.95 446.12,375.06 448.56,373.06 451.00,370.93 453.44,368.69 455.88,366.38 458.33,364.05 460.77,361.68 463.21,359.26 465.65,356.84 465.65,390.18 463.21,391.70 460.77,393.22 458.33,394.69 455.88,396.09 453.44,397.46 451.00,398.79 448.56,400.10 446.12,401.37 443.67,402.60 441.23,403.84 438.79,405.14 436.35,406.75 433.91,408.55 431.46,410.10 429.02,410.91 426.58,411.10 424.14,411.27 421.70,411.87 419.25,412.93 416.81,414.20 414.37,415.42 411.93,416.64 409.49,417.92 407.04,419.02 404.60,420.01 402.16,420.90 399.72,421.37 397.28,421.50 394.83,421.59 392.39,421.65 389.95,421.73" fill="#00BA38" fill-opacity="0.2"/>
<polygon points="389.95,397.39 392.39,397.93 394.83,398.52 397.28,399.00 399.72,399.20 402.16,398.76 404.60,397.73 407.04,396.49 409.49,395.03 411.93,393.17 414.37,391.09 416.81,388.19 419.25,384.61 421.70,381.56 424.14,380.27 426.58,380.27 429.02,380.27 431.46,379.11 433.91,376.27 436.35,372.73 438.79,369.46 441.23,366.59 443.67,363.66 446.12,360.69 448.56,357.74 451.00,354.87 453.44,352.04 455.88,349.13 458.33,346.02 460.77,342.58 463.21,338.89 465.65,335.21 465.65,380.27 463.21,381.44 460.77,382.61 458.33,383.88 455.88,385.31 453.44,386.87 451.00,388.51 448.56,390.18 446.12,391.87 443.67,393.59 441.23,395.41 438.79,397.39 436.35,400.12 433.91,403.39 431.46,406.15 429.02,407.31 426.58,407.31 424.14,407.31 421.70,408.24 419.25,410.47 416.81,413.14 414.37,415.42 411.93,417.15 409.49,418.76 407.04,420.29 404.60,421.87 402.16,423.38 399.72,424.43 397.28,425.02 394.83,425.46 392.39,425.83 389.95,426.23" fill="#619CFF" fill-opacity="0.2"/>
</g>
<rect x="386.40" y="330.50" width="83.0" height="100.0" fill="none" stroke="#333" stroke-opacity="0.5" stroke-width="1.1"/>
<rect x="386.40" y="301.90" width="83.0" height="14.2" fill="#d9d9d9" stroke="#333" stroke-opacity="0.72" stroke-width="0.9"/>
<rect x="386.40" y="316.10" width="83.0" height="14.4" fill="#d9d9d9" stroke="#333" stroke-opacity="0.72" stroke-width="0.9"/>
<text x="427.90" y="311.80" text-anchor="middle" font-size="7.5" fill="#2b2b2b">Deaths</text>
<text x="427.90" y="326.10" text-anchor="middle" font-size="7.5" fill="#2b2b2b">Middle SDI</text>
<line x1="383.60" x2="386.40" y1="339.72" y2="339.72" stroke="#333" stroke-width="1.0"/>
<text x="381.80" y="342.42" text-anchor="end" font-size="7.5" fill="#4d4d4d">15.0</text>
<line x1="383.60" x2="386.40" y1="363.15" y2="363.15" stroke="#333" stroke-width="1.0"/>
<text x="381.80" y="365.85" text-anchor="end" font-size="7.5" fill="#4d4d4d">12.5</text>
<line x1="383.60" x2="386.40" y1="386.58" y2="386.58" stroke="#333" stroke-width="1.0"/>
<text x="381.80" y="389.28" text-anchor="end" font-size="7.5" fill="#4d4d4d">10.0</text>
<line x1="383.60" x2="386.40" y1="410.01" y2="410.01" stroke="#333" stroke-width="1.0"/>
<text x="381.80" y="412.71" text-anchor="end" font-size="7.5" fill="#4d4d4d">7.5</text>
</g>
<g>
<clipPath id="c24"><rect x="498.40" y="330.50" width="83.0" height="100.0"/></clipPath>
<rect x="498.40" y="330.50" width="83.0" height="100.0" fill="#fff"/>
<line x1="498.40" x2="581.40" y1="343.23" y2="343.23" stroke="#ebebeb" stroke-width="0.5"/>
<line x1="498.40" x2="581.40" y1="370.81" y2="370.81" stroke="#ebebeb" stroke-width="0.5"/>
<line x1="498.40" x2="581.40" y1="398.30" y2="398.30" stroke="#ebebeb" stroke-width="0.5"/>
<line x1="498.40" x2="581.40" y1="425.78" y2="425.78" stroke="#ebebeb" stroke-width="0.5"/>
<line x1="514.16" x2="514.16" y1="330.50" y2="430.50" stroke="#ebebeb" stroke-width="0.5"/>
<line x1="538.58" x2="538.58" y1="330.50" y2="430.50" stroke="#ebebeb" stroke-width="0.5"/>
<line x1="563.00" x2="563.00" y1="330.50" y2="430.50" stroke="#ebebeb" stroke-width="0.5"/>
<line x1="498.40" x2="581.40" y1="357.02" y2="357.02" stroke="#e8e8e8" stroke-width="0.95"/>
<line x1="498.40" x2="581.40" y1="384.60" y2="384.60" stroke="#e8e8e8" stroke-width="0.95"/>
<line x1="498.40" x2="581.40" y1="411.99" y2="411.99" stroke="#e8e8e8" stroke-width="0.95"/>
<line x1="501.95" x2="501.95" y1="330.50" y2="430.50" stroke="#e8e8e8" stroke-width="0.95"/>
<line x1="526.37" x2="526.37" y1="330.50" y2="430.50" stroke="#e8e8e8" stroke-width="0.95"/>
<line x1="550.79" x2="550.79" y1="330.50" y2="430.50" stroke="#e8e8e8" stroke-width="0.95"/>
<line x1="575.21" x2="575.21" y1="330.50" y2="430.50" stroke="#e8e8e8" stroke-width="0.95"/>
<g clip-path="url(#c24)">
<polyline points="501.95,406.77 504.39,405.97 506.83,405.16 509.28,404.36 511.72,403.57 514.16,402.80 516.60,402.09 519.04,401.43 521.49,400.76 523.93,400.04 526.37,399.20 528.81,398.12 531.25,396.82 533.70,395.43 536.14,394.07 538.58,392.89 541.02,391.84 543.46,390.82 545.91,389.88 548.35,389.05 550.79,388.38 553.23,387.96 555.67,387.48 558.12,386.38 560.56,384.73 563.00,382.97 565.44,381.29 567.88,379.37 570.33,376.32 572.77,374.32 575.21,374.39 577.65,374.50" fill="none" stroke="#F8766D" stroke-width="1.15" stroke-linejoin="round"/>
<polyline points="501.95,415.78 504.39,414.98 506.83,414.18 509.28,413.37 511.72,412.58 514.16,411.81 516.60,411.09 519.04,410.42 521.49,409.74 523.93,409.02 526.37,408.21 528.81,407.25 531.25,406.15 533.70,405.00 536.14,403.85 538.58,402.80 541.02,401.83 543.46,400.89 545.91,399.98 548.35,399.11 550.79,398.30 553.23,397.61 555.67,396.85 558.12,395.76 560.56,394.40 563.00,392.89 565.44,391.17 567.88,389.28 570.33,386.83 572.77,385.32 575.21,385.32 577.65,385.32" fill="none" stroke="#00BA38" stroke-width="1.15" stroke-linejoin="round"/>
<polyline points="501.95,397.39 504.39,396.55 506.83,395.68 509.28,394.82 511.72,394.00 514.16,393.25 516.60,392.61 519.04,392.07 521.49,391.53 523.93,390.93 526.37,390.18 528.81,389.12 531.25,387.73 533.70,386.19 536.14,384.67 538.58,383.34 541.02,382.10 543.46,380.83 545.91,379.66 548.35,378.72 550.79,378.11 553.23,377.85 555.67,377.57 558.12,376.37 560.56,374.26 563.00,372.16 565.44,370.48 567.88,368.56 570.33,364.83 572.77,362.25 575.21,362.72 577.65,363.51" fill="none" stroke="#619CFF" stroke-width="1.15" stroke-linejoin="round"/>
<polygon points="501.95,391.09 504.39,390.17 506.83,389.24 509.28,388.31 511.72,387.42 514.16,386.58 516.60,385.84 519.04,385.18 521.49,384.53 523.93,383.82 526.37,382.97 528.81,381.87 531.25,380.50 533.70,379.03 536.14,377.58 538.58,376.31 541.02,375.18 543.46,374.10 545.91,373.08 548.35,372.13 550.79,371.26 553.23,370.59 555.67,369.82 558.12,368.30 560.56,366.19 563.00,364.05 565.44,362.26 567.88,360.08 570.33,355.16 572.77,351.43 575.21,351.21 577.65,351.07 577.65,391.09 575.21,390.86 572.77,390.73 570.33,392.31 567.88,394.69 565.44,396.09 563.00,397.39 560.56,399.04 558.12,400.75 555.67,401.90 553.23,402.38 550.79,402.80 548.35,403.48 545.91,404.33 543.46,405.29 541.02,406.30 538.58,407.31 536.14,408.36 533.70,409.50 531.25,410.66 528.81,411.76 526.37,412.72 523.93,413.52 521.49,414.24 519.04,414.92 516.60,415.60 514.16,416.32 511.72,417.09 509.28,417.88 506.83,418.68 504.39,419.49 501.95,420.29" fill="#F8766D" fill-opacity="0.2"/>
<polygon points="501.95,401.00 504.39,400.27 506.83,399.53 509.28,398.79 511.72,398.08 514.16,397.39 516.60,396.78 519.04,396.23 521.49,395.67 523.93,395.06 526.37,394.33 528.81,393.38 531.25,392.20 533.70,390.90 536.14,389.60 538.58,388.38 541.02,387.22 543.46,386.03 545.91,384.89 548.35,383.85 550.79,382.97 553.23,382.37 555.67,381.71 558.12,380.50 560.56,378.83 563.00,377.03 565.44,375.21 567.88,373.06 570.33,369.50 572.77,366.75 575.21,366.22 577.65,365.85 577.65,400.46 575.21,400.01 572.77,399.74 570.33,400.91 567.88,402.80 565.44,404.19 563.00,405.51 560.56,406.87 558.12,408.18 555.67,409.11 553.23,409.58 550.79,410.01 548.35,410.69 545.91,411.54 543.46,412.50 541.02,413.51 538.58,414.52 536.14,415.58 533.70,416.74 531.25,417.91 528.81,419.00 526.37,419.93 523.93,420.68 521.49,421.35 519.04,421.96 516.60,422.56 514.16,423.17 511.72,423.79 509.28,424.41 506.83,425.02 504.39,425.62 501.95,426.23" fill="#00BA38" fill-opacity="0.2"/>
<polygon points="501.95,377.57 504.39,376.15 506.83,374.59 509.28,373.10 511.72,371.91 514.16,371.26 516.60,371.01 519.04,370.86 521.49,370.75 523.93,370.60 526.37,370.36 528.81,369.77 531.25,368.75 533.70,367.48 536.14,366.16 538.58,364.95 541.02,363.79 543.46,362.56 545.91,361.36 548.35,360.32 550.79,359.54 553.23,359.12 555.67,358.64 558.12,357.22 560.56,354.87 563.00,352.33 565.44,349.93 567.88,346.93 570.33,340.62 572.77,336.11 575.21,336.11 577.65,336.11 577.65,385.32 575.21,384.42 572.77,383.88 570.33,385.29 567.88,387.48 565.44,388.85 563.00,390.18 560.56,391.92 558.12,393.77 555.67,395.05 553.23,395.62 550.79,396.13 548.35,396.89 545.91,397.80 543.46,398.82 541.02,399.90 538.58,401.00 536.14,402.21 533.70,403.57 531.25,404.95 528.81,406.24 526.37,407.31 523.93,408.15 521.49,408.89 519.04,409.57 516.60,410.22 514.16,410.91 511.72,411.63 509.28,412.35 506.83,413.08 504.39,413.80 501.95,414.52" fill="#619CFF" fill-opacity="0.2"/>
</g>
<rect x="498.40" y="330.50" width="83.0" height="100.0" fill="none" stroke="#333" stroke-opacity="0.5" stroke-width="1.1"/>
<rect x="498.40" y="301.90" width="83.0" height="14.2" fill="#d9d9d9" stroke="#333" stroke-opacity="0.72" stroke-width="0.9"/>
<rect x="498.40" y="316.10" width="83.0" height="14.4" fill="#d9d9d9" stroke="#333" stroke-opacity="0.72" stroke-width="0.9"/>
<text x="539.90" y="311.80" text-anchor="middle" font-size="7.5" fill="#2b2b2b">Deaths</text>
<text x="539.90" y="326.10" text-anchor="middle" font-size="7.5" fill="#2b2b2b">Low-middle SDI</text>
<line x1="495.60" x2="498.40" y1="357.02" y2="357.02" stroke="#333" stroke-width="1.0"/>
<text x="493.80" y="359.72" text-anchor="end" font-size="7.5" fill="#4d4d4d">10.0</text>
<line x1="495.60" x2="498.40" y1="384.60" y2="384.60" stroke="#333" stroke-width="1.0"/>
<text x="493.80" y="387.30" text-anchor="end" font-size="7.5" fill="#4d4d4d">7.5</text>
<line x1="495.60" x2="498.40" y1="411.99" y2="411.99" stroke="#333" stroke-width="1.0"/>
<text x="493.80" y="414.69" text-anchor="end" font-size="7.5" fill="#4d4d4d">5.0</text>
</g>
<g>
<clipPath id="c25"><rect x="610.40" y="330.50" width="83.0" height="100.0"/></clipPath>
<rect x="610.40" y="330.50" width="83.0" height="100.0" fill="#fff"/>
<line x1="610.40" x2="693.40" y1="346.75" y2="346.75" stroke="#ebebeb" stroke-width="0.5"/>
<line x1="610.40" x2="693.40" y1="370.81" y2="370.81" stroke="#ebebeb" stroke-width="0.5"/>
<line x1="610.40" x2="693.40" y1="394.87" y2="394.87" stroke="#ebebeb" stroke-width="0.5"/>
<line x1="610.40" x2="693.40" y1="419.02" y2="419.02" stroke="#ebebeb" stroke-width="0.5"/>
<line x1="626.16" x2="626.16" y1="330.50" y2="430.50" stroke="#ebebeb" stroke-width="0.5"/>
<line x1="650.58" x2="650.58" y1="330.50" y2="430.50" stroke="#ebebeb" stroke-width="0.5"/>
<line x1="675.00" x2="675.00" y1="330.50" y2="430.50" stroke="#ebebeb" stroke-width="0.5"/>
<line x1="610.40" x2="693.40" y1="334.67" y2="334.67" stroke="#e8e8e8" stroke-width="0.95"/>
<line x1="610.40" x2="693.40" y1="358.82" y2="358.82" stroke="#e8e8e8" stroke-width="0.95"/>
<line x1="610.40" x2="693.40" y1="382.79" y2="382.79" stroke="#e8e8e8" stroke-width="0.95"/>
<line x1="610.40" x2="693.40" y1="406.95" y2="406.95" stroke="#e8e8e8" stroke-width="0.95"/>
<line x1="613.95" x2="613.95" y1="330.50" y2="430.50" stroke="#e8e8e8" stroke-width="0.95"/>
<line x1="638.37" x2="638.37" y1="330.50" y2="430.50" stroke="#e8e8e8" stroke-width="0.95"/>
<line x1="662.79" x2="662.79" y1="330.50" y2="430.50" stroke="#e8e8e8" stroke-width="0.95"/>
<line x1="687.21" x2="687.21" y1="330.50" y2="430.50" stroke="#e8e8e8" stroke-width="0.95"/>
<g clip-path="url(#c25)">
<polyline points="613.95,389.64 616.39,389.43 618.83,389.19 621.28,389.00 623.72,388.92 626.16,389.09 628.60,389.52 631.04,390.16 633.49,390.93 635.93,391.74 638.37,392.53 640.81,393.35 643.25,394.29 645.70,395.30 648.14,396.35 650.58,397.39 653.02,398.69 655.46,400.03 657.91,400.64 660.35,400.59 662.79,400.46 665.23,400.01 667.67,399.20 670.12,397.63 672.56,396.13 675.00,395.59 677.44,395.59 679.88,395.59 682.33,395.14 684.77,394.69 687.21,395.37 689.65,396.49" fill="none" stroke="#F8766D" stroke-width="1.15" stroke-linejoin="round"/>
<polyline points="613.95,406.77 616.39,406.39 618.83,405.98 621.28,405.64 623.72,405.51 626.16,405.58 628.60,405.78 631.04,406.08 633.49,406.46 635.93,406.88 638.37,407.31 640.81,407.82 643.25,408.46 645.70,409.22 648.14,410.04 650.58,410.91 653.02,412.14 655.46,413.51 657.91,414.16 660.35,414.16 662.79,414.16 665.23,413.32 667.67,411.81 670.12,410.02 672.56,408.75 675.00,408.57 677.44,408.41 679.88,408.21 682.33,407.51 684.77,406.95 687.21,407.08 689.65,407.31" fill="none" stroke="#00BA38" stroke-width="1.15" stroke-linejoin="round"/>
<polyline points="613.95,371.62 616.39,371.51 618.83,371.39 621.28,371.30 623.72,371.26 626.16,371.57 628.60,372.38 631.04,373.55 633.49,374.91 635.93,376.30 638.37,377.57 640.81,378.76 643.25,380.03 645.70,381.32 648.14,382.62 650.58,383.88 653.02,385.36 655.46,386.82 657.91,387.48 660.35,387.14 662.79,386.58 665.23,386.20 667.67,385.68 670.12,383.70 672.56,382.07 675.00,382.07 677.44,382.70 679.88,383.34 682.33,382.52 684.77,381.71 687.21,382.86 689.65,384.78" fill="none" stroke="#619CFF" stroke-width="1.15" stroke-linejoin="round"/>
<polygon points="613.95,366.75 616.39,366.22 618.83,365.63 621.28,365.15 623.72,364.95 626.16,365.10 628.60,365.50 631.04,366.11 633.49,366.86 635.93,367.69 638.37,368.56 640.81,369.62 643.25,371.00 645.70,372.58 648.14,374.21 650.58,375.76 653.02,377.52 655.46,379.29 657.91,380.27 660.35,380.53 662.79,380.63 665.23,380.53 667.67,380.27 670.12,378.41 672.56,376.31 675.00,375.76 677.44,375.76 679.88,375.76 682.33,374.86 684.77,373.96 687.21,374.64 689.65,375.76 689.65,412.72 687.21,411.81 684.77,411.27 682.33,411.54 679.88,411.81 677.44,411.54 675.00,411.27 672.56,411.81 670.12,412.96 667.67,414.16 665.23,414.99 662.79,415.42 660.35,415.42 657.91,415.42 655.46,414.90 653.02,413.78 650.58,412.72 648.14,411.89 645.70,411.07 643.25,410.30 640.81,409.63 638.37,409.11 635.93,408.68 633.49,408.26 631.04,407.89 628.60,407.58 626.16,407.38 623.72,407.31 621.28,407.41 618.83,407.65 616.39,407.94 613.95,408.21" fill="#F8766D" fill-opacity="0.2"/>
<polygon points="613.95,385.68 616.39,385.57 618.83,385.45 621.28,385.36 623.72,385.32 626.16,385.45 628.60,385.82 631.04,386.36 633.49,387.00 635.93,387.70 638.37,388.38 640.81,389.11 643.25,389.97 645.70,390.90 648.14,391.89 650.58,392.89 653.02,394.17 655.46,395.51 657.91,396.13 660.35,396.13 662.79,396.13 665.23,395.68 667.67,394.69 670.12,392.47 672.56,390.18 675.00,389.28 677.44,388.83 679.88,388.38 682.33,387.33 684.77,386.58 687.21,386.92 689.65,387.48 689.65,420.83 687.21,420.26 684.77,419.93 682.33,420.38 679.88,420.83 677.44,420.83 675.00,420.83 672.56,421.37 670.12,422.38 667.67,423.53 665.23,424.68 662.79,425.33 660.35,425.33 657.91,425.33 655.46,424.97 653.02,424.20 650.58,423.53 648.14,423.08 645.70,422.67 643.25,422.30 640.81,421.98 638.37,421.73 635.93,421.51 633.49,421.30 631.04,421.12 628.60,420.96 626.16,420.86 623.72,420.83 621.28,420.92 618.83,421.16 616.39,421.46 613.95,421.73" fill="#00BA38" fill-opacity="0.2"/>
<polygon points="613.95,335.21 616.39,335.86 618.83,336.49 621.28,337.16 623.72,337.91 626.16,338.77 628.60,339.73 631.04,340.76 633.49,341.86 635.93,343.02 638.37,344.22 640.81,345.52 643.25,346.93 645.70,348.42 648.14,349.93 650.58,351.43 653.02,353.11 655.46,354.80 657.91,355.94 660.35,356.56 662.79,356.84 665.23,356.84 667.67,356.84 670.12,355.59 672.56,353.23 675.00,350.53 677.44,353.23 679.88,355.94 682.33,355.04 684.77,354.14 687.21,355.49 689.65,357.74 689.65,401.90 687.21,400.77 684.77,400.10 682.33,400.92 679.88,401.90 677.44,402.08 675.00,402.26 672.56,402.80 670.12,404.62 667.67,406.41 665.23,407.04 662.79,407.31 660.35,407.31 657.91,407.31 655.46,406.60 653.02,405.10 650.58,403.70 648.14,402.68 645.70,401.71 643.25,400.80 640.81,399.96 638.37,399.20 635.93,398.43 633.49,397.62 631.04,396.85 628.60,396.20 626.16,395.76 623.72,395.59 621.28,395.65 618.83,395.79 616.39,395.97 613.95,396.13" fill="#619CFF" fill-opacity="0.2"/>
</g>
<rect x="610.40" y="330.50" width="83.0" height="100.0" fill="none" stroke="#333" stroke-opacity="0.5" stroke-width="1.1"/>
<rect x="610.40" y="301.90" width="83.0" height="14.2" fill="#d9d9d9" stroke="#333" stroke-opacity="0.72" stroke-width="0.9"/>
<rect x="610.40" y="316.10" width="83.0" height="14.4" fill="#d9d9d9" stroke="#333" stroke-opacity="0.72" stroke-width="0.9"/>
<text x="651.90" y="311.80" text-anchor="middle" font-size="7.5" fill="#2b2b2b">Deaths</text>
<text x="651.90" y="326.10" text-anchor="middle" font-size="7.5" fill="#2b2b2b">Low SDI</text>
<line x1="607.60" x2="610.40" y1="334.67" y2="334.67" stroke="#333" stroke-width="1.0"/>
<text x="605.80" y="337.37" text-anchor="end" font-size="7.5" fill="#4d4d4d">12</text>
<line x1="607.60" x2="610.40" y1="358.82" y2="358.82" stroke="#333" stroke-width="1.0"/>
<text x="605.80" y="361.52" text-anchor="end" font-size="7.5" fill="#4d4d4d">10</text>
<line x1="607.60" x2="610.40" y1="382.79" y2="382.79" stroke="#333" stroke-width="1.0"/>
<text x="605.80" y="385.49" text-anchor="end" font-size="7.5" fill="#4d4d4d">8</text>
<line x1="607.60" x2="610.40" y1="406.95" y2="406.95" stroke="#333" stroke-width="1.0"/>
<text x="605.80" y="409.65" text-anchor="end" font-size="7.5" fill="#4d4d4d">6</text>
</g>
<g>
<clipPath id="c30"><rect x="50.40" y="465.00" width="83.0" height="100.0"/></clipPath>
<rect x="50.40" y="465.00" width="83.0" height="100.0" fill="#fff"/>
<line x1="50.40" x2="133.40" y1="486.16" y2="486.16" stroke="#ebebeb" stroke-width="0.5"/>
<line x1="50.40" x2="133.40" y1="511.58" y2="511.58" stroke="#ebebeb" stroke-width="0.5"/>
<line x1="50.40" x2="133.40" y1="537.08" y2="537.08" stroke="#ebebeb" stroke-width="0.5"/>
<line x1="50.40" x2="133.40" y1="562.59" y2="562.59" stroke="#ebebeb" stroke-width="0.5"/>
<line x1="66.16" x2="66.16" y1="465.00" y2="565.00" stroke="#ebebeb" stroke-width="0.5"/>
<line x1="90.58" x2="90.58" y1="465.00" y2="565.00" stroke="#ebebeb" stroke-width="0.5"/>
<line x1="115.00" x2="115.00" y1="465.00" y2="565.00" stroke="#ebebeb" stroke-width="0.5"/>
<line x1="50.40" x2="133.40" y1="473.45" y2="473.45" stroke="#e8e8e8" stroke-width="0.95"/>
<line x1="50.40" x2="133.40" y1="498.87" y2="498.87" stroke="#e8e8e8" stroke-width="0.95"/>
<line x1="50.40" x2="133.40" y1="524.28" y2="524.28" stroke="#e8e8e8" stroke-width="0.95"/>
<line x1="50.40" x2="133.40" y1="549.88" y2="549.88" stroke="#e8e8e8" stroke-width="0.95"/>
<line x1="53.95" x2="53.95" y1="465.00" y2="565.00" stroke="#e8e8e8" stroke-width="0.95"/>
<line x1="78.37" x2="78.37" y1="465.00" y2="565.00" stroke="#e8e8e8" stroke-width="0.95"/>
<line x1="102.79" x2="102.79" y1="465.00" y2="565.00" stroke="#e8e8e8" stroke-width="0.95"/>
<line x1="127.21" x2="127.21" y1="465.00" y2="565.00" stroke="#e8e8e8" stroke-width="0.95"/>
<g clip-path="url(#c30)">
<polyline points="53.95,545.01 56.39,545.01 58.83,545.01 61.28,545.01 63.72,544.64 66.16,543.74 68.60,542.67 71.04,541.36 73.49,539.68 75.93,537.82 78.37,536.00 80.81,533.98 83.25,531.75 85.70,529.84 88.14,528.79 90.58,528.52 93.02,528.25 95.46,527.31 97.91,525.62 100.35,523.57 102.79,521.58 105.23,519.57 107.67,517.33 110.12,515.08 112.56,513.00 115.00,511.31 117.44,510.10 119.88,508.96 122.33,507.58 124.77,506.09 127.21,504.54 129.65,503.01" fill="none" stroke="#F8766D" stroke-width="1.15" stroke-linejoin="round"/>
<polyline points="53.95,549.52 56.39,549.42 58.83,549.31 61.28,549.16 63.72,548.79 66.16,548.15 68.60,547.35 71.04,546.24 73.49,544.73 75.93,543.04 78.37,541.41 80.81,539.62 83.25,537.64 85.70,535.96 88.14,535.10 90.58,534.92 93.02,534.74 95.46,534.06 97.91,532.79 100.35,531.24 102.79,529.69 105.23,528.07 107.67,526.22 110.12,524.32 112.56,522.53 115.00,521.04 117.44,519.95 119.88,518.88 122.33,517.48 124.77,515.88 127.21,514.20 129.65,512.57" fill="none" stroke="#00BA38" stroke-width="1.15" stroke-linejoin="round"/>
<polyline points="53.95,540.51 56.39,540.65 58.83,540.80 61.28,540.87 63.72,540.47 66.16,539.51 68.60,538.34 71.04,536.86 73.49,534.90 75.93,532.73 78.37,530.59 80.81,528.13 83.25,525.34 85.70,523.06 88.14,522.12 90.58,522.12 93.02,522.12 95.46,521.19 97.91,518.92 100.35,516.08 102.79,513.47 105.23,511.01 107.67,508.31 110.12,505.68 112.56,503.40 115.00,501.75 117.44,500.84 119.88,499.95 122.33,498.51 124.77,496.67 127.21,494.66 129.65,492.74" fill="none" stroke="#619CFF" stroke-width="1.15" stroke-linejoin="round"/>
<polygon points="53.95,531.13 56.39,531.43 58.83,531.72 61.28,531.85 63.72,531.52 66.16,530.70 68.60,529.69 71.04,528.34 73.49,526.50 75.93,524.46 78.37,522.48 80.81,520.34 83.25,517.99 85.70,515.99 88.14,514.91 90.58,514.64 93.02,514.37 95.46,513.25 97.91,511.16 100.35,508.64 102.79,506.26 105.23,504.03 107.67,501.68 110.12,499.32 112.56,497.08 115.00,495.08 117.44,493.45 119.88,491.84 122.33,489.95 124.77,487.91 127.21,485.80 129.65,483.73 129.65,519.78 127.21,521.03 124.77,522.31 122.33,523.54 119.88,524.64 117.44,525.51 115.00,526.45 112.56,527.86 110.12,529.67 107.67,531.67 105.23,533.67 102.79,535.46 100.35,537.25 97.91,539.10 95.46,540.62 93.02,541.41 90.58,541.59 88.14,541.77 85.70,542.70 83.25,544.52 80.81,546.68 78.37,548.62 75.93,550.37 73.49,552.17 71.04,553.77 68.60,554.93 66.16,555.68 63.72,556.27 61.28,556.73 58.83,557.07 56.39,557.35 53.95,557.63" fill="#F8766D" fill-opacity="0.2"/>
<polygon points="53.95,536.54 56.39,536.69 58.83,536.83 61.28,536.90 63.72,536.62 66.16,535.94 68.60,535.10 71.04,533.95 73.49,532.36 75.93,530.56 78.37,528.79 80.81,526.80 83.25,524.56 85.70,522.64 88.14,521.58 90.58,521.31 93.02,521.04 95.46,520.09 97.91,518.39 100.35,516.35 102.79,514.37 105.23,512.43 107.67,510.33 110.12,508.21 112.56,506.20 115.00,504.46 117.44,503.09 119.88,501.75 122.33,500.11 124.77,498.29 127.21,496.40 129.65,494.54 129.65,527.89 127.21,529.04 124.77,530.21 122.33,531.35 119.88,532.39 117.44,533.27 115.00,534.20 112.56,535.49 110.12,537.06 107.67,538.77 105.23,540.45 102.79,541.95 100.35,543.39 97.91,544.85 95.46,546.08 93.02,546.81 90.58,547.08 88.14,547.35 85.70,548.23 83.25,549.75 80.81,551.52 78.37,553.12 75.93,554.60 73.49,556.12 71.04,557.49 68.60,558.53 66.16,559.36 63.72,560.05 61.28,560.33 58.83,560.33 56.39,560.33 53.95,560.33" fill="#00BA38" fill-opacity="0.2"/>
<polygon points="53.95,523.38 56.39,523.75 58.83,524.12 61.28,524.28 63.72,523.85 66.16,522.81 68.60,521.58 71.04,520.15 73.49,518.36 75.93,516.37 78.37,514.37 80.81,512.03 83.25,509.38 85.70,507.11 88.14,505.90 90.58,505.63 93.02,505.36 95.46,504.15 97.91,501.82 100.35,499.01 102.79,496.35 105.23,493.84 107.67,491.18 110.12,488.51 112.56,485.97 115.00,483.73 117.44,481.93 119.88,480.12 122.33,477.89 124.77,475.38 127.21,472.77 129.65,470.21 129.65,512.57 127.21,513.97 124.77,515.42 122.33,516.79 119.88,517.97 117.44,518.85 115.00,519.78 112.56,521.27 110.12,523.23 107.67,525.45 105.23,527.67 102.79,529.69 100.35,531.74 97.91,533.88 95.46,535.65 93.02,536.54 90.58,536.72 88.14,536.90 85.70,538.01 83.25,540.22 80.81,542.80 78.37,545.01 75.93,546.78 73.49,548.49 71.04,550.03 68.60,551.32 66.16,552.42 63.72,553.37 61.28,554.02 58.83,554.39 56.39,554.66 53.95,554.93" fill="#619CFF" fill-opacity="0.2"/>
</g>
<rect x="50.40" y="465.00" width="83.0" height="100.0" fill="none" stroke="#333" stroke-opacity="0.5" stroke-width="1.1"/>
<rect x="50.40" y="436.40" width="83.0" height="14.2" fill="#d9d9d9" stroke="#333" stroke-opacity="0.72" stroke-width="0.9"/>
<rect x="50.40" y="450.60" width="83.0" height="14.4" fill="#d9d9d9" stroke="#333" stroke-opacity="0.72" stroke-width="0.9"/>
<text x="91.90" y="446.30" text-anchor="middle" font-size="7.5" fill="#2b2b2b">DALYs</text>
<text x="91.90" y="460.60" text-anchor="middle" font-size="7.5" fill="#2b2b2b">Global</text>
<line x1="47.60" x2="50.40" y1="473.45" y2="473.45" stroke="#333" stroke-width="1.0"/>
<text x="45.80" y="476.15" text-anchor="end" font-size="7.5" fill="#4d4d4d">300</text>
<line x1="47.60" x2="50.40" y1="498.87" y2="498.87" stroke="#333" stroke-width="1.0"/>
<text x="45.80" y="501.57" text-anchor="end" font-size="7.5" fill="#4d4d4d">250</text>
<line x1="47.60" x2="50.40" y1="524.28" y2="524.28" stroke="#333" stroke-width="1.0"/>
<text x="45.80" y="526.98" text-anchor="end" font-size="7.5" fill="#4d4d4d">200</text>
<line x1="47.60" x2="50.40" y1="549.88" y2="549.88" stroke="#333" stroke-width="1.0"/>
<text x="45.80" y="552.58" text-anchor="end" font-size="7.5" fill="#4d4d4d">150</text>
<line x1="53.95" x2="53.95" y1="565.00" y2="567.80" stroke="#333" stroke-width="1.0"/>
<text x="53.95" y="575.20" text-anchor="middle" font-size="7.5" fill="#4d4d4d">1990</text>
<line x1="78.37" x2="78.37" y1="565.00" y2="567.80" stroke="#333" stroke-width="1.0"/>
<text x="78.37" y="575.20" text-anchor="middle" font-size="7.5" fill="#4d4d4d">2000</text>
<line x1="102.79" x2="102.79" y1="565.00" y2="567.80" stroke="#333" stroke-width="1.0"/>
<text x="102.79" y="575.20" text-anchor="middle" font-size="7.5" fill="#4d4d4d">2010</text>
<line x1="127.21" x2="127.21" y1="565.00" y2="567.80" stroke="#333" stroke-width="1.0"/>
<text x="127.21" y="575.20" text-anchor="middle" font-size="7.5" fill="#4d4d4d">2020</text>
</g>
<g>
<clipPath id="c31"><rect x="162.40" y="465.00" width="83.0" height="100.0"/></clipPath>
<rect x="162.40" y="465.00" width="83.0" height="100.0" fill="#fff"/>
<line x1="162.40" x2="245.40" y1="468.41" y2="468.41" stroke="#ebebeb" stroke-width="0.5"/>
<line x1="162.40" x2="245.40" y1="489.32" y2="489.32" stroke="#ebebeb" stroke-width="0.5"/>
<line x1="162.40" x2="245.40" y1="510.22" y2="510.22" stroke="#ebebeb" stroke-width="0.5"/>
<line x1="162.40" x2="245.40" y1="531.13" y2="531.13" stroke="#ebebeb" stroke-width="0.5"/>
<line x1="162.40" x2="245.40" y1="552.04" y2="552.04" stroke="#ebebeb" stroke-width="0.5"/>
<line x1="178.16" x2="178.16" y1="465.00" y2="565.00" stroke="#ebebeb" stroke-width="0.5"/>
<line x1="202.58" x2="202.58" y1="465.00" y2="565.00" stroke="#ebebeb" stroke-width="0.5"/>
<line x1="227.00" x2="227.00" y1="465.00" y2="565.00" stroke="#ebebeb" stroke-width="0.5"/>
<line x1="162.40" x2="245.40" y1="478.86" y2="478.86" stroke="#e8e8e8" stroke-width="0.95"/>
<line x1="162.40" x2="245.40" y1="499.77" y2="499.77" stroke="#e8e8e8" stroke-width="0.95"/>
<line x1="162.40" x2="245.40" y1="520.68" y2="520.68" stroke="#e8e8e8" stroke-width="0.95"/>
<line x1="162.40" x2="245.40" y1="541.59" y2="541.59" stroke="#e8e8e8" stroke-width="0.95"/>
<line x1="162.40" x2="245.40" y1="562.50" y2="562.50" stroke="#e8e8e8" stroke-width="0.95"/>
<line x1="165.95" x2="165.95" y1="465.00" y2="565.00" stroke="#e8e8e8" stroke-width="0.95"/>
<line x1="190.37" x2="190.37" y1="465.00" y2="565.00" stroke="#e8e8e8" stroke-width="0.95"/>
<line x1="214.79" x2="214.79" y1="465.00" y2="565.00" stroke="#e8e8e8" stroke-width="0.95"/>
<line x1="239.21" x2="239.21" y1="465.00" y2="565.00" stroke="#e8e8e8" stroke-width="0.95"/>
<g clip-path="url(#c31)">
<polyline points="165.95,552.58 168.39,551.84 170.83,551.12 173.28,550.36 175.72,549.52 178.16,548.63 180.60,547.63 183.04,546.27 185.49,543.66 187.93,540.03 190.37,536.90 192.81,534.70 195.25,532.81 197.70,531.13 200.14,529.67 202.58,528.38 205.02,527.12 207.46,525.73 209.91,524.30 212.35,522.77 214.79,520.68 217.23,516.75 219.67,511.21 222.12,505.90 224.56,501.00 227.00,497.25 229.44,495.39 231.88,494.06 234.33,492.74 236.77,491.24 239.21,489.74 241.65,488.23" fill="none" stroke="#F8766D" stroke-width="1.15" stroke-linejoin="round"/>
<polyline points="165.95,552.58 168.39,551.84 170.83,551.12 173.28,550.36 175.72,549.52 178.16,548.63 180.60,547.63 183.04,546.27 185.49,543.66 187.93,540.03 190.37,536.90 192.81,534.67 195.25,532.75 197.70,531.13 200.14,529.82 202.58,528.70 205.02,527.63 207.46,526.45 209.91,525.24 212.35,523.93 214.79,522.12 217.23,518.39 219.67,513.01 222.12,508.06 224.56,503.88 227.00,500.85 229.44,499.52 231.88,498.61 234.33,497.61 236.77,496.26 239.21,494.77 241.65,493.28" fill="none" stroke="#00BA38" stroke-width="1.15" stroke-linejoin="round"/>
<polyline points="165.95,552.58 168.39,551.84 170.83,551.12 173.28,550.36 175.72,549.52 178.16,548.63 180.60,547.63 183.04,546.27 185.49,543.66 187.93,540.03 190.37,536.90 192.81,534.72 195.25,532.85 197.70,531.13 200.14,529.56 202.58,528.13 205.02,526.72 207.46,525.18 209.91,523.66 212.35,522.02 214.79,519.78 217.23,515.52 219.67,509.45 222.12,503.56 224.56,497.91 227.00,493.64 229.44,491.78 231.88,490.50 234.33,489.14 236.77,487.41 239.21,485.57 241.65,483.73" fill="none" stroke="#619CFF" stroke-width="1.15" stroke-linejoin="round"/>
<polygon points="165.95,545.01 168.39,544.37 170.83,543.76 173.28,543.10 175.72,542.31 178.16,541.39 180.60,540.26 183.04,538.70 185.49,535.46 187.93,530.83 190.37,526.99 192.81,524.51 195.25,522.45 197.70,520.68 200.14,519.19 202.58,517.92 205.02,516.68 207.46,515.27 209.91,513.77 212.35,512.10 214.79,509.86 217.23,505.77 219.67,500.04 222.12,494.54 224.56,489.43 227.00,485.53 229.44,483.70 231.88,482.42 234.33,481.02 236.77,479.21 239.21,477.23 241.65,475.26 241.65,502.29 239.21,503.64 236.77,505.00 234.33,506.26 231.88,507.23 229.44,508.13 227.00,509.50 224.56,513.07 222.12,517.97 219.67,523.20 217.23,528.64 214.79,532.39 212.35,534.31 209.91,535.70 207.46,536.90 205.02,537.96 202.58,538.85 200.14,539.76 197.70,540.87 195.25,542.26 192.81,543.93 190.37,545.91 187.93,548.90 185.49,552.45 183.04,554.93 180.60,556.07 178.16,556.89 175.72,557.63 173.28,558.36 170.83,559.03 168.39,559.68 165.95,560.33" fill="#F8766D" fill-opacity="0.2"/>
<polygon points="165.95,545.01 168.39,544.37 170.83,543.76 173.28,543.10 175.72,542.31 178.16,541.39 180.60,540.26 183.04,538.70 185.49,535.46 187.93,530.83 190.37,526.99 192.81,524.49 195.25,522.42 197.70,520.68 200.14,519.26 202.58,518.08 205.02,516.94 207.46,515.63 209.91,514.22 212.35,512.66 214.79,510.58 217.23,506.92 219.67,501.92 222.12,497.25 224.56,493.20 227.00,490.04 229.44,488.26 231.88,486.94 234.33,485.53 236.77,483.80 239.21,481.96 241.65,480.12 241.65,508.06 239.21,509.19 236.77,510.32 234.33,511.31 231.88,511.97 229.44,512.55 227.00,513.47 224.56,516.26 222.12,520.32 219.67,524.90 217.23,529.84 214.79,533.30 212.35,535.06 209.91,536.36 207.46,537.44 205.02,538.36 202.58,539.11 200.14,539.88 197.70,540.87 195.25,542.21 192.81,543.90 190.37,545.91 187.93,548.90 185.49,552.45 183.04,554.93 180.60,556.07 178.16,556.89 175.72,557.63 173.28,558.36 170.83,559.03 168.39,559.68 165.95,560.33" fill="#00BA38" fill-opacity="0.2"/>
<polygon points="165.95,545.01 168.39,544.37 170.83,543.76 173.28,543.10 175.72,542.31 178.16,541.39 180.60,540.26 183.04,538.70 185.49,535.46 187.93,530.83 190.37,526.99 192.81,524.52 195.25,522.47 197.70,520.68 200.14,519.11 202.58,517.74 205.02,516.39 207.46,514.91 209.91,513.40 212.35,511.76 214.79,509.50 217.23,505.22 219.67,499.03 222.12,492.74 224.56,486.07 227.00,481.02 229.44,479.11 231.88,477.86 234.33,476.52 236.77,474.79 239.21,472.95 241.65,471.11 241.65,498.15 239.21,499.65 236.77,501.15 234.33,502.65 231.88,503.97 229.44,505.29 227.00,507.16 224.56,511.04 222.12,516.17 219.67,521.84 217.23,527.79 214.79,531.85 212.35,533.85 209.91,535.29 207.46,536.54 205.02,537.69 202.58,538.68 200.14,539.68 197.70,540.87 195.25,542.29 192.81,543.94 190.37,545.91 187.93,548.90 185.49,552.45 183.04,554.93 180.60,556.07 178.16,556.89 175.72,557.63 173.28,558.36 170.83,559.03 168.39,559.68 165.95,560.33" fill="#619CFF" fill-opacity="0.2"/>
</g>
<rect x="162.40" y="465.00" width="83.0" height="100.0" fill="none" stroke="#333" stroke-opacity="0.5" stroke-width="1.1"/>
<rect x="162.40" y="436.40" width="83.0" height="14.2" fill="#d9d9d9" stroke="#333" stroke-opacity="0.72" stroke-width="0.9"/>
<rect x="162.40" y="450.60" width="83.0" height="14.4" fill="#d9d9d9" stroke="#333" stroke-opacity="0.72" stroke-width="0.9"/>
<text x="203.90" y="446.30" text-anchor="middle" font-size="7.5" fill="#2b2b2b">DALYs</text>
<text x="203.90" y="460.60" text-anchor="middle" font-size="7.5" fill="#2b2b2b">High SDI</text>
<line x1="159.60" x2="162.40" y1="478.86" y2="478.86" stroke="#333" stroke-width="1.0"/>
<text x="157.80" y="481.56" text-anchor="end" font-size="7.5" fill="#4d4d4d">300</text>
<line x1="159.60" x2="162.40" y1="499.77" y2="499.77" stroke="#333" stroke-width="1.0"/>
<text x="157.80" y="502.47" text-anchor="end" font-size="7.5" fill="#4d4d4d">250</text>
<line x1="159.60" x2="162.40" y1="520.68" y2="520.68" stroke="#333" stroke-width="1.0"/>
<text x="157.80" y="523.38" text-anchor="end" font-size="7.5" fill="#4d4d4d">200</text>
<line x1="159.60" x2="162.40" y1="541.59" y2="541.59" stroke="#333" stroke-width="1.0"/>
<text x="157.80" y="544.29" text-anchor="end" font-size="7.5" fill="#4d4d4d">150</text>
<line x1="159.60" x2="162.40" y1="562.50" y2="562.50" stroke="#333" stroke-width="1.0"/>
<text x="157.80" y="565.20" text-anchor="end" font-size="7.5" fill="#4d4d4d">100</text>
<line x1="165.95" x2="165.95" y1="565.00" y2="567.80" stroke="#333" stroke-width="1.0"/>
<text x="165.95" y="575.20" text-anchor="middle" font-size="7.5" fill="#4d4d4d">1990</text>
<line x1="190.37" x2="190.37" y1="565.00" y2="567.80" stroke="#333" stroke-width="1.0"/>
<text x="190.37" y="575.20" text-anchor="middle" font-size="7.5" fill="#4d4d4d">2000</text>
<line x1="214.79" x2="214.79" y1="565.00" y2="567.80" stroke="#333" stroke-width="1.0"/>
<text x="214.79" y="575.20" text-anchor="middle" font-size="7.5" fill="#4d4d4d">2010</text>
<line x1="239.21" x2="239.21" y1="565.00" y2="567.80" stroke="#333" stroke-width="1.0"/>
<text x="239.21" y="575.20" text-anchor="middle" font-size="7.5" fill="#4d4d4d">2020</text>
</g>
<g>
<clipPath id="c32"><rect x="274.40" y="465.00" width="83.0" height="100.0"/></clipPath>
<rect x="274.40" y="465.00" width="83.0" height="100.0" fill="#fff"/>
<line x1="274.40" x2="357.40" y1="474.09" y2="474.09" stroke="#ebebeb" stroke-width="0.5"/>
<line x1="274.40" x2="357.40" y1="509.59" y2="509.59" stroke="#ebebeb" stroke-width="0.5"/>
<line x1="274.40" x2="357.40" y1="545.01" y2="545.01" stroke="#ebebeb" stroke-width="0.5"/>
<line x1="290.16" x2="290.16" y1="465.00" y2="565.00" stroke="#ebebeb" stroke-width="0.5"/>
<line x1="314.58" x2="314.58" y1="465.00" y2="565.00" stroke="#ebebeb" stroke-width="0.5"/>
<line x1="339.00" x2="339.00" y1="465.00" y2="565.00" stroke="#ebebeb" stroke-width="0.5"/>
<line x1="274.40" x2="357.40" y1="491.84" y2="491.84" stroke="#e8e8e8" stroke-width="0.95"/>
<line x1="274.40" x2="357.40" y1="527.35" y2="527.35" stroke="#e8e8e8" stroke-width="0.95"/>
<line x1="274.40" x2="357.40" y1="562.68" y2="562.68" stroke="#e8e8e8" stroke-width="0.95"/>
<line x1="277.95" x2="277.95" y1="465.00" y2="565.00" stroke="#e8e8e8" stroke-width="0.95"/>
<line x1="302.37" x2="302.37" y1="465.00" y2="565.00" stroke="#e8e8e8" stroke-width="0.95"/>
<line x1="326.79" x2="326.79" y1="465.00" y2="565.00" stroke="#e8e8e8" stroke-width="0.95"/>
<line x1="351.21" x2="351.21" y1="465.00" y2="565.00" stroke="#e8e8e8" stroke-width="0.95"/>
<g clip-path="url(#c32)">
<polyline points="277.95,544.11 280.39,544.26 282.83,544.40 285.28,544.47 287.72,544.20 290.16,543.53 292.60,542.67 295.04,541.40 297.49,539.55 299.93,537.37 302.37,535.10 304.81,532.26 307.25,528.85 309.70,525.87 312.14,524.28 314.58,523.92 317.02,524.55 319.46,525.18 321.91,524.48 324.35,522.97 326.79,521.58 329.23,520.68 331.67,519.87 334.12,518.88 336.56,517.48 339.00,515.75 341.44,513.87 343.88,512.03 346.33,510.25 348.77,508.44 351.21,506.63 353.65,504.82" fill="none" stroke="#F8766D" stroke-width="1.15" stroke-linejoin="round"/>
<polyline points="277.95,545.55 280.39,545.70 282.83,545.85 285.28,545.91 287.72,545.64 290.16,544.97 292.60,544.11 295.04,542.84 297.49,540.99 299.93,538.81 302.37,536.54 304.81,533.60 307.25,530.02 309.70,527.00 312.14,525.73 314.58,525.73 317.02,526.63 319.46,527.53 321.91,527.02 324.35,525.98 326.79,525.18 329.23,524.87 331.67,524.65 334.12,524.28 336.56,523.11 339.00,520.99 341.44,518.49 343.88,516.17 346.33,514.14 348.77,512.12 351.21,510.09 353.65,508.06" fill="none" stroke="#00BA38" stroke-width="1.15" stroke-linejoin="round"/>
<polyline points="277.95,542.31 280.39,542.68 282.83,543.04 285.28,543.21 287.72,542.94 290.16,542.28 292.60,541.41 295.04,540.07 297.49,538.06 299.93,535.70 302.37,533.30 304.81,530.41 307.25,527.01 309.70,524.05 312.14,522.48 314.58,522.12 317.02,522.30 319.46,522.48 321.91,521.61 324.35,519.74 326.79,517.97 329.23,516.73 331.67,515.57 334.12,514.37 336.56,513.10 339.00,511.80 341.44,510.44 343.88,508.96 346.33,507.30 348.77,505.49 351.21,503.60 353.65,501.75" fill="none" stroke="#619CFF" stroke-width="1.15" stroke-linejoin="round"/>
<polygon points="277.95,525.18 280.39,526.29 282.83,527.39 285.28,527.89 287.72,527.68 290.16,527.16 292.60,526.45 295.04,525.18 297.49,523.12 299.93,520.61 302.37,517.97 304.81,514.67 307.25,510.63 309.70,506.98 312.14,504.82 314.58,504.10 317.02,506.08 319.46,508.06 321.91,507.26 324.35,505.45 326.79,503.56 329.23,501.87 331.67,500.07 334.12,498.15 336.56,496.10 339.00,493.92 341.44,491.60 343.88,489.14 346.33,486.42 348.77,483.47 351.21,480.42 353.65,477.42 353.65,526.99 351.21,527.72 348.77,528.43 346.33,529.18 343.88,530.05 341.44,531.23 339.00,532.65 336.56,534.04 334.12,535.10 331.67,535.75 329.23,536.27 326.79,536.90 324.35,538.08 321.91,539.48 319.46,540.14 317.02,539.87 314.58,539.60 312.14,539.60 309.70,540.62 307.25,543.07 304.81,546.04 302.37,548.62 299.93,550.81 297.49,553.02 295.04,554.97 292.60,556.37 290.16,557.29 287.72,558.01 285.28,558.53 282.83,558.89 280.39,559.16 277.95,559.43" fill="#F8766D" fill-opacity="0.2"/>
<polygon points="277.95,529.33 280.39,529.62 282.83,529.92 285.28,530.05 287.72,529.78 290.16,529.12 292.60,528.25 295.04,526.98 297.49,525.10 299.93,522.81 302.37,520.32 304.81,517.05 307.25,512.96 309.70,509.04 312.14,506.26 314.58,504.82 317.02,507.79 319.46,510.76 321.91,510.10 324.35,508.63 326.79,507.16 329.23,506.05 331.67,504.93 334.12,503.56 336.56,501.60 339.00,499.10 341.44,496.35 343.88,493.64 346.33,491.00 348.77,488.29 351.21,485.55 353.65,482.83 353.65,528.79 351.21,529.88 348.77,530.95 346.33,532.06 343.88,533.30 341.44,534.90 339.00,536.78 336.56,538.50 334.12,539.60 331.67,540.12 329.23,540.48 326.79,540.87 324.35,541.44 321.91,542.03 319.46,542.31 317.02,541.59 314.58,540.87 312.14,540.87 309.70,541.90 307.25,544.37 304.81,547.34 302.37,549.88 299.93,551.93 297.49,553.95 295.04,555.74 292.60,557.09 290.16,558.11 287.72,558.93 285.28,559.43 282.83,559.66 280.39,559.82 277.95,559.97" fill="#00BA38" fill-opacity="0.2"/>
<polygon points="277.95,520.68 280.39,522.15 282.83,523.62 285.28,524.28 287.72,524.16 290.16,523.84 292.60,523.38 295.04,522.28 297.49,520.27 299.93,517.79 302.37,515.27 304.81,512.33 307.25,508.84 309.70,505.64 312.14,503.56 314.58,502.65 317.02,504.01 319.46,505.36 321.91,504.25 324.35,501.74 326.79,499.05 329.23,496.38 331.67,493.49 334.12,490.94 336.56,489.02 339.00,487.42 341.44,485.77 343.88,483.73 346.33,480.93 348.77,477.48 351.21,473.78 353.65,470.21 353.65,525.18 351.21,526.10 348.77,527.02 346.33,527.93 343.88,528.79 341.44,529.59 339.00,530.35 336.56,531.09 334.12,531.85 331.67,532.58 329.23,533.32 326.79,534.20 324.35,535.72 321.91,537.49 319.46,538.34 317.02,538.34 314.58,538.34 312.14,538.70 309.70,540.02 307.25,542.41 304.81,545.21 302.37,547.72 299.93,550.01 297.49,552.39 295.04,554.45 292.60,555.83 290.16,556.61 287.72,557.18 285.28,557.63 282.83,557.97 280.39,558.25 277.95,558.53" fill="#619CFF" fill-opacity="0.2"/>
</g>
<rect x="274.40" y="465.00" width="83.0" height="100.0" fill="none" stroke="#333" stroke-opacity="0.5" stroke-width="1.1"/>
<rect x="274.40" y="436.40" width="83.0" height="14.2" fill="#d9d9d9" stroke="#333" stroke-opacity="0.72" stroke-width="0.9"/>
<rect x="274.40" y="450.60" width="83.0" height="14.4" fill="#d9d9d9" stroke="#333" stroke-opacity="0.72" stroke-width="0.9"/>
<text x="315.90" y="446.30" text-anchor="middle" font-size="7.5" fill="#2b2b2b">DALYs</text>
<text x="315.90" y="460.60" text-anchor="middle" font-size="7.5" fill="#2b2b2b">High-middle SDI</text>
<line x1="271.60" x2="274.40" y1="491.84" y2="491.84" stroke="#333" stroke-width="1.0"/>
<text x="269.80" y="494.54" text-anchor="end" font-size="7.5" fill="#4d4d4d">200</text>
<line x1="271.60" x2="274.40" y1="527.35" y2="527.35" stroke="#333" stroke-width="1.0"/>
<text x="269.80" y="530.05" text-anchor="end" font-size="7.5" fill="#4d4d4d">150</text>
<line x1="271.60" x2="274.40" y1="562.68" y2="562.68" stroke="#333" stroke-width="1.0"/>
<text x="269.80" y="565.38" text-anchor="end" font-size="7.5" fill="#4d4d4d">100</text>
<line x1="277.95" x2="277.95" y1="565.00" y2="567.80" stroke="#333" stroke-width="1.0"/>
<text x="277.95" y="575.20" text-anchor="middle" font-size="7.5" fill="#4d4d4d">1990</text>
<line x1="302.37" x2="302.37" y1="565.00" y2="567.80" stroke="#333" stroke-width="1.0"/>
<text x="302.37" y="575.20" text-anchor="middle" font-size="7.5" fill="#4d4d4d">2000</text>
<line x1="326.79" x2="326.79" y1="565.00" y2="567.80" stroke="#333" stroke-width="1.0"/>
<text x="326.79" y="575.20" text-anchor="middle" font-size="7.5" fill="#4d4d4d">2010</text>
<line x1="351.21" x2="351.21" y1="565.00" y2="567.80" stroke="#333" stroke-width="1.0"/>
<text x="351.21" y="575.20" text-anchor="middle" font-size="7.5" fill="#4d4d4d">2020</text>
</g>
<g>
<clipPath id="c33"><rect x="386.40" y="465.00" width="83.0" height="100.0"/></clipPath>
<rect x="386.40" y="465.00" width="83.0" height="100.0" fill="#fff"/>
<line x1="386.40" x2="469.40" y1="469.13" y2="469.13" stroke="#ebebeb" stroke-width="0.5"/>
<line x1="386.40" x2="469.40" y1="490.40" y2="490.40" stroke="#ebebeb" stroke-width="0.5"/>
<line x1="386.40" x2="469.40" y1="511.67" y2="511.67" stroke="#ebebeb" stroke-width="0.5"/>
<line x1="386.40" x2="469.40" y1="532.94" y2="532.94" stroke="#ebebeb" stroke-width="0.5"/>
<line x1="386.40" x2="469.40" y1="554.20" y2="554.20" stroke="#ebebeb" stroke-width="0.5"/>
<line x1="402.16" x2="402.16" y1="465.00" y2="565.00" stroke="#ebebeb" stroke-width="0.5"/>
<line x1="426.58" x2="426.58" y1="465.00" y2="565.00" stroke="#ebebeb" stroke-width="0.5"/>
<line x1="451.00" x2="451.00" y1="465.00" y2="565.00" stroke="#ebebeb" stroke-width="0.5"/>
<line x1="386.40" x2="469.40" y1="479.76" y2="479.76" stroke="#e8e8e8" stroke-width="0.95"/>
<line x1="386.40" x2="469.40" y1="501.03" y2="501.03" stroke="#e8e8e8" stroke-width="0.95"/>
<line x1="386.40" x2="469.40" y1="522.30" y2="522.30" stroke="#e8e8e8" stroke-width="0.95"/>
<line x1="386.40" x2="469.40" y1="543.57" y2="543.57" stroke="#e8e8e8" stroke-width="0.95"/>
<line x1="386.40" x2="469.40" y1="564.84" y2="564.84" stroke="#e8e8e8" stroke-width="0.95"/>
<line x1="389.95" x2="389.95" y1="465.00" y2="565.00" stroke="#e8e8e8" stroke-width="0.95"/>
<line x1="414.37" x2="414.37" y1="465.00" y2="565.00" stroke="#e8e8e8" stroke-width="0.95"/>
<line x1="438.79" x2="438.79" y1="465.00" y2="565.00" stroke="#e8e8e8" stroke-width="0.95"/>
<line x1="463.21" x2="463.21" y1="465.00" y2="565.00" stroke="#e8e8e8" stroke-width="0.95"/>
<g clip-path="url(#c33)">
<polyline points="389.95,543.75 392.39,544.50 394.83,545.33 397.28,546.00 399.72,546.27 402.16,546.10 404.60,545.64 407.04,545.01 409.49,543.73 411.93,541.70 414.37,539.60 416.81,537.32 419.25,534.75 421.70,532.57 424.14,531.49 426.58,531.31 429.02,531.13 431.46,530.14 433.91,528.19 436.35,525.91 438.79,523.92 441.23,522.37 443.67,520.92 446.12,519.48 448.56,517.97 451.00,516.40 453.44,514.80 455.88,513.12 458.33,511.31 460.77,509.26 463.21,507.04 465.65,504.82" fill="none" stroke="#F8766D" stroke-width="1.15" stroke-linejoin="round"/>
<polyline points="389.95,544.47 392.39,545.17 394.83,545.94 397.28,546.56 399.72,546.81 402.16,546.74 404.60,546.55 407.04,546.27 409.49,545.41 411.93,543.88 414.37,542.31 416.81,540.63 419.25,538.74 421.70,537.18 424.14,536.54 426.58,536.54 429.02,536.54 431.46,536.02 433.91,534.76 436.35,533.22 438.79,531.85 441.23,530.79 443.67,529.78 446.12,528.72 448.56,527.53 451.00,526.12 453.44,524.54 455.88,522.83 458.33,521.04 460.77,519.10 463.21,517.00 465.65,514.91" fill="none" stroke="#00BA38" stroke-width="1.15" stroke-linejoin="round"/>
<polyline points="389.95,543.21 392.39,543.90 394.83,544.67 397.28,545.30 399.72,545.55 402.16,545.10 404.60,544.01 407.04,542.67 409.49,540.85 411.93,538.45 414.37,536.00 416.81,533.32 419.25,530.36 421.70,527.83 424.14,526.45 426.58,526.09 429.02,525.73 431.46,524.32 433.91,521.76 436.35,518.79 438.79,516.17 441.23,514.02 443.67,511.95 446.12,509.96 448.56,508.06 451.00,506.31 453.44,504.68 455.88,503.03 458.33,501.21 460.77,499.11 463.21,496.83 465.65,494.54" fill="none" stroke="#619CFF" stroke-width="1.15" stroke-linejoin="round"/>
<polygon points="389.95,527.89 392.39,529.23 394.83,530.70 397.28,531.90 399.72,532.39 402.16,532.39 404.60,532.39 407.04,532.39 409.49,531.44 411.93,529.27 414.37,526.99 416.81,524.59 419.25,521.83 421.70,519.40 424.14,517.97 426.58,517.52 429.02,517.07 431.46,515.78 433.91,513.63 436.35,511.17 438.79,508.96 441.23,507.12 443.67,505.36 446.12,503.59 448.56,501.75 451.00,499.87 453.44,497.96 455.88,495.93 458.33,493.64 460.77,490.89 463.21,487.76 465.65,484.63 465.65,523.38 463.21,524.90 460.77,526.42 458.33,527.89 455.88,529.31 453.44,530.69 451.00,532.03 448.56,533.30 446.12,534.44 443.67,535.51 441.23,536.59 438.79,537.80 436.35,539.40 433.91,541.28 431.46,543.00 429.02,544.11 426.58,544.56 424.14,545.01 421.70,546.05 419.25,547.65 416.81,549.51 414.37,551.32 411.93,553.27 409.49,555.30 407.04,556.73 404.60,557.60 402.16,558.26 399.72,558.53 397.28,558.43 394.83,558.19 392.39,557.90 389.95,557.63" fill="#F8766D" fill-opacity="0.2"/>
<polygon points="389.95,528.79 392.39,530.09 394.83,531.50 397.28,532.69 399.72,533.30 402.16,533.48 404.60,533.61 407.04,533.66 409.49,532.95 411.93,531.36 414.37,529.69 416.81,527.90 419.25,525.82 421.70,524.10 424.14,523.38 426.58,523.38 429.02,523.38 431.46,522.81 433.91,521.41 436.35,519.64 438.79,517.97 441.23,516.49 443.67,514.93 446.12,513.33 448.56,511.67 451.00,509.98 453.44,508.26 455.88,506.43 458.33,504.46 460.77,502.20 463.21,499.72 465.65,497.25 465.65,531.13 463.21,532.79 460.77,534.44 458.33,536.00 455.88,537.47 453.44,538.90 451.00,540.23 448.56,541.41 446.12,542.40 443.67,543.27 441.23,544.11 438.79,545.01 436.35,546.15 433.91,547.42 431.46,548.53 429.02,549.16 426.58,549.34 424.14,549.52 421.70,550.15 419.25,551.29 416.81,552.67 414.37,554.02 411.93,555.60 409.49,557.27 407.04,558.17 404.60,558.36 402.16,558.49 399.72,558.53 397.28,558.33 394.83,557.85 392.39,557.26 389.95,556.73" fill="#00BA38" fill-opacity="0.2"/>
<polygon points="389.95,525.18 392.39,526.79 394.83,528.56 397.28,530.00 399.72,530.59 402.16,530.42 404.60,529.97 407.04,529.33 409.49,527.79 411.93,525.21 414.37,522.48 416.81,519.49 419.25,516.06 421.70,513.06 424.14,511.31 426.58,510.76 429.02,510.22 431.46,508.60 433.91,505.87 436.35,502.75 438.79,499.95 441.23,497.63 443.67,495.42 446.12,493.22 448.56,490.94 451.00,488.62 453.44,486.28 455.88,483.80 458.33,481.02 460.77,477.70 463.21,473.96 465.65,470.21 465.65,515.27 463.21,516.79 460.77,518.31 458.33,519.78 455.88,521.15 453.44,522.47 451.00,523.79 448.56,525.18 446.12,526.65 443.67,528.15 441.23,529.75 438.79,531.49 436.35,533.76 433.91,536.44 431.46,538.81 429.02,540.14 426.58,540.51 424.14,540.87 421.70,542.08 419.25,544.22 416.81,546.76 414.37,549.16 411.93,551.49 409.49,553.88 407.04,555.83 404.60,557.37 402.16,558.67 399.72,559.43 397.28,559.75 394.83,559.97 392.39,560.14 389.95,560.33" fill="#619CFF" fill-opacity="0.2"/>
</g>
<rect x="386.40" y="465.00" width="83.0" height="100.0" fill="none" stroke="#333" stroke-opacity="0.5" stroke-width="1.1"/>
<rect x="386.40" y="436.40" width="83.0" height="14.2" fill="#d9d9d9" stroke="#333" stroke-opacity="0.72" stroke-width="0.9"/>
<rect x="386.40" y="450.60" width="83.0" height="14.4" fill="#d9d9d9" stroke="#333" stroke-opacity="0.72" stroke-width="0.9"/>
<text x="427.90" y="446.30" text-anchor="middle" font-size="7.5" fill="#2b2b2b">DALYs</text>
<text x="427.90" y="460.60" text-anchor="middle" font-size="7.5" fill="#2b2b2b">Middle SDI</text>
<line x1="383.60" x2="386.40" y1="479.76" y2="479.76" stroke="#333" stroke-width="1.0"/>
<text x="381.80" y="482.46" text-anchor="end" font-size="7.5" fill="#4d4d4d">350</text>
<line x1="383.60" x2="386.40" y1="501.03" y2="501.03" stroke="#333" stroke-width="1.0"/>
<text x="381.80" y="503.73" text-anchor="end" font-size="7.5" fill="#4d4d4d">300</text>
<line x1="383.60" x2="386.40" y1="522.30" y2="522.30" stroke="#333" stroke-width="1.0"/>
<text x="381.80" y="525.00" text-anchor="end" font-size="7.5" fill="#4d4d4d">250</text>
<line x1="383.60" x2="386.40" y1="543.57" y2="543.57" stroke="#333" stroke-width="1.0"/>
<text x="381.80" y="546.27" text-anchor="end" font-size="7.5" fill="#4d4d4d">200</text>
<line x1="383.60" x2="386.40" y1="564.84" y2="564.84" stroke="#333" stroke-width="1.0"/>
<text x="381.80" y="567.54" text-anchor="end" font-size="7.5" fill="#4d4d4d">150</text>
<line x1="389.95" x2="389.95" y1="565.00" y2="567.80" stroke="#333" stroke-width="1.0"/>
<text x="389.95" y="575.20" text-anchor="middle" font-size="7.5" fill="#4d4d4d">1990</text>
<line x1="414.37" x2="414.37" y1="565.00" y2="567.80" stroke="#333" stroke-width="1.0"/>
<text x="414.37" y="575.20" text-anchor="middle" font-size="7.5" fill="#4d4d4d">2000</text>
<line x1="438.79" x2="438.79" y1="565.00" y2="567.80" stroke="#333" stroke-width="1.0"/>
<text x="438.79" y="575.20" text-anchor="middle" font-size="7.5" fill="#4d4d4d">2010</text>
<line x1="463.21" x2="463.21" y1="565.00" y2="567.80" stroke="#333" stroke-width="1.0"/>
<text x="463.21" y="575.20" text-anchor="middle" font-size="7.5" fill="#4d4d4d">2020</text>
</g>
<g>
<clipPath id="c34"><rect x="498.40" y="465.00" width="83.0" height="100.0"/></clipPath>
<rect x="498.40" y="465.00" width="83.0" height="100.0" fill="#fff"/>
<line x1="498.40" x2="581.40" y1="465.88" y2="465.88" stroke="#ebebeb" stroke-width="0.5"/>
<line x1="498.40" x2="581.40" y1="487.87" y2="487.87" stroke="#ebebeb" stroke-width="0.5"/>
<line x1="498.40" x2="581.40" y1="509.86" y2="509.86" stroke="#ebebeb" stroke-width="0.5"/>
<line x1="498.40" x2="581.40" y1="531.85" y2="531.85" stroke="#ebebeb" stroke-width="0.5"/>
<line x1="498.40" x2="581.40" y1="553.84" y2="553.84" stroke="#ebebeb" stroke-width="0.5"/>
<line x1="514.16" x2="514.16" y1="465.00" y2="565.00" stroke="#ebebeb" stroke-width="0.5"/>
<line x1="538.58" x2="538.58" y1="465.00" y2="565.00" stroke="#ebebeb" stroke-width="0.5"/>
<line x1="563.00" x2="563.00" y1="465.00" y2="565.00" stroke="#ebebeb" stroke-width="0.5"/>
<line x1="498.40" x2="581.40" y1="476.88" y2="476.88" stroke="#e8e8e8" stroke-width="0.95"/>
<line x1="498.40" x2="581.40" y1="498.87" y2="498.87" stroke="#e8e8e8" stroke-width="0.95"/>
<line x1="498.40" x2="581.40" y1="520.86" y2="520.86" stroke="#e8e8e8" stroke-width="0.95"/>
<line x1="498.40" x2="581.40" y1="542.85" y2="542.85" stroke="#e8e8e8" stroke-width="0.95"/>
<line x1="498.40" x2="581.40" y1="564.84" y2="564.84" stroke="#e8e8e8" stroke-width="0.95"/>
<line x1="501.95" x2="501.95" y1="465.00" y2="565.00" stroke="#e8e8e8" stroke-width="0.95"/>
<line x1="526.37" x2="526.37" y1="465.00" y2="565.00" stroke="#e8e8e8" stroke-width="0.95"/>
<line x1="550.79" x2="550.79" y1="465.00" y2="565.00" stroke="#e8e8e8" stroke-width="0.95"/>
<line x1="575.21" x2="575.21" y1="465.00" y2="565.00" stroke="#e8e8e8" stroke-width="0.95"/>
<g clip-path="url(#c34)">
<polyline points="501.95,538.34 504.39,537.68 506.83,537.02 509.28,536.35 511.72,535.71 514.16,535.10 516.60,534.55 519.04,534.07 521.49,533.58 523.93,533.04 526.37,532.39 528.81,531.53 531.25,530.44 533.70,529.25 536.14,528.06 538.58,526.99 541.02,526.02 543.46,525.07 545.91,524.17 548.35,523.30 550.79,522.48 553.23,521.80 555.67,521.16 558.12,520.32 560.56,518.81 563.00,517.07 565.44,515.74 567.88,514.37 570.33,512.30 572.77,510.76 575.21,510.44 577.65,510.22" fill="none" stroke="#F8766D" stroke-width="1.15" stroke-linejoin="round"/>
<polyline points="501.95,549.52 504.39,548.86 506.83,548.18 509.28,547.51 511.72,546.87 514.16,546.27 516.60,545.76 519.04,545.30 521.49,544.85 523.93,544.35 526.37,543.75 528.81,542.93 531.25,541.89 533.70,540.76 536.14,539.66 538.58,538.70 541.02,537.91 543.46,537.17 545.91,536.48 548.35,535.80 550.79,535.10 553.23,534.44 555.67,533.77 558.12,532.94 560.56,531.58 563.00,530.05 565.44,528.81 567.88,527.53 570.33,525.73 572.77,524.28 575.21,523.77 577.65,523.38" fill="none" stroke="#00BA38" stroke-width="1.15" stroke-linejoin="round"/>
<polyline points="501.95,528.25 504.39,527.64 506.83,527.05 509.28,526.45 511.72,525.83 514.16,525.18 516.60,524.53 519.04,523.88 521.49,523.19 523.93,522.44 526.37,521.58 528.81,520.52 531.25,519.24 533.70,517.86 536.14,516.50 538.58,515.27 541.02,514.16 543.46,513.09 545.91,512.06 548.35,511.10 550.79,510.22 553.23,509.51 555.67,508.86 558.12,508.06 560.56,506.86 563.00,505.36 565.44,503.69 567.88,501.75 570.33,498.92 572.77,496.89 575.21,496.56 577.65,496.35" fill="none" stroke="#619CFF" stroke-width="1.15" stroke-linejoin="round"/>
<polygon points="501.95,522.84 504.39,522.43 506.83,522.03 509.28,521.62 511.72,521.18 514.16,520.68 516.60,520.10 519.04,519.46 521.49,518.74 523.93,517.95 526.37,517.07 528.81,516.00 531.25,514.70 533.70,513.30 536.14,511.95 538.58,510.76 541.02,509.77 543.46,508.85 545.91,507.99 548.35,507.14 550.79,506.26 553.23,505.43 555.67,504.60 558.12,503.56 560.56,501.90 563.00,499.95 565.44,498.31 567.88,496.35 570.33,492.02 572.77,488.59 575.21,488.16 577.65,487.87 577.65,526.45 575.21,526.67 572.77,526.99 570.33,528.30 567.88,530.05 565.44,531.24 563.00,532.39 560.56,533.82 558.12,535.10 555.67,535.92 553.23,536.57 550.79,537.26 548.35,538.03 545.91,538.82 543.46,539.64 541.02,540.50 538.58,541.41 536.14,542.44 533.70,543.61 531.25,544.80 528.81,545.90 526.37,546.81 523.93,547.54 521.49,548.17 519.04,548.75 516.60,549.30 514.16,549.88 511.72,550.47 509.28,551.04 506.83,551.62 504.39,552.19 501.95,552.76" fill="#F8766D" fill-opacity="0.2"/>
<polygon points="501.95,535.10 504.39,534.56 506.83,534.02 509.28,533.48 511.72,532.94 514.16,532.39 516.60,531.88 519.04,531.40 521.49,530.90 523.93,530.35 526.37,529.69 528.81,528.82 531.25,527.74 533.70,526.55 536.14,525.36 538.58,524.28 541.02,523.33 543.46,522.42 545.91,521.54 548.35,520.67 550.79,519.78 553.23,518.92 555.67,518.06 558.12,517.07 560.56,515.81 563.00,514.37 565.44,512.96 567.88,511.31 570.33,508.39 572.77,506.26 575.21,506.04 577.65,505.90 577.65,537.80 575.21,537.80 572.77,537.80 570.33,538.88 567.88,540.51 565.44,541.43 563.00,542.31 560.56,543.41 558.12,544.47 555.67,545.32 553.23,546.08 550.79,546.81 548.35,547.54 545.91,548.24 543.46,548.93 541.02,549.65 538.58,550.42 536.14,551.29 533.70,552.26 531.25,553.24 528.81,554.15 526.37,554.93 523.93,555.55 521.49,556.10 519.04,556.61 516.60,557.11 514.16,557.63 511.72,558.17 509.28,558.71 506.83,559.25 504.39,559.79 501.95,560.33" fill="#00BA38" fill-opacity="0.2"/>
<polygon points="501.95,507.16 504.39,506.81 506.83,506.46 509.28,506.11 511.72,505.75 514.16,505.36 516.60,504.96 519.04,504.57 521.49,504.14 523.93,503.64 526.37,503.01 528.81,502.05 531.25,500.68 533.70,499.13 536.14,497.62 538.58,496.35 541.02,495.36 543.46,494.49 545.91,493.66 548.35,492.80 550.79,491.84 553.23,490.78 555.67,489.61 558.12,488.23 560.56,486.38 563.00,484.27 565.44,482.41 567.88,480.12 570.33,474.71 572.77,470.57 575.21,470.35 577.65,470.21 577.65,517.97 575.21,517.97 572.77,517.97 570.33,519.14 567.88,521.04 565.44,522.54 563.00,523.92 560.56,525.09 558.12,526.09 555.67,526.86 553.23,527.52 550.79,528.25 548.35,529.09 545.91,529.98 543.46,530.93 541.02,531.91 538.58,532.94 536.14,534.06 533.70,535.31 531.25,536.57 528.81,537.74 526.37,538.70 523.93,539.47 521.49,540.14 519.04,540.75 516.60,541.34 514.16,541.95 511.72,542.57 509.28,543.19 506.83,543.79 504.39,544.40 501.95,545.01" fill="#619CFF" fill-opacity="0.2"/>
</g>
<rect x="498.40" y="465.00" width="83.0" height="100.0" fill="none" stroke="#333" stroke-opacity="0.5" stroke-width="1.1"/>
<rect x="498.40" y="436.40" width="83.0" height="14.2" fill="#d9d9d9" stroke="#333" stroke-opacity="0.72" stroke-width="0.9"/>
<rect x="498.40" y="450.60" width="83.0" height="14.4" fill="#d9d9d9" stroke="#333" stroke-opacity="0.72" stroke-width="0.9"/>
<text x="539.90" y="446.30" text-anchor="middle" font-size="7.5" fill="#2b2b2b">DALYs</text>
<text x="539.90" y="460.60" text-anchor="middle" font-size="7.5" fill="#2b2b2b">Low-middle SDI</text>
<line x1="495.60" x2="498.40" y1="476.88" y2="476.88" stroke="#333" stroke-width="1.0"/>
<text x="493.80" y="479.58" text-anchor="end" font-size="7.5" fill="#4d4d4d">300</text>
<line x1="495.60" x2="498.40" y1="498.87" y2="498.87" stroke="#333" stroke-width="1.0"/>
<text x="493.80" y="501.57" text-anchor="end" font-size="7.5" fill="#4d4d4d">250</text>
<line x1="495.60" x2="498.40" y1="520.86" y2="520.86" stroke="#333" stroke-width="1.0"/>
<text x="493.80" y="523.56" text-anchor="end" font-size="7.5" fill="#4d4d4d">200</text>
<line x1="495.60" x2="498.40" y1="542.85" y2="542.85" stroke="#333" stroke-width="1.0"/>
<text x="493.80" y="545.55" text-anchor="end" font-size="7.5" fill="#4d4d4d">150</text>
<line x1="495.60" x2="498.40" y1="564.84" y2="564.84" stroke="#333" stroke-width="1.0"/>
<text x="493.80" y="567.54" text-anchor="end" font-size="7.5" fill="#4d4d4d">100</text>
<line x1="501.95" x2="501.95" y1="565.00" y2="567.80" stroke="#333" stroke-width="1.0"/>
<text x="501.95" y="575.20" text-anchor="middle" font-size="7.5" fill="#4d4d4d">1990</text>
<line x1="526.37" x2="526.37" y1="565.00" y2="567.80" stroke="#333" stroke-width="1.0"/>
<text x="526.37" y="575.20" text-anchor="middle" font-size="7.5" fill="#4d4d4d">2000</text>
<line x1="550.79" x2="550.79" y1="565.00" y2="567.80" stroke="#333" stroke-width="1.0"/>
<text x="550.79" y="575.20" text-anchor="middle" font-size="7.5" fill="#4d4d4d">2010</text>
<line x1="575.21" x2="575.21" y1="565.00" y2="567.80" stroke="#333" stroke-width="1.0"/>
<text x="575.21" y="575.20" text-anchor="middle" font-size="7.5" fill="#4d4d4d">2020</text>
</g>
<g>
<clipPath id="c35"><rect x="610.40" y="465.00" width="83.0" height="100.0"/></clipPath>
<rect x="610.40" y="465.00" width="83.0" height="100.0" fill="#fff"/>
<line x1="610.40" x2="693.40" y1="486.43" y2="486.43" stroke="#ebebeb" stroke-width="0.5"/>
<line x1="610.40" x2="693.40" y1="509.95" y2="509.95" stroke="#ebebeb" stroke-width="0.5"/>
<line x1="610.40" x2="693.40" y1="533.57" y2="533.57" stroke="#ebebeb" stroke-width="0.5"/>
<line x1="610.40" x2="693.40" y1="557.09" y2="557.09" stroke="#ebebeb" stroke-width="0.5"/>
<line x1="626.16" x2="626.16" y1="465.00" y2="565.00" stroke="#ebebeb" stroke-width="0.5"/>
<line x1="650.58" x2="650.58" y1="465.00" y2="565.00" stroke="#ebebeb" stroke-width="0.5"/>
<line x1="675.00" x2="675.00" y1="465.00" y2="565.00" stroke="#ebebeb" stroke-width="0.5"/>
<line x1="610.40" x2="693.40" y1="474.72" y2="474.72" stroke="#e8e8e8" stroke-width="0.95"/>
<line x1="610.40" x2="693.40" y1="498.15" y2="498.15" stroke="#e8e8e8" stroke-width="0.95"/>
<line x1="610.40" x2="693.40" y1="521.76" y2="521.76" stroke="#e8e8e8" stroke-width="0.95"/>
<line x1="610.40" x2="693.40" y1="545.37" y2="545.37" stroke="#e8e8e8" stroke-width="0.95"/>
<line x1="613.95" x2="613.95" y1="465.00" y2="565.00" stroke="#e8e8e8" stroke-width="0.95"/>
<line x1="638.37" x2="638.37" y1="465.00" y2="565.00" stroke="#e8e8e8" stroke-width="0.95"/>
<line x1="662.79" x2="662.79" y1="465.00" y2="565.00" stroke="#e8e8e8" stroke-width="0.95"/>
<line x1="687.21" x2="687.21" y1="465.00" y2="565.00" stroke="#e8e8e8" stroke-width="0.95"/>
<g clip-path="url(#c35)">
<polyline points="613.95,521.58 616.39,521.74 618.83,521.89 621.28,522.04 623.72,522.23 626.16,522.48 628.60,522.91 631.04,523.55 633.49,524.35 635.93,525.22 638.37,526.09 640.81,526.96 643.25,527.91 645.70,528.93 648.14,530.00 650.58,531.13 653.02,532.58 655.46,534.14 657.91,535.10 660.35,535.48 662.79,535.64 665.23,535.46 667.67,535.10 670.12,534.37 672.56,533.41 675.00,532.94 677.44,532.94 679.88,532.94 682.33,532.94 684.77,532.21 687.21,531.49 689.65,532.39" fill="none" stroke="#F8766D" stroke-width="1.15" stroke-linejoin="round"/>
<polyline points="613.95,537.26 616.39,537.47 618.83,537.66 621.28,537.86 623.72,538.08 626.16,538.34 628.60,538.66 631.04,539.03 633.49,539.46 635.93,539.95 638.37,540.51 640.81,541.18 643.25,542.01 645.70,542.96 648.14,543.97 650.58,545.01 653.02,546.32 655.46,547.73 657.91,548.62 660.35,548.99 662.79,549.16 665.23,548.77 667.67,548.08 670.12,547.34 672.56,546.53 675.00,545.91 677.44,545.58 679.88,545.34 682.33,545.01 684.77,544.34 687.21,543.75 689.65,543.57" fill="none" stroke="#00BA38" stroke-width="1.15" stroke-linejoin="round"/>
<polyline points="613.95,504.46 616.39,504.86 618.83,505.24 621.28,505.63 623.72,506.08 626.16,506.62 628.60,507.35 631.04,508.29 633.49,509.37 635.93,510.52 638.37,511.67 640.81,512.83 643.25,514.06 645.70,515.34 648.14,516.65 650.58,517.97 653.02,519.64 655.46,521.34 657.91,522.12 660.35,522.12 662.79,522.12 665.23,522.12 667.67,522.12 670.12,521.51 672.56,520.38 675.00,519.78 677.44,520.01 679.88,520.44 682.33,520.68 684.77,519.96 687.21,519.24 689.65,521.04" fill="none" stroke="#619CFF" stroke-width="1.15" stroke-linejoin="round"/>
<polygon points="613.95,499.95 616.39,500.29 618.83,500.60 621.28,500.93 623.72,501.30 626.16,501.75 628.60,502.36 631.04,503.12 633.49,504.00 635.93,504.95 638.37,505.90 640.81,506.86 643.25,507.88 645.70,508.95 648.14,510.09 650.58,511.31 653.02,512.81 655.46,514.45 657.91,515.63 660.35,516.36 662.79,516.71 665.23,516.35 667.67,515.63 670.12,514.37 672.56,512.80 675.00,512.03 677.44,512.31 679.88,512.83 682.33,513.11 684.77,512.57 687.21,512.03 689.65,513.47 689.65,545.55 687.21,545.01 684.77,545.57 682.33,546.27 679.88,546.48 677.44,546.61 675.00,546.81 672.56,547.44 670.12,548.40 667.67,549.16 665.23,549.64 662.79,549.88 660.35,549.77 657.91,549.52 655.46,548.75 653.02,547.46 650.58,546.27 648.14,545.36 645.70,544.48 643.25,543.66 640.81,542.93 638.37,542.31 635.93,541.75 633.49,541.23 631.04,540.76 628.60,540.39 626.16,540.14 623.72,540.00 621.28,539.88 618.83,539.79 616.39,539.70 613.95,539.60" fill="#F8766D" fill-opacity="0.2"/>
<polygon points="613.95,519.24 616.39,519.44 618.83,519.62 621.28,519.81 623.72,520.04 626.16,520.32 628.60,520.72 631.04,521.27 633.49,521.92 635.93,522.63 638.37,523.38 640.81,524.18 643.25,525.08 645.70,526.06 648.14,527.12 650.58,528.25 653.02,529.74 655.46,531.38 657.91,532.39 660.35,532.77 662.79,532.94 665.23,532.57 667.67,531.85 670.12,530.75 672.56,529.43 675.00,528.79 677.44,528.79 679.88,528.79 682.33,528.79 684.77,527.62 687.21,526.45 689.65,526.99 689.65,556.73 687.21,556.73 684.77,557.18 682.33,557.63 679.88,557.63 677.44,557.63 675.00,557.63 672.56,557.98 670.12,558.74 667.67,559.43 665.23,560.01 662.79,560.33 660.35,560.02 657.91,559.43 655.46,558.71 653.02,557.85 650.58,557.09 648.14,556.48 645.70,555.93 643.25,555.42 640.81,554.96 638.37,554.56 635.93,554.22 633.49,553.90 631.04,553.61 628.60,553.36 626.16,553.12 623.72,552.92 621.28,552.73 618.83,552.56 616.39,552.39 613.95,552.22" fill="#00BA38" fill-opacity="0.2"/>
<polygon points="613.95,470.21 616.39,470.90 618.83,471.57 621.28,472.25 623.72,472.99 626.16,473.81 628.60,474.78 631.04,475.88 633.49,477.08 635.93,478.32 638.37,479.58 640.81,480.84 643.25,482.14 645.70,483.49 648.14,484.91 650.58,486.43 653.02,488.24 655.46,490.20 657.91,491.84 660.35,493.25 662.79,494.00 665.23,494.00 667.67,494.00 670.12,493.35 672.56,492.13 675.00,491.48 677.44,491.81 679.88,492.41 682.33,492.74 684.77,491.84 687.21,490.94 689.65,492.74 689.65,536.00 687.21,535.10 684.77,535.88 682.33,536.90 679.88,537.24 677.44,537.47 675.00,537.80 672.56,538.71 670.12,539.99 667.67,540.87 665.23,541.24 662.79,541.41 660.35,541.41 657.91,541.41 655.46,540.73 653.02,539.24 650.58,537.80 648.14,536.61 645.70,535.39 643.25,534.22 640.81,533.19 638.37,532.39 635.93,531.78 633.49,531.26 631.04,530.80 628.60,530.40 626.16,530.05 623.72,529.75 621.28,529.49 618.83,529.26 616.39,529.03 613.95,528.79" fill="#619CFF" fill-opacity="0.2"/>
</g>
<rect x="610.40" y="465.00" width="83.0" height="100.0" fill="none" stroke="#333" stroke-opacity="0.5" stroke-width="1.1"/>
<rect x="610.40" y="436.40" width="83.0" height="14.2" fill="#d9d9d9" stroke="#333" stroke-opacity="0.72" stroke-width="0.9"/>
<rect x="610.40" y="450.60" width="83.0" height="14.4" fill="#d9d9d9" stroke="#333" stroke-opacity="0.72" stroke-width="0.9"/>
<text x="651.90" y="446.30" text-anchor="middle" font-size="7.5" fill="#2b2b2b">DALYs</text>
<text x="651.90" y="460.60" text-anchor="middle" font-size="7.5" fill="#2b2b2b">Low SDI</text>
<line x1="607.60" x2="610.40" y1="474.72" y2="474.72" stroke="#333" stroke-width="1.0"/>
<text x="605.80" y="477.42" text-anchor="end" font-size="7.5" fill="#4d4d4d">300</text>
<line x1="607.60" x2="610.40" y1="498.15" y2="498.15" stroke="#333" stroke-width="1.0"/>
<text x="605.80" y="500.85" text-anchor="end" font-size="7.5" fill="#4d4d4d">250</text>
<line x1="607.60" x2="610.40" y1="521.76" y2="521.76" stroke="#333" stroke-width="1.0"/>
<text x="605.80" y="524.46" text-anchor="end" font-size="7.5" fill="#4d4d4d">200</text>
<line x1="607.60" x2="610.40" y1="545.37" y2="545.37" stroke="#333" stroke-width="1.0"/>
<text x="605.80" y="548.07" text-anchor="end" font-size="7.5" fill="#4d4d4d">150</text>
<line x1="613.95" x2="613.95" y1="565.00" y2="567.80" stroke="#333" stroke-width="1.0"/>
<text x="613.95" y="575.20" text-anchor="middle" font-size="7.5" fill="#4d4d4d">1990</text>
<line x1="638.37" x2="638.37" y1="565.00" y2="567.80" stroke="#333" stroke-width="1.0"/>
<text x="638.37" y="575.20" text-anchor="middle" font-size="7.5" fill="#4d4d4d">2000</text>
<line x1="662.79" x2="662.79" y1="565.00" y2="567.80" stroke="#333" stroke-width="1.0"/>
<text x="662.79" y="575.20" text-anchor="middle" font-size="7.5" fill="#4d4d4d">2010</text>
<line x1="687.21" x2="687.21" y1="565.00" y2="567.80" stroke="#333" stroke-width="1.0"/>
<text x="687.21" y="575.20" text-anchor="middle" font-size="7.5" fill="#4d4d4d">2020</text>
</g>
<text x="708.2" y="291.8" font-size="9.5" fill="#000">sex</text>
<rect x="708.7" y="298.10" width="13.7" height="13.7" fill="#F8766D" fill-opacity="0.2"/>
<line x1="709.7" x2="721.4" y1="305.40" y2="305.40" stroke="#F8766D" stroke-width="0.9"/>
<text x="728.1" y="307.70" font-size="7.5" fill="#000">Both</text>
<rect x="708.7" y="313.10" width="13.7" height="13.7" fill="#00BA38" fill-opacity="0.2"/>
<line x1="709.7" x2="721.4" y1="320.40" y2="320.40" stroke="#00BA38" stroke-width="0.9"/>
<text x="728.1" y="322.70" font-size="7.5" fill="#000">Female</text>
<rect x="708.7" y="328.10" width="13.7" height="13.7" fill="#619CFF" fill-opacity="0.2"/>
<line x1="709.7" x2="721.4" y1="335.40" y2="335.40" stroke="#619CFF" stroke-width="0.9"/>
<text x="728.1" y="337.70" font-size="7.5" fill="#000">Male</text>
</svg></body></html>
